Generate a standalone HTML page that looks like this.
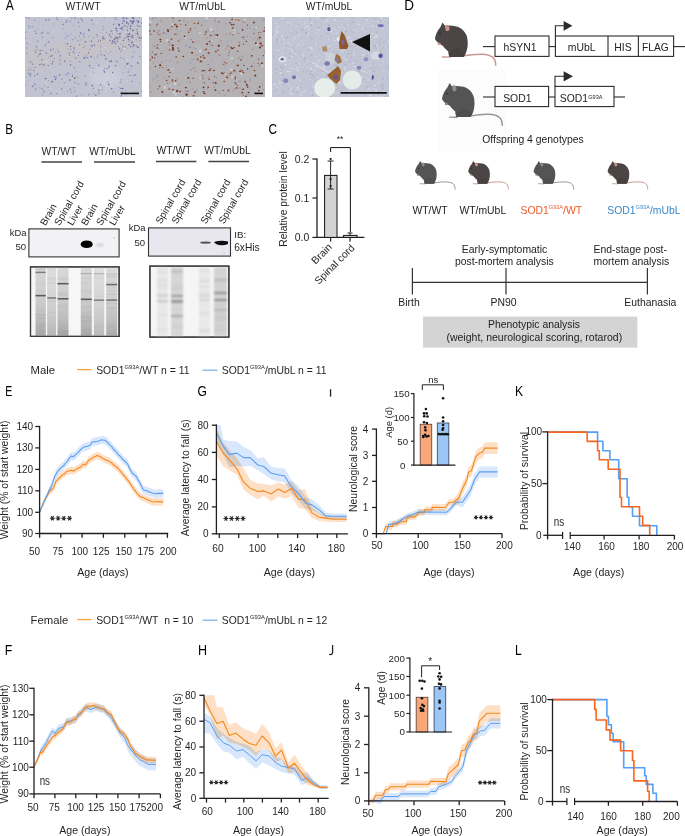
<!DOCTYPE html>
<html><head><meta charset="utf-8"><style>
html,body{margin:0;padding:0;background:#fff;}
svg{display:block;}
text{font-family:"Liberation Sans", sans-serif;}
</style></head><body>
<svg width="685" height="836" viewBox="0 0 685 836" font-family='"Liberation Sans", sans-serif'>
<rect width="685" height="836" fill="#fff"/>
<text font-size="14.3" fill="#000" transform="translate(5.68 9.80) scale(0.845 1)">A</text>
<text x="83.00" y="10.00" font-size="10.3" text-anchor="middle" fill="#231f20" >WT/WT</text>
<text x="202.50" y="10.00" font-size="10.3" text-anchor="middle" fill="#231f20" >WT/mUbL</text>
<text x="329.00" y="10.00" font-size="10.3" text-anchor="middle" fill="#231f20" >WT/mUbL</text>
<defs><filter id="fb35" filterUnits="userSpaceOnUse" x="0" y="0" width="685" height="836"><feGaussianBlur stdDeviation="0.35"/></filter><filter id="fb5" filterUnits="userSpaceOnUse" x="0" y="0" width="685" height="836"><feGaussianBlur stdDeviation="0.5"/></filter><filter id="fb7" filterUnits="userSpaceOnUse" x="0" y="0" width="685" height="836"><feGaussianBlur stdDeviation="0.7"/></filter><filter id="fb12" filterUnits="userSpaceOnUse" x="0" y="0" width="685" height="836"><feGaussianBlur stdDeviation="1.1"/></filter><filter id="fb9" filterUnits="userSpaceOnUse" x="0" y="0" width="685" height="836"><feGaussianBlur stdDeviation="0.85"/></filter><filter id="fb4" filterUnits="userSpaceOnUse" x="0" y="0" width="685" height="836"><feGaussianBlur stdDeviation="4"/></filter></defs>
<clipPath id="c1"><rect x="25" y="17" width="117" height="80"/></clipPath>
<g clip-path="url(#c1)">
<rect x="25" y="17" width="117" height="80" fill="#c1c3d0"/>
<g filter="url(#fb4)"><polygon points="20,50 60,44 100,36 145,30 145,48 100,56 60,66 20,72" fill="#c8c1c2" opacity="0.6"/><ellipse cx="105" cy="78" rx="16" ry="12" fill="#cdd0dc" opacity="0.8"/></g>
<g filter="url(#fb35)">
<circle cx="62.9" cy="29.1" r="0.48" fill="#6a6aa6"/>
<circle cx="35.1" cy="50.5" r="0.55" fill="#6a6aa6"/>
<circle cx="98.4" cy="92.8" r="0.61" fill="#8c6a5e"/>
<circle cx="93.0" cy="68.1" r="0.67" fill="#7e81ba"/>
<circle cx="97.4" cy="56.7" r="0.76" fill="#9699c6"/>
<circle cx="78.0" cy="41.0" r="0.77" fill="#8b8ec0"/>
<circle cx="60.1" cy="56.6" r="0.59" fill="#9699c6"/>
<circle cx="139.7" cy="26.4" r="0.62" fill="#7072ad"/>
<circle cx="82.2" cy="20.1" r="0.76" fill="#6a6aa6"/>
<circle cx="120.7" cy="44.2" r="0.59" fill="#9699c6"/>
<circle cx="78.4" cy="84.2" r="0.64" fill="#7e81ba"/>
<circle cx="107.1" cy="68.8" r="0.78" fill="#7072ad"/>
<circle cx="128.8" cy="44.8" r="0.83" fill="#7072ad"/>
<circle cx="38.7" cy="21.7" r="0.50" fill="#8b8ec0"/>
<circle cx="72.0" cy="39.2" r="0.50" fill="#9699c6"/>
<circle cx="57.6" cy="50.2" r="0.59" fill="#9699c6"/>
<circle cx="52.3" cy="55.8" r="0.69" fill="#7072ad"/>
<circle cx="42.0" cy="59.8" r="0.69" fill="#7072ad"/>
<circle cx="105.8" cy="58.2" r="0.72" fill="#7e81ba"/>
<circle cx="126.9" cy="93.2" r="0.67" fill="#9699c6"/>
<circle cx="42.7" cy="25.1" r="0.46" fill="#8b8ec0"/>
<circle cx="42.4" cy="37.2" r="0.60" fill="#7e81ba"/>
<circle cx="82.1" cy="95.2" r="0.57" fill="#8b8ec0"/>
<circle cx="65.1" cy="38.2" r="0.51" fill="#7e81ba"/>
<circle cx="136.4" cy="45.9" r="0.73" fill="#7e81ba"/>
<circle cx="123.9" cy="58.5" r="0.59" fill="#8b8ec0"/>
<circle cx="116.1" cy="43.4" r="0.54" fill="#8b8ec0"/>
<circle cx="85.6" cy="45.4" r="0.46" fill="#7e81ba"/>
<circle cx="80.3" cy="32.5" r="0.59" fill="#7072ad"/>
<circle cx="48.0" cy="33.3" r="0.81" fill="#7e81ba"/>
<circle cx="102.3" cy="89.8" r="0.75" fill="#9699c6"/>
<circle cx="135.7" cy="74.7" r="0.75" fill="#7e81ba"/>
<circle cx="121.7" cy="95.4" r="0.59" fill="#6a6aa6"/>
<circle cx="27.5" cy="80.9" r="0.49" fill="#8b8ec0"/>
<circle cx="93.6" cy="37.7" r="0.62" fill="#8b8ec0"/>
<circle cx="111.6" cy="88.8" r="0.78" fill="#6a6aa6"/>
<circle cx="132.4" cy="57.1" r="0.66" fill="#7e81ba"/>
<circle cx="115.9" cy="65.7" r="0.51" fill="#8b8ec0"/>
<circle cx="109.8" cy="61.5" r="0.66" fill="#6a6aa6"/>
<circle cx="77.9" cy="19.2" r="0.48" fill="#7072ad"/>
<circle cx="84.1" cy="58.0" r="0.63" fill="#6a6aa6"/>
<circle cx="84.4" cy="36.8" r="0.66" fill="#7072ad"/>
<circle cx="129.5" cy="33.2" r="0.63" fill="#9699c6"/>
<circle cx="33.6" cy="70.6" r="0.81" fill="#8b8ec0"/>
<circle cx="100.3" cy="46.3" r="0.55" fill="#8b8ec0"/>
<circle cx="50.7" cy="93.2" r="0.64" fill="#8b8ec0"/>
<circle cx="75.5" cy="58.2" r="0.59" fill="#8b8ec0"/>
<circle cx="35.8" cy="46.3" r="0.59" fill="#9699c6"/>
<circle cx="27.1" cy="43.5" r="0.65" fill="#7e81ba"/>
<circle cx="132.5" cy="35.3" r="0.80" fill="#7e81ba"/>
<circle cx="40.2" cy="50.8" r="0.81" fill="#7072ad"/>
<circle cx="87.8" cy="58.2" r="0.58" fill="#7072ad"/>
<circle cx="105.5" cy="51.0" r="0.48" fill="#7e81ba"/>
<circle cx="118.8" cy="23.7" r="0.48" fill="#7e81ba"/>
<circle cx="64.7" cy="61.2" r="0.82" fill="#7072ad"/>
<circle cx="30.1" cy="73.8" r="0.84" fill="#7072ad"/>
<circle cx="48.6" cy="42.0" r="0.75" fill="#7072ad"/>
<circle cx="103.6" cy="38.6" r="0.77" fill="#8c6a5e"/>
<circle cx="120.8" cy="51.6" r="0.78" fill="#9699c6"/>
<circle cx="48.2" cy="87.6" r="0.51" fill="#7072ad"/>
<circle cx="122.9" cy="18.1" r="0.80" fill="#9699c6"/>
<circle cx="34.9" cy="84.3" r="0.72" fill="#7072ad"/>
<circle cx="56.5" cy="17.3" r="0.58" fill="#6a6aa6"/>
<circle cx="46.4" cy="43.8" r="0.48" fill="#7072ad"/>
<circle cx="48.5" cy="57.4" r="0.45" fill="#7072ad"/>
<circle cx="41.8" cy="63.9" r="0.61" fill="#7072ad"/>
<circle cx="52.2" cy="63.8" r="0.75" fill="#6a6aa6"/>
<circle cx="122.7" cy="88.4" r="0.74" fill="#6a6aa6"/>
<circle cx="86.3" cy="57.3" r="0.78" fill="#7e81ba"/>
<circle cx="93.3" cy="88.4" r="0.73" fill="#8b8ec0"/>
<circle cx="29.9" cy="68.0" r="0.83" fill="#9699c6"/>
<circle cx="90.3" cy="67.2" r="0.72" fill="#9699c6"/>
<circle cx="78.5" cy="22.6" r="0.81" fill="#7e81ba"/>
<circle cx="33.7" cy="38.2" r="0.53" fill="#9699c6"/>
<circle cx="69.8" cy="55.3" r="0.72" fill="#7e81ba"/>
<circle cx="54.7" cy="76.5" r="0.68" fill="#7e81ba"/>
<circle cx="50.5" cy="56.2" r="0.73" fill="#7072ad"/>
<circle cx="79.6" cy="26.5" r="0.53" fill="#7e81ba"/>
<circle cx="27.0" cy="53.7" r="0.78" fill="#9699c6"/>
<circle cx="70.3" cy="90.3" r="0.48" fill="#7e81ba"/>
<circle cx="121.0" cy="57.7" r="0.73" fill="#8b8ec0"/>
<circle cx="127.5" cy="48.5" r="0.51" fill="#9699c6"/>
<circle cx="72.4" cy="75.2" r="0.60" fill="#7e81ba"/>
<circle cx="25.2" cy="77.1" r="0.50" fill="#8b8ec0"/>
<circle cx="130.5" cy="40.2" r="0.60" fill="#9699c6"/>
<circle cx="126.8" cy="23.1" r="0.75" fill="#7e81ba"/>
<circle cx="31.0" cy="70.0" r="0.51" fill="#7072ad"/>
<circle cx="61.9" cy="78.9" r="0.62" fill="#7e81ba"/>
<circle cx="98.8" cy="90.1" r="0.67" fill="#7c5a55"/>
<circle cx="77.8" cy="77.2" r="0.56" fill="#7e81ba"/>
<circle cx="89.4" cy="30.7" r="0.56" fill="#7072ad"/>
<circle cx="139.2" cy="37.8" r="0.71" fill="#7072ad"/>
<circle cx="103.3" cy="26.6" r="0.48" fill="#6a6aa6"/>
<circle cx="83.2" cy="34.6" r="0.85" fill="#9699c6"/>
<circle cx="89.1" cy="36.5" r="0.52" fill="#6a6aa6"/>
<circle cx="53.0" cy="37.7" r="0.80" fill="#9699c6"/>
<circle cx="112.3" cy="33.8" r="0.56" fill="#7e81ba"/>
<circle cx="92.2" cy="45.8" r="0.72" fill="#6a6aa6"/>
<circle cx="126.0" cy="34.3" r="0.56" fill="#8b8ec0"/>
<circle cx="100.6" cy="51.5" r="0.57" fill="#7e81ba"/>
<circle cx="74.7" cy="78.1" r="0.84" fill="#7c5a55"/>
<circle cx="133.8" cy="91.3" r="0.64" fill="#9699c6"/>
<circle cx="37.8" cy="29.4" r="0.72" fill="#9699c6"/>
<circle cx="91.6" cy="20.0" r="0.83" fill="#7072ad"/>
<circle cx="47.7" cy="87.8" r="0.48" fill="#8b8ec0"/>
<circle cx="133.2" cy="35.1" r="0.46" fill="#7072ad"/>
<circle cx="67.4" cy="48.7" r="0.45" fill="#7072ad"/>
<circle cx="84.1" cy="33.4" r="0.57" fill="#8b8ec0"/>
<circle cx="51.1" cy="50.4" r="0.72" fill="#6a6aa6"/>
<circle cx="71.0" cy="34.0" r="0.51" fill="#7e81ba"/>
<circle cx="46.5" cy="53.0" r="0.73" fill="#7072ad"/>
<circle cx="141.7" cy="91.5" r="0.52" fill="#6a6aa6"/>
<circle cx="28.7" cy="70.2" r="0.60" fill="#7072ad"/>
<circle cx="74.2" cy="87.8" r="0.75" fill="#9699c6"/>
<circle cx="121.1" cy="82.8" r="0.47" fill="#9699c6"/>
<circle cx="88.4" cy="52.7" r="0.58" fill="#7c5a55"/>
<circle cx="54.0" cy="67.0" r="0.60" fill="#9699c6"/>
<circle cx="132.6" cy="37.6" r="0.75" fill="#6a6aa6"/>
<circle cx="56.9" cy="93.6" r="0.55" fill="#7072ad"/>
<circle cx="59.8" cy="74.7" r="0.77" fill="#8c6a5e"/>
<circle cx="37.5" cy="74.2" r="0.76" fill="#7072ad"/>
<circle cx="120.3" cy="27.6" r="0.45" fill="#7072ad"/>
<circle cx="115.4" cy="65.6" r="0.58" fill="#7072ad"/>
<circle cx="94.7" cy="58.0" r="0.51" fill="#9699c6"/>
<circle cx="29.0" cy="61.2" r="0.58" fill="#9699c6"/>
<circle cx="140.6" cy="38.2" r="0.48" fill="#7e81ba"/>
<circle cx="40.6" cy="53.9" r="0.81" fill="#8b8ec0"/>
<circle cx="123.4" cy="40.5" r="0.68" fill="#7072ad"/>
<circle cx="55.5" cy="52.2" r="0.52" fill="#8b8ec0"/>
<circle cx="128.4" cy="63.3" r="0.61" fill="#8b8ec0"/>
<circle cx="52.1" cy="81.7" r="0.85" fill="#8c6a5e"/>
<circle cx="138.8" cy="63.7" r="0.60" fill="#8b8ec0"/>
<circle cx="55.4" cy="79.2" r="0.49" fill="#6a6aa6"/>
<circle cx="65.9" cy="20.0" r="0.47" fill="#8c6a5e"/>
<circle cx="120.3" cy="82.5" r="0.60" fill="#6a6aa6"/>
<circle cx="48.8" cy="80.6" r="0.48" fill="#7e81ba"/>
<circle cx="102.7" cy="29.4" r="0.71" fill="#9699c6"/>
<circle cx="72.9" cy="39.7" r="0.57" fill="#7e81ba"/>
<circle cx="91.3" cy="45.6" r="0.62" fill="#7072ad"/>
<circle cx="70.7" cy="49.4" r="0.83" fill="#9699c6"/>
<circle cx="74.6" cy="82.6" r="0.80" fill="#9699c6"/>
<circle cx="119.4" cy="48.7" r="0.68" fill="#7072ad"/>
<circle cx="45.1" cy="44.8" r="0.51" fill="#8b8ec0"/>
<circle cx="37.7" cy="56.2" r="0.77" fill="#8b8ec0"/>
<circle cx="123.0" cy="20.5" r="0.58" fill="#6a6aa6"/>
<circle cx="70.4" cy="89.3" r="0.78" fill="#8b8ec0"/>
<circle cx="125.2" cy="66.7" r="0.53" fill="#9699c6"/>
<circle cx="50.5" cy="49.0" r="0.66" fill="#9699c6"/>
<circle cx="42.5" cy="94.7" r="0.53" fill="#6a6aa6"/>
<circle cx="103.7" cy="70.4" r="0.61" fill="#9699c6"/>
<circle cx="98.4" cy="41.5" r="0.62" fill="#6a6aa6"/>
<circle cx="70.5" cy="46.4" r="0.65" fill="#7c5a55"/>
<circle cx="79.4" cy="52.7" r="0.70" fill="#9699c6"/>
<circle cx="119.8" cy="49.0" r="0.48" fill="#7072ad"/>
<circle cx="35.7" cy="52.4" r="0.65" fill="#8c6a5e"/>
<circle cx="34.6" cy="75.7" r="0.65" fill="#7e81ba"/>
<circle cx="129.7" cy="69.2" r="0.46" fill="#7e81ba"/>
<circle cx="139.9" cy="56.3" r="0.82" fill="#8b8ec0"/>
<circle cx="109.4" cy="34.7" r="0.78" fill="#6a6aa6"/>
<circle cx="120.4" cy="28.5" r="0.82" fill="#8b8ec0"/>
<circle cx="97.1" cy="36.0" r="0.60" fill="#8b8ec0"/>
<circle cx="43.9" cy="91.9" r="0.81" fill="#8b8ec0"/>
<circle cx="125.4" cy="94.3" r="0.66" fill="#7e81ba"/>
<circle cx="87.7" cy="85.5" r="0.60" fill="#9699c6"/>
<circle cx="92.6" cy="45.8" r="0.76" fill="#9699c6"/>
<circle cx="85.4" cy="41.8" r="0.84" fill="#6a6aa6"/>
<circle cx="129.8" cy="75.6" r="0.54" fill="#7072ad"/>
<circle cx="75.6" cy="58.0" r="0.81" fill="#8b8ec0"/>
<circle cx="91.4" cy="41.3" r="0.66" fill="#6a6aa6"/>
<circle cx="98.0" cy="55.0" r="0.50" fill="#8b8ec0"/>
<circle cx="102.9" cy="38.6" r="0.77" fill="#7e81ba"/>
<circle cx="121.0" cy="88.4" r="0.68" fill="#6a6aa6"/>
<circle cx="110.8" cy="36.9" r="0.81" fill="#7e81ba"/>
<circle cx="131.7" cy="25.4" r="0.71" fill="#8b8ec0"/>
<circle cx="48.3" cy="65.6" r="0.71" fill="#6a6aa6"/>
<circle cx="61.2" cy="41.0" r="0.47" fill="#9699c6"/>
<circle cx="25.7" cy="84.6" r="0.64" fill="#9699c6"/>
<circle cx="141.6" cy="37.9" r="0.71" fill="#7e81ba"/>
<circle cx="112.7" cy="72.6" r="0.73" fill="#7072ad"/>
<circle cx="104.5" cy="71.9" r="0.84" fill="#7072ad"/>
<circle cx="137.9" cy="34.4" r="0.80" fill="#7e81ba"/>
<circle cx="70.5" cy="65.1" r="0.79" fill="#6a6aa6"/>
<circle cx="123.2" cy="72.8" r="0.62" fill="#8b8ec0"/>
<circle cx="61.0" cy="34.0" r="0.48" fill="#8b8ec0"/>
<circle cx="28.1" cy="25.5" r="0.59" fill="#8b8ec0"/>
<circle cx="28.6" cy="28.1" r="0.47" fill="#7e81ba"/>
<circle cx="32.7" cy="64.2" r="0.60" fill="#6a6aa6"/>
<circle cx="32.7" cy="86.4" r="0.83" fill="#7e81ba"/>
<circle cx="48.8" cy="19.7" r="0.81" fill="#7e81ba"/>
<circle cx="98.9" cy="40.0" r="0.49" fill="#7e81ba"/>
<circle cx="100.6" cy="40.6" r="0.58" fill="#7c5a55"/>
<circle cx="133.8" cy="20.9" r="0.81" fill="#6a6aa6"/>
<circle cx="73.3" cy="51.9" r="0.76" fill="#7072ad"/>
<circle cx="30.6" cy="62.3" r="0.74" fill="#7e81ba"/>
<circle cx="58.6" cy="51.9" r="0.66" fill="#7072ad"/>
<circle cx="139.4" cy="17.3" r="0.65" fill="#8b8ec0"/>
<circle cx="94.3" cy="93.6" r="0.68" fill="#8b8ec0"/>
<circle cx="50.1" cy="73.0" r="0.49" fill="#7e81ba"/>
<circle cx="63.2" cy="24.6" r="0.81" fill="#7e81ba"/>
<circle cx="100.6" cy="46.8" r="0.57" fill="#9699c6"/>
<circle cx="83.6" cy="47.3" r="0.80" fill="#8b8ec0"/>
<circle cx="39.8" cy="64.5" r="0.73" fill="#6a6aa6"/>
<circle cx="65.8" cy="43.1" r="0.51" fill="#9699c6"/>
<circle cx="111.8" cy="30.6" r="0.63" fill="#7072ad"/>
<circle cx="39.7" cy="54.0" r="0.80" fill="#8b8ec0"/>
<circle cx="56.3" cy="77.4" r="0.70" fill="#8b8ec0"/>
<circle cx="109.6" cy="65.2" r="0.54" fill="#8b8ec0"/>
<circle cx="102.0" cy="32.6" r="0.51" fill="#8b8ec0"/>
<circle cx="110.8" cy="51.8" r="0.53" fill="#7e81ba"/>
<circle cx="139.8" cy="40.7" r="0.46" fill="#7072ad"/>
<circle cx="72.4" cy="76.3" r="0.62" fill="#6a6aa6"/>
<circle cx="100.7" cy="84.7" r="0.71" fill="#6a6aa6"/>
<circle cx="104.5" cy="68.3" r="0.58" fill="#7e81ba"/>
<circle cx="53.4" cy="49.0" r="0.74" fill="#8b8ec0"/>
<circle cx="74.6" cy="53.4" r="0.70" fill="#9699c6"/>
<circle cx="102.3" cy="86.8" r="0.58" fill="#7e81ba"/>
<circle cx="88.6" cy="29.9" r="0.83" fill="#6a6aa6"/>
<circle cx="80.7" cy="18.3" r="0.60" fill="#7072ad"/>
<circle cx="135.9" cy="33.8" r="0.72" fill="#9699c6"/>
<circle cx="134.1" cy="75.3" r="0.71" fill="#7072ad"/>
<circle cx="71.8" cy="18.1" r="0.62" fill="#7072ad"/>
<circle cx="37.8" cy="41.3" r="0.83" fill="#8b8ec0"/>
<circle cx="133.7" cy="22.5" r="0.53" fill="#6a6aa6"/>
<circle cx="120.3" cy="28.7" r="0.78" fill="#9699c6"/>
<circle cx="59.4" cy="60.9" r="0.50" fill="#9699c6"/>
<circle cx="124.5" cy="38.4" r="0.60" fill="#7072ad"/>
<circle cx="104.4" cy="55.5" r="0.77" fill="#7072ad"/>
<circle cx="60.3" cy="55.4" r="0.62" fill="#7e81ba"/>
<circle cx="67.4" cy="91.3" r="0.47" fill="#6a6aa6"/>
<circle cx="116.7" cy="28.2" r="0.70" fill="#7e81ba"/>
<circle cx="96.2" cy="63.3" r="0.52" fill="#9699c6"/>
<circle cx="42.9" cy="89.3" r="0.52" fill="#6a6aa6"/>
<circle cx="35.6" cy="89.1" r="0.70" fill="#7072ad"/>
<circle cx="106.1" cy="59.5" r="0.63" fill="#7e81ba"/>
<circle cx="82.7" cy="21.7" r="0.51" fill="#9699c6"/>
<circle cx="44.3" cy="65.0" r="0.74" fill="#8b8ec0"/>
<circle cx="79.8" cy="62.0" r="0.79" fill="#7072ad"/>
<circle cx="30.4" cy="75.9" r="0.77" fill="#7e81ba"/>
<circle cx="109.0" cy="67.0" r="0.79" fill="#7072ad"/>
<circle cx="116.1" cy="61.3" r="0.56" fill="#7072ad"/>
<circle cx="121.8" cy="49.3" r="0.65" fill="#7072ad"/>
<circle cx="65.3" cy="33.3" r="0.50" fill="#8b8ec0"/>
<circle cx="60.0" cy="63.9" r="0.76" fill="#7e81ba"/>
<circle cx="89.9" cy="49.5" r="0.68" fill="#9699c6"/>
<circle cx="25.7" cy="32.2" r="0.69" fill="#7e81ba"/>
<circle cx="131.4" cy="65.9" r="0.70" fill="#6a6aa6"/>
<circle cx="34.7" cy="20.2" r="0.70" fill="#8b8ec0"/>
<circle cx="46.2" cy="20.0" r="0.82" fill="#7e81ba"/>
<circle cx="121.2" cy="79.9" r="0.55" fill="#7072ad"/>
<circle cx="29.0" cy="18.6" r="0.68" fill="#7e81ba"/>
<circle cx="86.1" cy="83.0" r="0.62" fill="#9699c6"/>
<circle cx="26.7" cy="48.0" r="0.69" fill="#8b8ec0"/>
<circle cx="73.3" cy="25.2" r="0.53" fill="#8b8ec0"/>
<circle cx="75.0" cy="17.7" r="0.84" fill="#7e81ba"/>
<circle cx="39.2" cy="54.8" r="0.56" fill="#6a6aa6"/>
<circle cx="110.8" cy="32.0" r="0.47" fill="#8b8ec0"/>
<circle cx="34.9" cy="67.3" r="0.63" fill="#7072ad"/>
<circle cx="128.3" cy="71.9" r="0.61" fill="#7072ad"/>
<circle cx="44.4" cy="85.9" r="0.47" fill="#7072ad"/>
<circle cx="138.1" cy="26.3" r="0.83" fill="#8b8ec0"/>
<circle cx="73.9" cy="47.9" r="0.76" fill="#7072ad"/>
<circle cx="91.3" cy="40.4" r="0.47" fill="#6a6aa6"/>
<circle cx="95.9" cy="95.2" r="0.69" fill="#7072ad"/>
<circle cx="139.2" cy="36.7" r="0.60" fill="#9699c6"/>
<circle cx="25.2" cy="38.0" r="0.68" fill="#7e81ba"/>
<circle cx="41.5" cy="88.2" r="0.51" fill="#6a6aa6"/>
<circle cx="131.9" cy="44.7" r="0.48" fill="#6a6aa6"/>
<circle cx="69.7" cy="80.0" r="0.84" fill="#7072ad"/>
<circle cx="54.8" cy="77.1" r="0.63" fill="#7e81ba"/>
<circle cx="66.5" cy="22.0" r="0.66" fill="#7072ad"/>
<circle cx="86.1" cy="55.1" r="0.69" fill="#8b8ec0"/>
<circle cx="92.6" cy="45.7" r="0.76" fill="#8b8ec0"/>
<circle cx="132.9" cy="56.5" r="0.60" fill="#9699c6"/>
<circle cx="43.3" cy="64.8" r="0.59" fill="#6a6aa6"/>
<circle cx="36.0" cy="33.4" r="0.68" fill="#6a6aa6"/>
<circle cx="55.6" cy="79.3" r="0.83" fill="#6a6aa6"/>
<circle cx="137.7" cy="37.3" r="0.47" fill="#8b8ec0"/>
<circle cx="68.2" cy="73.4" r="0.79" fill="#7e81ba"/>
<circle cx="99.9" cy="90.8" r="0.49" fill="#7072ad"/>
<circle cx="100.0" cy="93.5" r="0.61" fill="#9699c6"/>
<circle cx="68.4" cy="35.8" r="0.52" fill="#7072ad"/>
<circle cx="31.9" cy="61.2" r="0.46" fill="#7e81ba"/>
<circle cx="85.1" cy="76.2" r="0.64" fill="#7e81ba"/>
<circle cx="113.3" cy="92.2" r="0.57" fill="#6a6aa6"/>
<circle cx="101.3" cy="54.7" r="0.61" fill="#7072ad"/>
<circle cx="104.3" cy="18.0" r="0.53" fill="#7e81ba"/>
<circle cx="122.4" cy="23.2" r="0.60" fill="#8b8ec0"/>
<circle cx="137.1" cy="91.1" r="0.46" fill="#7e81ba"/>
<circle cx="64.8" cy="82.8" r="0.70" fill="#8b8ec0"/>
<circle cx="111.1" cy="31.4" r="0.63" fill="#8b8ec0"/>
<circle cx="42.5" cy="50.5" r="0.55" fill="#7e81ba"/>
<circle cx="123.2" cy="43.8" r="0.52" fill="#9699c6"/>
<circle cx="78.4" cy="55.6" r="0.51" fill="#6a6aa6"/>
<circle cx="80.9" cy="39.9" r="0.55" fill="#8b8ec0"/>
<circle cx="75.6" cy="37.9" r="0.55" fill="#8b8ec0"/>
<circle cx="110.0" cy="40.5" r="0.84" fill="#7e81ba"/>
<circle cx="84.4" cy="57.9" r="0.77" fill="#6a6aa6"/>
<circle cx="67.1" cy="20.2" r="0.56" fill="#8b8ec0"/>
<circle cx="46.1" cy="78.6" r="0.53" fill="#7e81ba"/>
<circle cx="129.1" cy="75.5" r="0.52" fill="#8b8ec0"/>
<circle cx="107.8" cy="81.9" r="0.53" fill="#7e81ba"/>
<circle cx="85.8" cy="84.3" r="0.66" fill="#7072ad"/>
<circle cx="123.5" cy="86.2" r="0.46" fill="#9699c6"/>
<circle cx="102.9" cy="36.9" r="0.68" fill="#7c5a55"/>
<circle cx="92.3" cy="85.6" r="0.82" fill="#6a6aa6"/>
<circle cx="66.7" cy="36.6" r="0.82" fill="#9699c6"/>
<circle cx="130.1" cy="40.3" r="0.49" fill="#9699c6"/>
<circle cx="53.5" cy="24.1" r="0.52" fill="#7072ad"/>
<circle cx="106.8" cy="32.6" r="0.46" fill="#6a6aa6"/>
<circle cx="79.3" cy="36.1" r="0.59" fill="#7e81ba"/>
<circle cx="30.3" cy="26.8" r="0.65" fill="#7072ad"/>
<circle cx="39.2" cy="87.8" r="0.54" fill="#8b8ec0"/>
<circle cx="121.6" cy="92.0" r="0.62" fill="#6a6aa6"/>
<circle cx="71.3" cy="92.3" r="0.59" fill="#8b8ec0"/>
<circle cx="108.7" cy="84.4" r="0.84" fill="#7072ad"/>
<circle cx="124.2" cy="21.3" r="0.83" fill="#7072ad"/>
<circle cx="74.4" cy="67.6" r="0.66" fill="#7e81ba"/>
<circle cx="74.2" cy="48.8" r="0.85" fill="#9699c6"/>
<circle cx="119.7" cy="87.7" r="0.46" fill="#6a6aa6"/>
<circle cx="104.4" cy="38.9" r="0.67" fill="#7e81ba"/>
<circle cx="54.3" cy="58.6" r="0.62" fill="#7e81ba"/>
<circle cx="94.5" cy="93.5" r="0.56" fill="#9699c6"/>
<circle cx="134.0" cy="52.2" r="0.80" fill="#9699c6"/>
<circle cx="57.1" cy="75.9" r="0.56" fill="#9699c6"/>
<circle cx="108.1" cy="53.9" r="0.70" fill="#9699c6"/>
<circle cx="88.9" cy="94.6" r="0.82" fill="#8b8ec0"/>
<circle cx="52.9" cy="61.5" r="0.65" fill="#7072ad"/>
<circle cx="89.5" cy="65.5" r="0.71" fill="#6a6aa6"/>
<circle cx="51.3" cy="93.7" r="0.51" fill="#7072ad"/>
<circle cx="41.4" cy="33.2" r="0.56" fill="#6a6aa6"/>
<circle cx="125.2" cy="90.8" r="0.56" fill="#8b8ec0"/>
<circle cx="37.1" cy="49.8" r="0.67" fill="#7e81ba"/>
<circle cx="137.6" cy="62.8" r="0.76" fill="#6a6aa6"/>
<circle cx="69.4" cy="53.2" r="0.63" fill="#7072ad"/>
<circle cx="70.7" cy="61.4" r="0.58" fill="#9699c6"/>
<circle cx="60.1" cy="59.9" r="0.77" fill="#9699c6"/>
<circle cx="93.0" cy="24.0" r="0.58" fill="#6a6aa6"/>
<circle cx="137.2" cy="33.3" r="0.62" fill="#7c5a55"/>
<circle cx="91.1" cy="56.8" r="0.76" fill="#6a6aa6"/>
<circle cx="76.1" cy="83.1" r="0.62" fill="#9699c6"/>
<circle cx="94.6" cy="45.1" r="0.83" fill="#7e81ba"/>
<circle cx="36.6" cy="47.0" r="0.61" fill="#6a6aa6"/>
<circle cx="43.0" cy="32.1" r="0.61" fill="#6a6aa6"/>
<circle cx="93.7" cy="72.3" r="0.49" fill="#7072ad"/>
<circle cx="139.5" cy="83.1" r="0.49" fill="#7072ad"/>
<circle cx="121.0" cy="96.2" r="0.62" fill="#8b8ec0"/>
<circle cx="120.5" cy="33.6" r="0.81" fill="#9699c6"/>
<circle cx="98.7" cy="65.3" r="0.85" fill="#7e81ba"/>
<circle cx="26.3" cy="17.2" r="0.67" fill="#7072ad"/>
<circle cx="45.5" cy="78.5" r="0.80" fill="#6a6aa6"/>
<circle cx="41.8" cy="32.9" r="0.51" fill="#6a6aa6"/>
<circle cx="86.1" cy="82.9" r="0.77" fill="#7e81ba"/>
<circle cx="98.6" cy="85.7" r="0.48" fill="#8b8ec0"/>
<circle cx="70.1" cy="21.4" r="0.68" fill="#7e81ba"/>
<circle cx="97.6" cy="36.9" r="0.47" fill="#6a6aa6"/>
<circle cx="61.8" cy="88.9" r="0.57" fill="#6a6aa6"/>
<circle cx="104.2" cy="71.0" r="0.62" fill="#9699c6"/>
<circle cx="45.3" cy="45.7" r="0.52" fill="#7072ad"/>
<circle cx="67.5" cy="43.8" r="0.80" fill="#7072ad"/>
<circle cx="32.7" cy="26.9" r="0.59" fill="#8b8ec0"/>
<circle cx="79.6" cy="44.6" r="0.62" fill="#7072ad"/>
<circle cx="64.9" cy="29.5" r="0.49" fill="#7072ad"/>
<circle cx="117.1" cy="61.4" r="0.77" fill="#8b8ec0"/>
<circle cx="66.3" cy="74.8" r="0.83" fill="#8b8ec0"/>
<circle cx="80.7" cy="33.4" r="0.72" fill="#7072ad"/>
<circle cx="76.5" cy="96.2" r="0.61" fill="#6a6aa6"/>
<circle cx="127.1" cy="26.8" r="0.67" fill="#7072ad"/>
<circle cx="114.5" cy="19.3" r="0.51" fill="#7e81ba"/>
<circle cx="35.1" cy="31.2" r="0.58" fill="#7e81ba"/>
<circle cx="131.9" cy="81.4" r="0.53" fill="#7072ad"/>
<circle cx="58.8" cy="82.3" r="0.59" fill="#9699c6"/>
<circle cx="57.4" cy="19.4" r="0.72" fill="#7072ad"/>
<circle cx="28.0" cy="73.3" r="0.85" fill="#9699c6"/>
<circle cx="131.8" cy="75.7" r="0.47" fill="#7e81ba"/>
<circle cx="111.4" cy="61.2" r="0.83" fill="#6a6aa6"/>
<circle cx="75.9" cy="71.7" r="0.45" fill="#7072ad"/>
<circle cx="127.4" cy="63.8" r="0.84" fill="#7c5a55"/>
<circle cx="49.6" cy="90.2" r="0.48" fill="#9699c6"/>
<circle cx="97.0" cy="34.7" r="0.66" fill="#7072ad"/>
<circle cx="74.6" cy="91.4" r="0.75" fill="#9699c6"/>
<circle cx="132.3" cy="23.4" r="0.74" fill="#6a66a2"/>
<circle cx="126.7" cy="22.9" r="0.83" fill="#7a6a90"/>
<circle cx="119.8" cy="33.9" r="0.84" fill="#7a6a90"/>
<circle cx="119.1" cy="25.1" r="0.84" fill="#6a66a2"/>
<circle cx="122.7" cy="29.8" r="0.57" fill="#5e5a96"/>
<circle cx="116.1" cy="38.3" r="0.67" fill="#5e5a96"/>
<circle cx="119.1" cy="24.5" r="0.68" fill="#5e5a96"/>
<circle cx="116.0" cy="36.9" r="0.74" fill="#6a66a2"/>
<circle cx="138.5" cy="21.4" r="0.70" fill="#5e5a96"/>
<circle cx="130.9" cy="20.7" r="0.65" fill="#6a66a2"/>
<circle cx="132.3" cy="21.8" r="0.84" fill="#5e5a96"/>
<circle cx="136.9" cy="20.5" r="0.60" fill="#5e5a96"/>
<circle cx="126.6" cy="18.3" r="0.81" fill="#5e5a96"/>
<circle cx="117.9" cy="38.8" r="0.66" fill="#6a66a2"/>
<circle cx="116.8" cy="30.8" r="0.70" fill="#5e5a96"/>
<circle cx="117.0" cy="19.2" r="0.50" fill="#5e5a96"/>
<circle cx="114.5" cy="39.2" r="0.84" fill="#7a6a90"/>
<circle cx="119.9" cy="37.0" r="0.83" fill="#5e5a96"/>
<circle cx="117.7" cy="33.8" r="0.50" fill="#6a66a2"/>
<circle cx="131.3" cy="36.5" r="0.83" fill="#7a6a90"/>
<circle cx="133.0" cy="37.2" r="0.53" fill="#7a6a90"/>
<circle cx="112.8" cy="41.0" r="0.79" fill="#5e5a96"/>
<circle cx="123.0" cy="46.8" r="0.68" fill="#7a6a90"/>
<circle cx="117.1" cy="41.3" r="0.79" fill="#7a6a90"/>
<circle cx="130.5" cy="28.8" r="0.73" fill="#5e5a96"/>
<circle cx="121.6" cy="28.4" r="0.69" fill="#5e5a96"/>
<circle cx="137.1" cy="24.9" r="0.52" fill="#6a66a2"/>
<circle cx="129.0" cy="36.5" r="0.79" fill="#7a6a90"/>
<circle cx="124.1" cy="18.6" r="0.58" fill="#5e5a96"/>
<circle cx="127.0" cy="21.9" r="0.60" fill="#7a6a90"/>
<circle cx="130.8" cy="21.4" r="0.58" fill="#6a66a2"/>
<circle cx="125.3" cy="47.1" r="0.53" fill="#6a66a2"/>
<circle cx="137.5" cy="31.9" r="0.58" fill="#5e5a96"/>
<circle cx="112.1" cy="43.1" r="0.80" fill="#7a6a90"/>
<circle cx="124.8" cy="25.8" r="0.73" fill="#7a6a90"/>
<circle cx="133.3" cy="44.6" r="0.52" fill="#6a66a2"/>
<circle cx="132.0" cy="42.6" r="0.82" fill="#6a66a2"/>
<circle cx="123.4" cy="17.1" r="0.78" fill="#7a6a90"/>
<circle cx="122.4" cy="23.1" r="0.53" fill="#5e5a96"/>
<circle cx="127.5" cy="30.3" r="0.69" fill="#7a6a90"/>
<circle cx="138.0" cy="47.2" r="0.84" fill="#7a6a90"/>
<circle cx="114.4" cy="42.1" r="0.75" fill="#5e5a96"/>
<circle cx="130.3" cy="26.2" r="0.70" fill="#5e5a96"/>
<circle cx="126.4" cy="37.1" r="0.60" fill="#5e5a96"/>
<circle cx="127.9" cy="36.6" r="0.80" fill="#6a66a2"/>
<circle cx="132.4" cy="30.9" r="0.53" fill="#7a6a90"/>
<circle cx="129.4" cy="34.2" r="0.83" fill="#5e5a96"/>
<circle cx="127.9" cy="34.5" r="0.64" fill="#6a66a2"/>
<circle cx="118.8" cy="47.0" r="0.57" fill="#7a6a90"/>
<circle cx="115.4" cy="43.7" r="0.59" fill="#6a66a2"/>
<circle cx="117.6" cy="37.8" r="0.75" fill="#6a66a2"/>
<circle cx="128.6" cy="24.0" r="0.70" fill="#6a66a2"/>
<circle cx="134.1" cy="45.2" r="0.70" fill="#5e5a96"/>
<circle cx="132.4" cy="41.8" r="0.55" fill="#7a6a90"/>
<circle cx="128.5" cy="39.2" r="0.76" fill="#6a66a2"/>
<circle cx="130.8" cy="46.8" r="0.68" fill="#5e5a96"/>
<circle cx="136.9" cy="29.2" r="0.56" fill="#6a66a2"/>
<circle cx="128.9" cy="41.0" r="0.55" fill="#7a6a90"/>
<circle cx="113.7" cy="24.3" r="0.63" fill="#6a66a2"/>
<circle cx="133.1" cy="46.6" r="0.66" fill="#6a66a2"/>
<circle cx="133.2" cy="30.2" r="0.81" fill="#7a6a90"/>
<circle cx="141.7" cy="23.2" r="0.54" fill="#7a6a90"/>
<circle cx="138.1" cy="22.2" r="0.76" fill="#5e5a96"/>
<circle cx="136.1" cy="39.8" r="0.50" fill="#5e5a96"/>
<circle cx="115.7" cy="28.6" r="0.76" fill="#5e5a96"/>
<circle cx="133.7" cy="18.3" r="0.71" fill="#6a66a2"/>
<circle cx="122.7" cy="27.1" r="0.71" fill="#6a66a2"/>
<circle cx="139.8" cy="37.9" r="0.59" fill="#6a66a2"/>
<circle cx="132.8" cy="17.7" r="0.85" fill="#5e5a96"/>
<circle cx="115.4" cy="17.6" r="0.54" fill="#5e5a96"/>
<circle cx="46.7" cy="61.3" r="0.72" fill="#d8dae2"/>
<circle cx="105.4" cy="47.5" r="0.66" fill="#d8dae2"/>
<circle cx="127.4" cy="60.1" r="0.88" fill="#d8dae2"/>
<circle cx="119.6" cy="92.9" r="0.61" fill="#d8dae2"/>
<circle cx="65.1" cy="29.1" r="0.80" fill="#d8dae2"/>
<circle cx="127.1" cy="81.0" r="0.61" fill="#d8dae2"/>
<circle cx="46.3" cy="82.5" r="0.87" fill="#d8dae2"/>
<circle cx="70.9" cy="55.1" r="0.66" fill="#d8dae2"/>
<circle cx="123.9" cy="48.5" r="0.95" fill="#d8dae2"/>
<circle cx="96.5" cy="23.1" r="0.73" fill="#d8dae2"/>
<circle cx="50.3" cy="88.5" r="0.84" fill="#d8dae2"/>
<circle cx="30.1" cy="30.6" r="0.74" fill="#d8dae2"/>
<circle cx="79.7" cy="63.2" r="0.76" fill="#d8dae2"/>
<circle cx="66.4" cy="17.5" r="0.83" fill="#d8dae2"/>
<circle cx="64.1" cy="18.6" r="0.78" fill="#d8dae2"/>
</g></g>
<line x1="120.60" y1="93.40" x2="139.00" y2="93.40" stroke="#111" stroke-width="1.6" />
<clipPath id="c2"><rect x="149" y="17" width="116" height="80"/></clipPath>
<g clip-path="url(#c2)">
<rect x="149" y="17" width="116" height="80" fill="#b4b2b5"/>
<g filter="url(#fb35)">
<circle cx="263.4" cy="20.6" r="0.44" fill="#7f7db0"/>
<circle cx="180.6" cy="38.9" r="0.55" fill="#8c8ab8"/>
<circle cx="190.4" cy="62.9" r="0.58" fill="#7f7db0"/>
<circle cx="264.1" cy="19.7" r="0.57" fill="#7f7db0"/>
<circle cx="250.2" cy="78.9" r="0.59" fill="#7f7db0"/>
<circle cx="191.1" cy="39.5" r="0.64" fill="#7f7db0"/>
<circle cx="228.0" cy="41.3" r="0.63" fill="#8c8ab8"/>
<circle cx="208.0" cy="67.8" r="0.51" fill="#8c8ab8"/>
<circle cx="187.8" cy="73.3" r="0.60" fill="#8c8ab8"/>
<circle cx="207.4" cy="88.5" r="0.64" fill="#8c8ab8"/>
<circle cx="166.5" cy="33.4" r="0.67" fill="#8c8ab8"/>
<circle cx="196.0" cy="48.7" r="0.63" fill="#7f7db0"/>
<circle cx="217.1" cy="28.5" r="0.62" fill="#8c8ab8"/>
<circle cx="233.3" cy="61.1" r="0.68" fill="#8c8ab8"/>
<circle cx="157.5" cy="32.2" r="0.68" fill="#7f7db0"/>
<circle cx="184.3" cy="45.3" r="0.54" fill="#8c8ab8"/>
<circle cx="232.7" cy="90.8" r="0.65" fill="#8c8ab8"/>
<circle cx="253.3" cy="39.1" r="0.48" fill="#7f7db0"/>
<circle cx="237.0" cy="67.1" r="0.47" fill="#7f7db0"/>
<circle cx="174.3" cy="49.0" r="0.46" fill="#8c8ab8"/>
<circle cx="249.2" cy="68.8" r="0.46" fill="#7f7db0"/>
<circle cx="260.7" cy="65.1" r="0.42" fill="#8c8ab8"/>
<circle cx="232.4" cy="17.4" r="0.48" fill="#7f7db0"/>
<circle cx="223.2" cy="90.8" r="0.46" fill="#8c8ab8"/>
<circle cx="249.7" cy="19.2" r="0.55" fill="#8c8ab8"/>
<circle cx="169.2" cy="86.1" r="0.64" fill="#7f7db0"/>
<circle cx="221.7" cy="43.8" r="0.55" fill="#8c8ab8"/>
<circle cx="178.8" cy="54.1" r="0.40" fill="#8c8ab8"/>
<circle cx="214.4" cy="96.0" r="0.42" fill="#8c8ab8"/>
<circle cx="167.2" cy="18.5" r="0.46" fill="#7f7db0"/>
<circle cx="190.5" cy="45.9" r="0.50" fill="#7f7db0"/>
<circle cx="225.3" cy="65.1" r="0.50" fill="#8c8ab8"/>
<circle cx="243.4" cy="55.2" r="0.41" fill="#8c8ab8"/>
<circle cx="224.6" cy="61.0" r="0.61" fill="#8c8ab8"/>
<circle cx="190.9" cy="59.4" r="0.48" fill="#8c8ab8"/>
<circle cx="150.0" cy="55.1" r="0.60" fill="#8c8ab8"/>
<circle cx="166.5" cy="67.3" r="0.52" fill="#7f7db0"/>
<circle cx="257.7" cy="67.0" r="0.44" fill="#7f7db0"/>
<circle cx="213.4" cy="31.5" r="0.68" fill="#8c8ab8"/>
<circle cx="234.6" cy="89.2" r="0.66" fill="#7f7db0"/>
<circle cx="210.3" cy="45.1" r="0.61" fill="#8c8ab8"/>
<circle cx="263.0" cy="56.9" r="0.59" fill="#8c8ab8"/>
<circle cx="253.5" cy="48.1" r="0.46" fill="#7f7db0"/>
<circle cx="161.5" cy="75.7" r="0.42" fill="#8c8ab8"/>
<circle cx="227.2" cy="45.1" r="0.47" fill="#8c8ab8"/>
<circle cx="196.6" cy="90.5" r="0.68" fill="#7f7db0"/>
<circle cx="152.6" cy="18.7" r="0.61" fill="#7f7db0"/>
<circle cx="175.8" cy="33.3" r="0.63" fill="#8c8ab8"/>
<circle cx="183.6" cy="96.5" r="0.46" fill="#7f7db0"/>
<circle cx="204.4" cy="91.7" r="0.63" fill="#7f7db0"/>
<circle cx="244.4" cy="39.6" r="0.50" fill="#8c8ab8"/>
<circle cx="250.2" cy="37.0" r="0.50" fill="#8c8ab8"/>
<circle cx="173.6" cy="21.2" r="0.63" fill="#8c8ab8"/>
<circle cx="154.4" cy="78.9" r="0.53" fill="#8c8ab8"/>
<circle cx="249.2" cy="96.6" r="0.49" fill="#7f7db0"/>
<circle cx="242.4" cy="29.2" r="0.67" fill="#7f7db0"/>
<circle cx="254.7" cy="29.1" r="0.62" fill="#7f7db0"/>
<circle cx="236.2" cy="54.2" r="0.52" fill="#8c8ab8"/>
<circle cx="188.4" cy="90.5" r="0.61" fill="#8c8ab8"/>
<circle cx="262.6" cy="19.6" r="0.47" fill="#7f7db0"/>
<circle cx="153.4" cy="57.4" r="0.47" fill="#8c8ab8"/>
<circle cx="230.0" cy="75.3" r="0.41" fill="#8c8ab8"/>
<circle cx="156.5" cy="25.8" r="0.69" fill="#7f7db0"/>
<circle cx="209.9" cy="17.2" r="0.47" fill="#7f7db0"/>
<circle cx="222.5" cy="60.6" r="0.70" fill="#8c8ab8"/>
<circle cx="246.4" cy="93.6" r="0.42" fill="#7f7db0"/>
<circle cx="248.0" cy="94.8" r="0.47" fill="#7f7db0"/>
<circle cx="180.7" cy="31.2" r="0.48" fill="#7f7db0"/>
<circle cx="261.1" cy="32.7" r="0.41" fill="#8c8ab8"/>
<circle cx="180.0" cy="43.1" r="0.41" fill="#8c8ab8"/>
<circle cx="212.1" cy="60.9" r="0.61" fill="#8c8ab8"/>
<circle cx="195.3" cy="42.5" r="0.53" fill="#7f7db0"/>
<circle cx="193.9" cy="47.8" r="0.52" fill="#7f7db0"/>
<circle cx="253.2" cy="67.8" r="0.47" fill="#8c8ab8"/>
<circle cx="229.5" cy="75.4" r="0.70" fill="#7f7db0"/>
<circle cx="226.0" cy="23.9" r="0.59" fill="#7f7db0"/>
<circle cx="254.4" cy="21.0" r="0.61" fill="#8c8ab8"/>
<circle cx="228.4" cy="52.4" r="0.60" fill="#8c8ab8"/>
<circle cx="261.7" cy="17.1" r="0.62" fill="#8c8ab8"/>
<circle cx="208.2" cy="64.4" r="0.70" fill="#7f7db0"/>
<circle cx="244.7" cy="80.3" r="0.66" fill="#8c8ab8"/>
<circle cx="231.6" cy="48.5" r="0.56" fill="#8c8ab8"/>
<circle cx="157.4" cy="80.8" r="0.60" fill="#8c8ab8"/>
<circle cx="179.4" cy="84.3" r="0.66" fill="#8c8ab8"/>
<circle cx="209.6" cy="55.1" r="0.47" fill="#7f7db0"/>
<circle cx="156.6" cy="77.6" r="0.51" fill="#7f7db0"/>
<circle cx="210.2" cy="82.1" r="0.47" fill="#7f7db0"/>
<circle cx="166.7" cy="69.9" r="0.45" fill="#7f7db0"/>
<circle cx="186.3" cy="45.9" r="0.66" fill="#8c8ab8"/>
<circle cx="163.3" cy="29.3" r="0.48" fill="#7f7db0"/>
<circle cx="191.3" cy="70.0" r="0.56" fill="#8c8ab8"/>
<circle cx="201.5" cy="24.0" r="0.52" fill="#8c8ab8"/>
<circle cx="229.6" cy="52.9" r="0.54" fill="#7f7db0"/>
<circle cx="237.0" cy="29.0" r="0.60" fill="#8c8ab8"/>
<circle cx="205.7" cy="69.8" r="0.59" fill="#8c8ab8"/>
<circle cx="242.0" cy="37.2" r="0.57" fill="#7f7db0"/>
<circle cx="215.2" cy="21.6" r="0.45" fill="#8c8ab8"/>
<circle cx="255.4" cy="37.4" r="0.48" fill="#8c8ab8"/>
<circle cx="159.6" cy="67.9" r="0.66" fill="#7f7db0"/>
<circle cx="163.9" cy="93.7" r="0.49" fill="#8c8ab8"/>
<circle cx="255.8" cy="74.4" r="0.51" fill="#7f7db0"/>
<circle cx="231.7" cy="40.6" r="0.52" fill="#8c8ab8"/>
<circle cx="189.9" cy="47.8" r="0.57" fill="#7f7db0"/>
<circle cx="262.4" cy="85.1" r="0.57" fill="#7f7db0"/>
<circle cx="226.2" cy="43.4" r="0.42" fill="#8c8ab8"/>
<circle cx="193.0" cy="59.1" r="0.55" fill="#7f7db0"/>
<circle cx="161.5" cy="62.1" r="0.68" fill="#8c8ab8"/>
<circle cx="197.1" cy="54.9" r="0.67" fill="#8c8ab8"/>
<circle cx="195.1" cy="27.8" r="0.63" fill="#7f7db0"/>
<circle cx="226.8" cy="76.2" r="0.52" fill="#7f7db0"/>
<circle cx="256.4" cy="40.5" r="0.50" fill="#8c8ab8"/>
<circle cx="238.3" cy="26.4" r="0.47" fill="#7f7db0"/>
<circle cx="215.2" cy="18.2" r="0.55" fill="#7f7db0"/>
<circle cx="214.5" cy="21.4" r="0.60" fill="#8c8ab8"/>
<circle cx="205.0" cy="21.4" r="0.61" fill="#8c8ab8"/>
<circle cx="246.9" cy="28.2" r="0.52" fill="#7f7db0"/>
<circle cx="250.1" cy="28.6" r="0.50" fill="#7f7db0"/>
<circle cx="170.6" cy="60.1" r="0.56" fill="#7f7db0"/>
<circle cx="185.3" cy="37.4" r="0.66" fill="#8c8ab8"/>
<circle cx="208.3" cy="50.6" r="0.42" fill="#8c8ab8"/>
<circle cx="177.8" cy="47.4" r="1.16" fill="#cfcfd2"/>
<circle cx="211.6" cy="41.4" r="0.98" fill="#cfcfd2"/>
<circle cx="173.1" cy="69.2" r="1.46" fill="#cfcfd2"/>
<circle cx="225.1" cy="73.8" r="0.98" fill="#cfcfd2"/>
<circle cx="256.9" cy="44.3" r="1.17" fill="#cfcfd2"/>
<circle cx="231.0" cy="70.1" r="1.34" fill="#cfcfd2"/>
<circle cx="150.0" cy="22.4" r="1.47" fill="#cfcfd2"/>
<circle cx="244.5" cy="19.8" r="1.03" fill="#cfcfd2"/>
<circle cx="199.9" cy="33.0" r="1.03" fill="#cfcfd2"/>
<circle cx="261.9" cy="65.9" r="1.14" fill="#cfcfd2"/>
<circle cx="233.4" cy="33.3" r="1.02" fill="#cfcfd2"/>
<circle cx="169.9" cy="85.6" r="0.97" fill="#cfcfd2"/>
<circle cx="164.9" cy="87.4" r="1.39" fill="#cfcfd2"/>
<circle cx="206.7" cy="18.1" r="1.33" fill="#cfcfd2"/>
<circle cx="234.5" cy="30.1" r="1.03" fill="#cfcfd2"/>
<circle cx="232.6" cy="76.9" r="1.38" fill="#cfcfd2"/>
<circle cx="211.0" cy="29.7" r="1.37" fill="#cfcfd2"/>
<circle cx="232.0" cy="58.3" r="1.18" fill="#cfcfd2"/>
<circle cx="172.4" cy="24.3" r="0.93" fill="#cfcfd2"/>
<circle cx="175.0" cy="83.7" r="1.32" fill="#cfcfd2"/>
<circle cx="200.3" cy="51.0" r="1.42" fill="#cfcfd2"/>
<circle cx="256.2" cy="27.7" r="1.00" fill="#cfcfd2"/>
<circle cx="200.8" cy="77.7" r="1.42" fill="#cfcfd2"/>
<circle cx="241.5" cy="73.6" r="1.33" fill="#cfcfd2"/>
<circle cx="184.9" cy="37.6" r="1.23" fill="#cfcfd2"/>
<circle cx="173.9" cy="92.6" r="1.30" fill="#cfcfd2"/>
<circle cx="175.8" cy="94.9" r="1.10" fill="#cfcfd2"/>
<circle cx="167.1" cy="40.3" r="1.29" fill="#cfcfd2"/>
<circle cx="229.5" cy="32.9" r="0.89" fill="#a89088" opacity="0.55"/>
<circle cx="170.3" cy="43.7" r="1.04" fill="#a89088" opacity="0.55"/>
<circle cx="153.5" cy="45.1" r="1.19" fill="#a89088" opacity="0.55"/>
<circle cx="173.4" cy="69.5" r="1.11" fill="#a89088" opacity="0.55"/>
<circle cx="157.5" cy="56.2" r="0.81" fill="#a89088" opacity="0.55"/>
<circle cx="239.6" cy="88.2" r="1.35" fill="#a89088" opacity="0.55"/>
<circle cx="172.3" cy="39.4" r="0.98" fill="#a89088" opacity="0.55"/>
<circle cx="216.7" cy="77.5" r="0.92" fill="#a89088" opacity="0.55"/>
<circle cx="203.6" cy="78.4" r="1.26" fill="#a89088" opacity="0.55"/>
<circle cx="253.9" cy="63.3" r="0.98" fill="#a89088" opacity="0.55"/>
<circle cx="216.3" cy="25.1" r="0.80" fill="#a89088" opacity="0.55"/>
<circle cx="171.5" cy="29.2" r="0.98" fill="#a89088" opacity="0.55"/>
<circle cx="168.9" cy="45.0" r="1.09" fill="#a89088" opacity="0.55"/>
<circle cx="187.2" cy="46.1" r="0.87" fill="#a89088" opacity="0.55"/>
<circle cx="245.5" cy="81.7" r="1.23" fill="#a89088" opacity="0.55"/>
<circle cx="201.8" cy="76.8" r="0.87" fill="#a89088" opacity="0.55"/>
<circle cx="167.7" cy="48.5" r="0.82" fill="#a89088" opacity="0.55"/>
<circle cx="153.6" cy="63.3" r="1.05" fill="#a89088" opacity="0.55"/>
<circle cx="229.8" cy="50.2" r="1.30" fill="#a89088" opacity="0.55"/>
<circle cx="157.8" cy="75.2" r="1.24" fill="#a89088" opacity="0.55"/>
<circle cx="190.7" cy="70.0" r="0.85" fill="#a89088" opacity="0.55"/>
<circle cx="149.6" cy="68.6" r="1.30" fill="#a89088" opacity="0.55"/>
<circle cx="184.2" cy="37.9" r="0.86" fill="#a89088" opacity="0.55"/>
<circle cx="176.7" cy="29.2" r="0.96" fill="#a89088" opacity="0.55"/>
<circle cx="211.8" cy="42.9" r="0.95" fill="#a89088" opacity="0.55"/>
<circle cx="214.9" cy="20.4" r="0.95" fill="#a89088" opacity="0.55"/>
<circle cx="259.1" cy="39.7" r="1.13" fill="#a89088" opacity="0.55"/>
<circle cx="263.6" cy="89.7" r="1.24" fill="#a89088" opacity="0.55"/>
<circle cx="211.0" cy="36.2" r="0.86" fill="#a89088" opacity="0.55"/>
<circle cx="161.3" cy="21.3" r="1.28" fill="#a89088" opacity="0.55"/>
<circle cx="230.4" cy="33.9" r="1.25" fill="#a89088" opacity="0.55"/>
<circle cx="159.1" cy="30.7" r="1.30" fill="#a89088" opacity="0.55"/>
<circle cx="264.8" cy="50.9" r="1.17" fill="#a89088" opacity="0.55"/>
<circle cx="161.7" cy="62.6" r="0.87" fill="#a89088" opacity="0.55"/>
<circle cx="226.0" cy="34.4" r="0.95" fill="#a89088" opacity="0.55"/>
<circle cx="238.9" cy="58.0" r="1.29" fill="#a89088" opacity="0.55"/>
<circle cx="244.3" cy="22.8" r="1.00" fill="#a89088" opacity="0.55"/>
<circle cx="160.4" cy="34.2" r="1.26" fill="#a89088" opacity="0.55"/>
<circle cx="169.3" cy="41.3" r="0.85" fill="#a89088" opacity="0.55"/>
<circle cx="237.1" cy="64.3" r="0.91" fill="#a89088" opacity="0.55"/>
<circle cx="185.8" cy="91.5" r="1.27" fill="#a89088" opacity="0.55"/>
<circle cx="152.7" cy="80.1" r="0.89" fill="#a89088" opacity="0.55"/>
<circle cx="208.3" cy="30.4" r="1.28" fill="#a89088" opacity="0.55"/>
<circle cx="238.3" cy="33.3" r="1.35" fill="#a89088" opacity="0.55"/>
<circle cx="228.6" cy="73.7" r="0.84" fill="#a89088" opacity="0.55"/>
<circle cx="149.3" cy="87.5" r="0.82" fill="#a89088" opacity="0.55"/>
<circle cx="210.0" cy="43.4" r="0.84" fill="#a89088" opacity="0.55"/>
<circle cx="219.0" cy="22.0" r="1.32" fill="#a89088" opacity="0.55"/>
<circle cx="154.8" cy="46.2" r="1.05" fill="#a89088" opacity="0.55"/>
<circle cx="224.5" cy="94.7" r="1.15" fill="#a89088" opacity="0.55"/>
<circle cx="242.2" cy="56.4" r="1.26" fill="#a89088" opacity="0.55"/>
<circle cx="206.6" cy="37.7" r="1.22" fill="#a89088" opacity="0.55"/>
<circle cx="184.1" cy="21.2" r="1.08" fill="#a89088" opacity="0.55"/>
<circle cx="240.5" cy="71.4" r="0.90" fill="#a89088" opacity="0.55"/>
<circle cx="193.8" cy="68.2" r="1.36" fill="#a89088" opacity="0.55"/>
<circle cx="208.5" cy="76.8" r="1.16" fill="#a89088" opacity="0.55"/>
<circle cx="225.0" cy="67.6" r="0.84" fill="#a89088" opacity="0.55"/>
<circle cx="239.8" cy="81.2" r="1.25" fill="#a89088" opacity="0.55"/>
<circle cx="247.3" cy="36.2" r="1.15" fill="#a89088" opacity="0.55"/>
<circle cx="214.1" cy="87.2" r="1.15" fill="#a89088" opacity="0.55"/>
<circle cx="257.3" cy="88.2" r="0.83" fill="#a89088" opacity="0.55"/>
<circle cx="226.0" cy="48.6" r="1.18" fill="#a89088" opacity="0.55"/>
<circle cx="238.8" cy="44.4" r="1.03" fill="#a89088" opacity="0.55"/>
<circle cx="259.0" cy="35.3" r="1.20" fill="#a89088" opacity="0.55"/>
<circle cx="240.8" cy="70.1" r="1.34" fill="#a89088" opacity="0.55"/>
<circle cx="198.5" cy="41.4" r="0.98" fill="#a89088" opacity="0.55"/>
<circle cx="219.0" cy="93.1" r="1.33" fill="#a89088" opacity="0.55"/>
<circle cx="204.1" cy="49.9" r="0.98" fill="#a89088" opacity="0.55"/>
<circle cx="165.9" cy="60.6" r="0.85" fill="#a89088" opacity="0.55"/>
<circle cx="194.7" cy="54.3" r="0.82" fill="#a89088" opacity="0.55"/>
<circle cx="188.0" cy="96.4" r="0.91" fill="#a89088" opacity="0.55"/>
<circle cx="252.2" cy="49.6" r="1.12" fill="#a89088" opacity="0.55"/>
<circle cx="177.0" cy="34.3" r="1.18" fill="#a89088" opacity="0.55"/>
<circle cx="192.6" cy="88.7" r="1.03" fill="#a89088" opacity="0.55"/>
<circle cx="187.6" cy="29.1" r="0.90" fill="#a89088" opacity="0.55"/>
<circle cx="189.8" cy="82.3" r="1.33" fill="#a89088" opacity="0.55"/>
<circle cx="260.4" cy="41.7" r="0.99" fill="#a89088" opacity="0.55"/>
<circle cx="250.6" cy="80.3" r="1.16" fill="#a89088" opacity="0.55"/>
<circle cx="248.4" cy="94.5" r="1.03" fill="#a89088" opacity="0.55"/>
<circle cx="150.1" cy="85.3" r="0.86" fill="#a89088" opacity="0.55"/>
<circle cx="177.5" cy="62.2" r="1.19" fill="#a89088" opacity="0.55"/>
<circle cx="234.4" cy="71.1" r="1.39" fill="#a89088" opacity="0.55"/>
<circle cx="234.2" cy="77.3" r="1.20" fill="#a89088" opacity="0.55"/>
<circle cx="164.7" cy="77.3" r="0.95" fill="#a89088" opacity="0.55"/>
<circle cx="197.3" cy="58.1" r="1.00" fill="#a89088" opacity="0.55"/>
<circle cx="179.9" cy="40.7" r="0.98" fill="#a89088" opacity="0.55"/>
<circle cx="231.3" cy="71.9" r="1.36" fill="#a89088" opacity="0.55"/>
<circle cx="242.8" cy="21.8" r="1.19" fill="#a89088" opacity="0.55"/>
<circle cx="206.2" cy="72.3" r="0.81" fill="#a89088" opacity="0.55"/>
<circle cx="250.5" cy="88.0" r="0.87" fill="#a89088" opacity="0.55"/>
<ellipse cx="192.8" cy="41.9" rx="0.86" ry="0.76" fill="#7a3020"/>
<ellipse cx="236.0" cy="19.8" rx="0.75" ry="0.45" fill="#7a3020"/>
<ellipse cx="257.6" cy="38.7" rx="0.66" ry="0.53" fill="#9a5a3e"/>
<ellipse cx="264.7" cy="30.9" rx="0.90" ry="0.77" fill="#843822"/>
<ellipse cx="177.0" cy="78.8" rx="0.57" ry="0.56" fill="#9a5a3e"/>
<ellipse cx="224.3" cy="81.4" rx="0.96" ry="0.76" fill="#8f4428"/>
<ellipse cx="262.1" cy="45.8" rx="1.09" ry="0.73" fill="#843822"/>
<ellipse cx="215.7" cy="83.1" rx="1.03" ry="0.98" fill="#843822"/>
<ellipse cx="172.3" cy="81.6" rx="0.59" ry="0.53" fill="#843822"/>
<ellipse cx="168.8" cy="42.0" rx="0.58" ry="0.58" fill="#843822"/>
<ellipse cx="239.1" cy="45.8" rx="0.97" ry="0.70" fill="#843822"/>
<ellipse cx="258.5" cy="32.8" rx="0.74" ry="0.57" fill="#8f4428"/>
<ellipse cx="228.1" cy="45.9" rx="0.74" ry="0.52" fill="#8f4428"/>
<ellipse cx="172.7" cy="89.7" rx="0.82" ry="0.70" fill="#8f4428"/>
<ellipse cx="239.3" cy="42.2" rx="0.64" ry="0.51" fill="#9a5a3e"/>
<ellipse cx="213.8" cy="70.6" rx="1.00" ry="0.76" fill="#843822"/>
<ellipse cx="232.2" cy="48.6" rx="1.04" ry="0.73" fill="#6e2818"/>
<ellipse cx="238.5" cy="20.3" rx="1.05" ry="0.76" fill="#9a5a3e"/>
<ellipse cx="218.8" cy="45.8" rx="1.14" ry="1.08" fill="#6e2818"/>
<ellipse cx="160.2" cy="65.2" rx="1.05" ry="1.02" fill="#6e2818"/>
<ellipse cx="168.2" cy="31.1" rx="0.98" ry="0.90" fill="#6e2818"/>
<ellipse cx="194.8" cy="92.2" rx="1.00" ry="0.76" fill="#843822"/>
<ellipse cx="207.0" cy="43.9" rx="1.07" ry="0.87" fill="#7a3020"/>
<ellipse cx="209.5" cy="70.6" rx="1.09" ry="0.75" fill="#7a3020"/>
<ellipse cx="228.1" cy="91.0" rx="0.59" ry="0.56" fill="#6e2818"/>
<ellipse cx="226.5" cy="63.2" rx="0.79" ry="0.71" fill="#9a5a3e"/>
<ellipse cx="240.1" cy="71.4" rx="1.06" ry="0.70" fill="#7a3020"/>
<ellipse cx="226.9" cy="77.3" rx="0.85" ry="0.82" fill="#843822"/>
<ellipse cx="235.2" cy="82.7" rx="0.94" ry="0.61" fill="#843822"/>
<ellipse cx="230.7" cy="73.3" rx="0.92" ry="0.81" fill="#843822"/>
<ellipse cx="238.5" cy="65.4" rx="0.86" ry="0.59" fill="#9a5a3e"/>
<ellipse cx="175.0" cy="24.5" rx="0.96" ry="0.71" fill="#6e2818"/>
<ellipse cx="230.1" cy="22.8" rx="1.05" ry="0.72" fill="#843822"/>
<ellipse cx="202.1" cy="78.1" rx="0.82" ry="0.51" fill="#9a5a3e"/>
<ellipse cx="200.7" cy="61.4" rx="1.03" ry="0.84" fill="#6e2818"/>
<ellipse cx="203.2" cy="55.7" rx="0.73" ry="0.72" fill="#843822"/>
<ellipse cx="210.6" cy="35.4" rx="0.88" ry="0.63" fill="#7a3020"/>
<ellipse cx="262.0" cy="63.2" rx="0.98" ry="0.89" fill="#7a3020"/>
<ellipse cx="152.3" cy="57.4" rx="0.80" ry="0.79" fill="#6e2818"/>
<ellipse cx="180.8" cy="24.2" rx="0.62" ry="0.50" fill="#8f4428"/>
<ellipse cx="217.3" cy="35.1" rx="1.07" ry="0.99" fill="#6e2818"/>
<ellipse cx="260.5" cy="43.4" rx="1.14" ry="0.98" fill="#6e2818"/>
<ellipse cx="215.8" cy="51.5" rx="1.13" ry="0.88" fill="#9a5a3e"/>
<ellipse cx="188.6" cy="32.2" rx="0.79" ry="0.72" fill="#843822"/>
<ellipse cx="157.9" cy="88.8" rx="0.56" ry="0.51" fill="#7a3020"/>
<ellipse cx="235.2" cy="78.9" rx="0.67" ry="0.60" fill="#843822"/>
<ellipse cx="259.0" cy="90.6" rx="0.98" ry="0.61" fill="#6e2818"/>
<ellipse cx="172.9" cy="18.0" rx="1.07" ry="0.75" fill="#9a5a3e"/>
<ellipse cx="190.2" cy="30.1" rx="0.93" ry="0.67" fill="#843822"/>
<ellipse cx="154.1" cy="31.0" rx="0.76" ry="0.70" fill="#6e2818"/>
<ellipse cx="201.8" cy="25.2" rx="0.61" ry="0.46" fill="#7a3020"/>
<ellipse cx="251.6" cy="55.9" rx="0.60" ry="0.55" fill="#843822"/>
<ellipse cx="204.2" cy="82.8" rx="0.63" ry="0.51" fill="#6e2818"/>
<ellipse cx="178.1" cy="48.1" rx="0.76" ry="0.74" fill="#6e2818"/>
<ellipse cx="171.4" cy="39.3" rx="1.04" ry="0.80" fill="#9a5a3e"/>
<ellipse cx="234.0" cy="47.7" rx="1.04" ry="0.68" fill="#8f4428"/>
<ellipse cx="150.5" cy="34.1" rx="0.90" ry="0.55" fill="#8f4428"/>
<ellipse cx="243.3" cy="94.9" rx="0.60" ry="0.41" fill="#6e2818"/>
<ellipse cx="215.4" cy="90.1" rx="1.07" ry="0.91" fill="#843822"/>
<ellipse cx="251.7" cy="55.8" rx="0.93" ry="0.56" fill="#7a3020"/>
<ellipse cx="172.7" cy="45.4" rx="1.08" ry="0.90" fill="#6e2818"/>
<ellipse cx="163.6" cy="33.0" rx="0.82" ry="0.80" fill="#9a5a3e"/>
<ellipse cx="228.5" cy="90.1" rx="1.01" ry="0.90" fill="#9a5a3e"/>
<ellipse cx="155.2" cy="54.7" rx="0.79" ry="0.70" fill="#7a3020"/>
<ellipse cx="203.5" cy="87.4" rx="0.91" ry="0.88" fill="#6e2818"/>
<ellipse cx="218.5" cy="22.0" rx="0.69" ry="0.42" fill="#7a3020"/>
<ellipse cx="214.7" cy="76.6" rx="0.68" ry="0.48" fill="#6e2818"/>
<ellipse cx="254.3" cy="33.0" rx="0.55" ry="0.34" fill="#8f4428"/>
<ellipse cx="176.9" cy="91.5" rx="0.68" ry="0.66" fill="#6e2818"/>
<ellipse cx="223.1" cy="90.5" rx="0.71" ry="0.56" fill="#7a3020"/>
<ellipse cx="204.5" cy="93.5" rx="1.01" ry="0.68" fill="#6e2818"/>
<ellipse cx="242.6" cy="30.0" rx="0.86" ry="0.69" fill="#6e2818"/>
<ellipse cx="260.0" cy="47.5" rx="1.08" ry="1.01" fill="#6e2818"/>
<ellipse cx="213.5" cy="82.7" rx="0.85" ry="0.72" fill="#9a5a3e"/>
<ellipse cx="240.9" cy="60.0" rx="0.97" ry="0.82" fill="#9a5a3e"/>
<ellipse cx="202.0" cy="70.7" rx="0.89" ry="0.54" fill="#7a3020"/>
<ellipse cx="245.2" cy="81.9" rx="0.82" ry="0.73" fill="#6e2818"/>
<ellipse cx="234.3" cy="70.7" rx="1.14" ry="1.13" fill="#9a5a3e"/>
<ellipse cx="212.3" cy="45.2" rx="0.61" ry="0.57" fill="#7a3020"/>
<ellipse cx="247.4" cy="25.1" rx="0.77" ry="0.56" fill="#843822"/>
<ellipse cx="183.3" cy="56.5" rx="0.90" ry="0.81" fill="#843822"/>
<ellipse cx="149.8" cy="23.0" rx="0.62" ry="0.42" fill="#9a5a3e"/>
<ellipse cx="193.7" cy="95.7" rx="1.10" ry="0.95" fill="#9a5a3e"/>
<ellipse cx="255.3" cy="75.6" rx="1.03" ry="0.96" fill="#6e2818"/>
<ellipse cx="232.1" cy="19.4" rx="0.96" ry="0.88" fill="#8f4428"/>
<ellipse cx="155.4" cy="66.5" rx="0.73" ry="0.64" fill="#843822"/>
<ellipse cx="178.3" cy="41.0" rx="0.76" ry="0.57" fill="#843822"/>
<ellipse cx="167.8" cy="30.0" rx="1.12" ry="1.01" fill="#8f4428"/>
<ellipse cx="246.1" cy="96.5" rx="1.00" ry="0.92" fill="#843822"/>
<ellipse cx="150.5" cy="60.0" rx="0.75" ry="0.72" fill="#9a5a3e"/>
<ellipse cx="255.8" cy="43.3" rx="1.01" ry="0.97" fill="#7a3020"/>
<ellipse cx="241.2" cy="59.6" rx="0.61" ry="0.47" fill="#843822"/>
<ellipse cx="188.1" cy="22.1" rx="0.62" ry="0.41" fill="#8f4428"/>
<ellipse cx="210.6" cy="69.0" rx="0.87" ry="0.85" fill="#8f4428"/>
<ellipse cx="209.2" cy="79.1" rx="0.93" ry="0.64" fill="#7a3020"/>
<ellipse cx="236.6" cy="87.9" rx="0.98" ry="0.87" fill="#8f4428"/>
<ellipse cx="263.8" cy="31.1" rx="0.81" ry="0.71" fill="#7a3020"/>
<ellipse cx="235.5" cy="77.3" rx="0.70" ry="0.69" fill="#843822"/>
<ellipse cx="159.6" cy="86.3" rx="0.93" ry="0.92" fill="#9a5a3e"/>
<ellipse cx="223.6" cy="64.3" rx="0.94" ry="0.59" fill="#9a5a3e"/>
<ellipse cx="194.4" cy="23.2" rx="0.99" ry="0.60" fill="#9a5a3e"/>
<ellipse cx="190.9" cy="28.4" rx="0.62" ry="0.53" fill="#8f4428"/>
<ellipse cx="208.2" cy="87.2" rx="1.10" ry="0.74" fill="#8f4428"/>
<ellipse cx="160.6" cy="41.3" rx="0.80" ry="0.62" fill="#7a3020"/>
<ellipse cx="233.5" cy="24.6" rx="1.11" ry="0.81" fill="#843822"/>
<ellipse cx="172.9" cy="48.0" rx="1.02" ry="0.96" fill="#6e2818"/>
<ellipse cx="242.1" cy="70.7" rx="0.72" ry="0.67" fill="#6e2818"/>
<ellipse cx="157.4" cy="24.2" rx="1.02" ry="0.74" fill="#9a5a3e"/>
<ellipse cx="179.5" cy="20.7" rx="0.84" ry="0.63" fill="#6e2818"/>
<ellipse cx="224.7" cy="62.6" rx="0.68" ry="0.49" fill="#6e2818"/>
<ellipse cx="180.1" cy="91.5" rx="1.11" ry="0.83" fill="#843822"/>
<ellipse cx="232.8" cy="28.1" rx="1.02" ry="0.77" fill="#843822"/>
<ellipse cx="168.3" cy="70.1" rx="1.07" ry="0.77" fill="#7a3020"/>
<ellipse cx="193.2" cy="78.2" rx="0.68" ry="0.65" fill="#7a3020"/>
<ellipse cx="237.5" cy="85.3" rx="0.69" ry="0.49" fill="#8f4428"/>
<ellipse cx="149.9" cy="25.0" rx="0.78" ry="0.54" fill="#843822"/>
<ellipse cx="152.4" cy="52.1" rx="0.62" ry="0.51" fill="#8f4428"/>
<ellipse cx="206.1" cy="49.4" rx="0.84" ry="0.81" fill="#7a3020"/>
<ellipse cx="198.4" cy="21.9" rx="0.66" ry="0.49" fill="#843822"/>
<ellipse cx="203.4" cy="91.9" rx="0.88" ry="0.71" fill="#6e2818"/>
<ellipse cx="205.1" cy="34.3" rx="0.92" ry="0.59" fill="#8f4428"/>
<ellipse cx="258.5" cy="59.0" rx="0.69" ry="0.56" fill="#7a3020"/>
<ellipse cx="185.7" cy="25.1" rx="0.84" ry="0.81" fill="#8f4428"/>
<ellipse cx="202.5" cy="75.5" rx="0.59" ry="0.51" fill="#8f4428"/>
<ellipse cx="160.4" cy="39.5" rx="1.02" ry="0.66" fill="#6e2818"/>
<ellipse cx="263.2" cy="55.5" rx="0.66" ry="0.56" fill="#6e2818"/>
<ellipse cx="243.1" cy="89.2" rx="0.94" ry="0.76" fill="#6e2818"/>
<ellipse cx="176.2" cy="56.9" rx="0.91" ry="0.60" fill="#843822"/>
<ellipse cx="242.2" cy="92.6" rx="0.99" ry="0.86" fill="#843822"/>
<ellipse cx="224.5" cy="73.0" rx="0.56" ry="0.54" fill="#8f4428"/>
<ellipse cx="158.5" cy="34.4" rx="0.57" ry="0.57" fill="#8f4428"/>
<ellipse cx="246.4" cy="41.4" rx="0.74" ry="0.72" fill="#7a3020"/>
<ellipse cx="195.6" cy="71.3" rx="0.56" ry="0.39" fill="#8f4428"/>
<ellipse cx="204.3" cy="57.9" rx="1.12" ry="0.97" fill="#8f4428"/>
<ellipse cx="173.6" cy="89.5" rx="0.67" ry="0.45" fill="#8f4428"/>
<ellipse cx="265.0" cy="53.5" rx="0.69" ry="0.42" fill="#843822"/>
<ellipse cx="169.6" cy="50.0" rx="0.98" ry="0.73" fill="#9a5a3e"/>
<ellipse cx="167.8" cy="83.2" rx="0.55" ry="0.51" fill="#9a5a3e"/>
<ellipse cx="219.4" cy="55.0" rx="0.88" ry="0.58" fill="#8f4428"/>
<ellipse cx="176.9" cy="26.6" rx="1.13" ry="1.09" fill="#7a3020"/>
<ellipse cx="264.8" cy="27.8" rx="0.74" ry="0.50" fill="#6e2818"/>
<ellipse cx="198.0" cy="23.4" rx="1.04" ry="0.73" fill="#8f4428"/>
<ellipse cx="215.1" cy="34.8" rx="0.64" ry="0.63" fill="#843822"/>
<ellipse cx="231.6" cy="24.6" rx="0.81" ry="0.80" fill="#6e2818"/>
<ellipse cx="253.9" cy="22.6" rx="1.00" ry="0.95" fill="#7a3020"/>
<ellipse cx="197.7" cy="59.4" rx="1.06" ry="0.88" fill="#9a5a3e"/>
<ellipse cx="200.8" cy="57.0" rx="0.87" ry="0.83" fill="#843822"/>
<ellipse cx="260.6" cy="32.4" rx="0.60" ry="0.49" fill="#843822"/>
<ellipse cx="170.1" cy="72.4" rx="0.70" ry="0.54" fill="#7a3020"/>
<ellipse cx="259.9" cy="37.6" rx="1.04" ry="0.89" fill="#6e2818"/>
<ellipse cx="203.7" cy="70.8" rx="1.03" ry="0.80" fill="#6e2818"/>
<ellipse cx="188.4" cy="77.9" rx="1.12" ry="0.88" fill="#7a3020"/>
<ellipse cx="186.6" cy="94.7" rx="1.14" ry="1.12" fill="#6e2818"/>
<ellipse cx="173.0" cy="49.7" rx="1.13" ry="0.84" fill="#7a3020"/>
<ellipse cx="231.2" cy="47.4" rx="0.85" ry="0.55" fill="#843822"/>
<ellipse cx="174.8" cy="34.2" rx="0.71" ry="0.57" fill="#6e2818"/>
<ellipse cx="251.6" cy="66.3" rx="0.94" ry="0.78" fill="#8f4428"/>
<ellipse cx="258.3" cy="63.2" rx="0.76" ry="0.55" fill="#8f4428"/>
<ellipse cx="243.1" cy="72.4" rx="0.96" ry="0.72" fill="#7a3020"/>
<ellipse cx="162.6" cy="67.3" rx="0.73" ry="0.62" fill="#9a5a3e"/>
<ellipse cx="222.6" cy="73.4" rx="1.13" ry="0.84" fill="#7a3020"/>
<ellipse cx="247.6" cy="68.9" rx="0.65" ry="0.54" fill="#6e2818"/>
<ellipse cx="247.6" cy="87.0" rx="0.90" ry="0.87" fill="#7a3020"/>
<ellipse cx="218.1" cy="50.0" rx="0.89" ry="0.56" fill="#6e2818"/>
<ellipse cx="149.6" cy="30.9" rx="0.97" ry="0.65" fill="#6e2818"/>
<ellipse cx="169.2" cy="89.0" rx="1.02" ry="0.62" fill="#7a3020"/>
<ellipse cx="162.3" cy="91.8" rx="1.13" ry="0.89" fill="#7a3020"/>
<ellipse cx="157.5" cy="44.9" rx="0.73" ry="0.69" fill="#8f4428"/>
<ellipse cx="187.6" cy="91.2" rx="0.71" ry="0.45" fill="#843822"/>
<ellipse cx="221.4" cy="72.7" rx="0.71" ry="0.52" fill="#843822"/>
<ellipse cx="206.0" cy="32.1" rx="1.11" ry="1.02" fill="#9a5a3e"/>
<ellipse cx="236.1" cy="84.1" rx="0.80" ry="0.71" fill="#843822"/>
<ellipse cx="175.6" cy="80.8" rx="1.03" ry="0.65" fill="#6e2818"/>
<ellipse cx="166.7" cy="80.5" rx="0.82" ry="0.75" fill="#8f4428"/>
<ellipse cx="175.8" cy="24.5" rx="0.95" ry="0.73" fill="#9a5a3e"/>
<ellipse cx="150.5" cy="91.7" rx="0.68" ry="0.47" fill="#8f4428"/>
<ellipse cx="179.0" cy="50.9" rx="0.87" ry="0.53" fill="#6e2818"/>
<ellipse cx="233.0" cy="34.7" rx="0.72" ry="0.61" fill="#8f4428"/>
<ellipse cx="253.6" cy="33.4" rx="0.74" ry="0.48" fill="#843822"/>
<ellipse cx="156.2" cy="54.0" rx="0.75" ry="0.57" fill="#843822"/>
<ellipse cx="209.7" cy="41.5" rx="1.01" ry="0.65" fill="#843822"/>
<ellipse cx="154.7" cy="58.1" rx="0.64" ry="0.50" fill="#7a3020"/>
<ellipse cx="171.9" cy="26.6" rx="0.85" ry="0.81" fill="#9a5a3e"/>
<ellipse cx="228.5" cy="55.1" rx="0.74" ry="0.47" fill="#6e2818"/>
<ellipse cx="157.1" cy="48.0" rx="0.84" ry="0.77" fill="#843822"/>
<ellipse cx="208.6" cy="53.0" rx="1.06" ry="0.96" fill="#8f4428"/>
<ellipse cx="192.1" cy="52.7" rx="1.11" ry="0.94" fill="#843822"/>
<ellipse cx="161.2" cy="53.5" rx="0.93" ry="0.61" fill="#843822"/>
<ellipse cx="248.6" cy="92.5" rx="0.88" ry="0.70" fill="#6e2818"/>
<ellipse cx="220.8" cy="41.0" rx="0.59" ry="0.46" fill="#843822"/>
<ellipse cx="158.9" cy="48.5" rx="0.61" ry="0.37" fill="#6e2818"/>
<ellipse cx="254.5" cy="70.6" rx="0.87" ry="0.63" fill="#6e2818"/>
<ellipse cx="244.0" cy="65.3" rx="0.79" ry="0.53" fill="#7a3020"/>
<ellipse cx="237.7" cy="51.1" rx="0.75" ry="0.72" fill="#6e2818"/>
<ellipse cx="202.1" cy="61.2" rx="0.61" ry="0.48" fill="#8f4428"/>
<ellipse cx="259.9" cy="65.3" rx="0.72" ry="0.55" fill="#8f4428"/>
<ellipse cx="172.4" cy="80.0" rx="1.00" ry="0.64" fill="#8f4428"/>
<ellipse cx="243.4" cy="44.1" rx="0.70" ry="0.56" fill="#843822"/>
<ellipse cx="243.4" cy="72.6" rx="1.14" ry="0.83" fill="#9a5a3e"/>
<ellipse cx="169.0" cy="76.6" rx="0.75" ry="0.65" fill="#7a3020"/>
<ellipse cx="155.5" cy="17.0" rx="0.69" ry="0.42" fill="#843822"/>
<ellipse cx="237.6" cy="65.5" rx="1.09" ry="0.75" fill="#843822"/>
<ellipse cx="185.9" cy="87.5" rx="1.12" ry="0.84" fill="#843822"/>
<ellipse cx="189.9" cy="47.3" rx="0.62" ry="0.37" fill="#7a3020"/>
<ellipse cx="227.4" cy="77.5" rx="1.01" ry="0.91" fill="#9a5a3e"/>
<ellipse cx="177.3" cy="90.6" rx="1.03" ry="0.93" fill="#7a3020"/>
<ellipse cx="243.3" cy="37.3" rx="0.94" ry="0.73" fill="#8f4428"/>
<ellipse cx="184.6" cy="36.2" rx="0.98" ry="0.72" fill="#6e2818"/>
<ellipse cx="246.9" cy="84.8" rx="1.08" ry="1.02" fill="#7a3020"/>
<ellipse cx="259.7" cy="86.9" rx="0.88" ry="0.80" fill="#6e2818"/>
</g></g>
<line x1="254.40" y1="93.40" x2="263.00" y2="93.40" stroke="#111" stroke-width="1.6" />
<clipPath id="c3"><rect x="272" y="17" width="117" height="80"/></clipPath>
<g clip-path="url(#c3)">
<rect x="272" y="17" width="117" height="80" fill="#c2c5d4"/>
<g filter="url(#fb5)">
<circle cx="370.6" cy="95.3" r="0.97" fill="#e0e2ea" opacity="0.9"/>
<circle cx="363.6" cy="79.6" r="0.93" fill="#adb0c4" opacity="0.9"/>
<circle cx="357.3" cy="45.9" r="0.53" fill="#d8dbe6" opacity="0.9"/>
<circle cx="310.3" cy="19.1" r="0.90" fill="#adb0c4" opacity="0.9"/>
<circle cx="315.3" cy="66.2" r="0.75" fill="#d8dbe6" opacity="0.9"/>
<circle cx="295.2" cy="54.0" r="0.70" fill="#e0e2ea" opacity="0.9"/>
<circle cx="383.6" cy="41.8" r="0.82" fill="#b5b8cb" opacity="0.9"/>
<circle cx="327.0" cy="89.0" r="0.87" fill="#d2d5e0" opacity="0.9"/>
<circle cx="358.5" cy="45.2" r="0.96" fill="#b5b8cb" opacity="0.9"/>
<circle cx="340.7" cy="83.3" r="0.76" fill="#e0e2ea" opacity="0.9"/>
<circle cx="324.2" cy="17.9" r="0.98" fill="#adb0c4" opacity="0.9"/>
<circle cx="296.3" cy="46.0" r="0.68" fill="#d8dbe6" opacity="0.9"/>
<circle cx="348.6" cy="62.5" r="0.73" fill="#b5b8cb" opacity="0.9"/>
<circle cx="322.6" cy="74.4" r="0.71" fill="#d8dbe6" opacity="0.9"/>
<circle cx="293.5" cy="40.3" r="0.76" fill="#d2d5e0" opacity="0.9"/>
<circle cx="283.9" cy="80.5" r="0.80" fill="#d8dbe6" opacity="0.9"/>
<circle cx="297.6" cy="87.6" r="1.00" fill="#e0e2ea" opacity="0.9"/>
<circle cx="290.5" cy="68.0" r="0.54" fill="#e0e2ea" opacity="0.9"/>
<circle cx="295.6" cy="41.1" r="0.66" fill="#adb0c4" opacity="0.9"/>
<circle cx="329.5" cy="77.2" r="0.51" fill="#adb0c4" opacity="0.9"/>
<circle cx="342.8" cy="47.2" r="0.92" fill="#adb0c4" opacity="0.9"/>
<circle cx="293.5" cy="89.8" r="0.78" fill="#d8dbe6" opacity="0.9"/>
<circle cx="373.6" cy="45.9" r="0.96" fill="#adb0c4" opacity="0.9"/>
<circle cx="331.1" cy="89.1" r="0.93" fill="#adb0c4" opacity="0.9"/>
<circle cx="331.8" cy="91.6" r="0.78" fill="#adb0c4" opacity="0.9"/>
<circle cx="289.9" cy="52.1" r="0.52" fill="#adb0c4" opacity="0.9"/>
<circle cx="342.4" cy="37.7" r="0.64" fill="#e0e2ea" opacity="0.9"/>
<circle cx="297.3" cy="67.3" r="0.53" fill="#d8dbe6" opacity="0.9"/>
<circle cx="365.9" cy="89.3" r="0.58" fill="#adb0c4" opacity="0.9"/>
<circle cx="335.0" cy="35.6" r="0.91" fill="#adb0c4" opacity="0.9"/>
<circle cx="342.5" cy="89.3" r="0.60" fill="#b5b8cb" opacity="0.9"/>
<circle cx="356.4" cy="25.8" r="0.73" fill="#b5b8cb" opacity="0.9"/>
<circle cx="355.1" cy="38.8" r="0.92" fill="#b5b8cb" opacity="0.9"/>
<circle cx="278.1" cy="92.5" r="0.72" fill="#d8dbe6" opacity="0.9"/>
<circle cx="373.6" cy="88.8" r="0.78" fill="#e0e2ea" opacity="0.9"/>
<circle cx="288.6" cy="53.8" r="0.82" fill="#b5b8cb" opacity="0.9"/>
<circle cx="311.3" cy="78.3" r="0.62" fill="#adb0c4" opacity="0.9"/>
<circle cx="298.6" cy="86.5" r="0.68" fill="#e0e2ea" opacity="0.9"/>
<circle cx="307.5" cy="30.0" r="0.61" fill="#d8dbe6" opacity="0.9"/>
<circle cx="288.7" cy="64.2" r="0.56" fill="#d2d5e0" opacity="0.9"/>
<circle cx="293.5" cy="55.4" r="0.72" fill="#b5b8cb" opacity="0.9"/>
<circle cx="328.9" cy="92.6" r="0.74" fill="#adb0c4" opacity="0.9"/>
<circle cx="327.2" cy="57.7" r="0.75" fill="#adb0c4" opacity="0.9"/>
<circle cx="280.6" cy="73.1" r="0.98" fill="#e0e2ea" opacity="0.9"/>
<circle cx="283.8" cy="75.7" r="0.67" fill="#e0e2ea" opacity="0.9"/>
<circle cx="347.5" cy="54.2" r="0.92" fill="#b5b8cb" opacity="0.9"/>
<circle cx="272.8" cy="85.0" r="0.86" fill="#d2d5e0" opacity="0.9"/>
<circle cx="331.5" cy="74.0" r="0.84" fill="#e0e2ea" opacity="0.9"/>
<circle cx="344.5" cy="29.5" r="0.83" fill="#d8dbe6" opacity="0.9"/>
<circle cx="383.1" cy="28.6" r="0.68" fill="#e0e2ea" opacity="0.9"/>
<circle cx="364.5" cy="64.2" r="0.84" fill="#d2d5e0" opacity="0.9"/>
<circle cx="365.7" cy="29.5" r="0.78" fill="#adb0c4" opacity="0.9"/>
<circle cx="305.4" cy="27.9" r="0.95" fill="#d8dbe6" opacity="0.9"/>
<circle cx="344.1" cy="81.5" r="0.72" fill="#d2d5e0" opacity="0.9"/>
<circle cx="314.5" cy="88.6" r="0.67" fill="#b5b8cb" opacity="0.9"/>
<circle cx="364.6" cy="43.0" r="0.97" fill="#d8dbe6" opacity="0.9"/>
<circle cx="310.9" cy="48.0" r="0.80" fill="#d2d5e0" opacity="0.9"/>
<circle cx="274.0" cy="81.0" r="0.53" fill="#b5b8cb" opacity="0.9"/>
<circle cx="273.4" cy="88.3" r="0.64" fill="#e0e2ea" opacity="0.9"/>
<circle cx="290.7" cy="72.2" r="0.51" fill="#adb0c4" opacity="0.9"/>
<circle cx="296.5" cy="75.9" r="0.57" fill="#d2d5e0" opacity="0.9"/>
<circle cx="298.7" cy="21.6" r="0.63" fill="#d8dbe6" opacity="0.9"/>
<circle cx="382.8" cy="61.1" r="0.96" fill="#d8dbe6" opacity="0.9"/>
<circle cx="362.4" cy="28.9" r="0.92" fill="#d8dbe6" opacity="0.9"/>
<circle cx="359.5" cy="85.7" r="0.69" fill="#d8dbe6" opacity="0.9"/>
<circle cx="345.7" cy="73.7" r="0.59" fill="#adb0c4" opacity="0.9"/>
<circle cx="386.3" cy="20.0" r="0.53" fill="#d8dbe6" opacity="0.9"/>
<circle cx="276.6" cy="43.2" r="0.85" fill="#adb0c4" opacity="0.9"/>
<circle cx="285.1" cy="30.0" r="0.59" fill="#b5b8cb" opacity="0.9"/>
<circle cx="313.9" cy="92.3" r="0.60" fill="#d8dbe6" opacity="0.9"/>
<circle cx="386.5" cy="51.8" r="0.70" fill="#d2d5e0" opacity="0.9"/>
<circle cx="324.2" cy="55.6" r="0.51" fill="#adb0c4" opacity="0.9"/>
<circle cx="291.4" cy="88.4" r="0.90" fill="#d8dbe6" opacity="0.9"/>
<circle cx="324.1" cy="66.8" r="0.95" fill="#e0e2ea" opacity="0.9"/>
<circle cx="336.0" cy="87.8" r="0.51" fill="#e0e2ea" opacity="0.9"/>
<circle cx="375.1" cy="65.1" r="0.67" fill="#e0e2ea" opacity="0.9"/>
<circle cx="331.8" cy="28.8" r="0.52" fill="#b5b8cb" opacity="0.9"/>
<circle cx="332.4" cy="56.7" r="0.84" fill="#adb0c4" opacity="0.9"/>
<circle cx="352.8" cy="17.4" r="0.90" fill="#b5b8cb" opacity="0.9"/>
<circle cx="381.8" cy="84.6" r="0.68" fill="#adb0c4" opacity="0.9"/>
<circle cx="338.7" cy="75.3" r="0.70" fill="#e0e2ea" opacity="0.9"/>
<circle cx="383.8" cy="91.3" r="0.81" fill="#d2d5e0" opacity="0.9"/>
<circle cx="376.7" cy="32.3" r="1.00" fill="#adb0c4" opacity="0.9"/>
<circle cx="364.7" cy="80.1" r="0.91" fill="#b5b8cb" opacity="0.9"/>
<circle cx="352.5" cy="42.5" r="0.88" fill="#d2d5e0" opacity="0.9"/>
<circle cx="365.7" cy="43.9" r="0.79" fill="#b5b8cb" opacity="0.9"/>
<circle cx="329.2" cy="39.0" r="0.96" fill="#d8dbe6" opacity="0.9"/>
<circle cx="329.6" cy="83.3" r="0.52" fill="#e0e2ea" opacity="0.9"/>
<circle cx="361.0" cy="62.9" r="0.95" fill="#b5b8cb" opacity="0.9"/>
<circle cx="331.4" cy="73.4" r="0.50" fill="#b5b8cb" opacity="0.9"/>
<circle cx="362.9" cy="25.2" r="0.64" fill="#d8dbe6" opacity="0.9"/>
<circle cx="342.9" cy="51.8" r="0.94" fill="#d2d5e0" opacity="0.9"/>
<circle cx="281.5" cy="52.9" r="0.68" fill="#d8dbe6" opacity="0.9"/>
<circle cx="329.8" cy="74.7" r="0.61" fill="#d2d5e0" opacity="0.9"/>
<circle cx="304.5" cy="46.6" r="0.96" fill="#b5b8cb" opacity="0.9"/>
<circle cx="388.8" cy="51.1" r="0.79" fill="#d2d5e0" opacity="0.9"/>
<circle cx="325.4" cy="86.1" r="0.70" fill="#e0e2ea" opacity="0.9"/>
<circle cx="384.1" cy="20.7" r="0.92" fill="#d2d5e0" opacity="0.9"/>
<circle cx="278.3" cy="96.1" r="0.77" fill="#adb0c4" opacity="0.9"/>
<circle cx="313.1" cy="85.1" r="0.93" fill="#d2d5e0" opacity="0.9"/>
<circle cx="367.3" cy="19.7" r="0.74" fill="#d8dbe6" opacity="0.9"/>
<circle cx="281.6" cy="80.3" r="0.94" fill="#adb0c4" opacity="0.9"/>
<circle cx="326.4" cy="54.5" r="0.86" fill="#d2d5e0" opacity="0.9"/>
<circle cx="312.2" cy="91.6" r="0.59" fill="#adb0c4" opacity="0.9"/>
<circle cx="347.5" cy="77.6" r="0.82" fill="#b5b8cb" opacity="0.9"/>
<circle cx="302.5" cy="30.1" r="0.95" fill="#adb0c4" opacity="0.9"/>
<circle cx="327.4" cy="79.9" r="0.63" fill="#d8dbe6" opacity="0.9"/>
<circle cx="297.9" cy="89.5" r="0.81" fill="#d8dbe6" opacity="0.9"/>
<circle cx="345.8" cy="59.6" r="0.93" fill="#e0e2ea" opacity="0.9"/>
<circle cx="296.8" cy="50.3" r="0.73" fill="#d2d5e0" opacity="0.9"/>
<circle cx="351.8" cy="76.6" r="0.62" fill="#e0e2ea" opacity="0.9"/>
<circle cx="328.3" cy="59.4" r="0.60" fill="#d2d5e0" opacity="0.9"/>
<circle cx="290.8" cy="71.7" r="0.78" fill="#e0e2ea" opacity="0.9"/>
<circle cx="376.1" cy="90.2" r="0.95" fill="#e0e2ea" opacity="0.9"/>
<circle cx="329.7" cy="38.4" r="0.68" fill="#b5b8cb" opacity="0.9"/>
<circle cx="330.2" cy="94.9" r="0.66" fill="#d2d5e0" opacity="0.9"/>
<circle cx="375.7" cy="46.4" r="0.98" fill="#adb0c4" opacity="0.9"/>
<circle cx="330.3" cy="39.6" r="0.67" fill="#b5b8cb" opacity="0.9"/>
<circle cx="336.1" cy="42.1" r="0.51" fill="#adb0c4" opacity="0.9"/>
<circle cx="325.6" cy="93.5" r="0.73" fill="#d2d5e0" opacity="0.9"/>
<circle cx="337.9" cy="92.9" r="0.84" fill="#d2d5e0" opacity="0.9"/>
<circle cx="328.2" cy="91.4" r="0.60" fill="#adb0c4" opacity="0.9"/>
<circle cx="314.2" cy="65.4" r="0.65" fill="#adb0c4" opacity="0.9"/>
<circle cx="355.0" cy="63.9" r="0.71" fill="#adb0c4" opacity="0.9"/>
<circle cx="336.7" cy="33.5" r="0.75" fill="#d8dbe6" opacity="0.9"/>
<circle cx="360.1" cy="36.0" r="0.56" fill="#d2d5e0" opacity="0.9"/>
<circle cx="380.4" cy="96.4" r="0.84" fill="#d8dbe6" opacity="0.9"/>
<circle cx="303.2" cy="95.0" r="0.54" fill="#d2d5e0" opacity="0.9"/>
<circle cx="308.6" cy="62.5" r="0.50" fill="#e0e2ea" opacity="0.9"/>
<circle cx="313.0" cy="73.8" r="0.77" fill="#adb0c4" opacity="0.9"/>
<circle cx="273.5" cy="33.2" r="0.59" fill="#adb0c4" opacity="0.9"/>
<circle cx="283.9" cy="91.6" r="0.63" fill="#b5b8cb" opacity="0.9"/>
<circle cx="383.9" cy="71.0" r="0.69" fill="#d8dbe6" opacity="0.9"/>
<circle cx="279.9" cy="83.4" r="0.99" fill="#d8dbe6" opacity="0.9"/>
<circle cx="369.1" cy="88.4" r="0.76" fill="#e0e2ea" opacity="0.9"/>
<circle cx="314.6" cy="69.9" r="0.98" fill="#d8dbe6" opacity="0.9"/>
<circle cx="388.2" cy="66.9" r="0.83" fill="#adb0c4" opacity="0.9"/>
<circle cx="315.5" cy="46.2" r="0.57" fill="#d2d5e0" opacity="0.9"/>
<circle cx="301.8" cy="28.3" r="0.58" fill="#adb0c4" opacity="0.9"/>
<circle cx="284.9" cy="80.7" r="0.56" fill="#d2d5e0" opacity="0.9"/>
<circle cx="330.8" cy="63.0" r="0.78" fill="#e0e2ea" opacity="0.9"/>
<circle cx="326.2" cy="77.0" r="0.86" fill="#adb0c4" opacity="0.9"/>
<circle cx="321.5" cy="35.9" r="0.88" fill="#adb0c4" opacity="0.9"/>
<circle cx="376.8" cy="45.6" r="0.89" fill="#e0e2ea" opacity="0.9"/>
<circle cx="340.9" cy="51.3" r="0.74" fill="#d8dbe6" opacity="0.9"/>
<circle cx="298.0" cy="70.6" r="0.92" fill="#e0e2ea" opacity="0.9"/>
<circle cx="387.6" cy="36.1" r="0.52" fill="#adb0c4" opacity="0.9"/>
<circle cx="295.2" cy="37.8" r="0.89" fill="#d8dbe6" opacity="0.9"/>
<circle cx="311.6" cy="23.3" r="0.88" fill="#d8dbe6" opacity="0.9"/>
<circle cx="331.9" cy="91.9" r="0.62" fill="#adb0c4" opacity="0.9"/>
<circle cx="292.1" cy="51.6" r="0.97" fill="#d8dbe6" opacity="0.9"/>
<circle cx="354.6" cy="51.3" r="0.58" fill="#d8dbe6" opacity="0.9"/>
<circle cx="330.2" cy="96.2" r="0.87" fill="#adb0c4" opacity="0.9"/>
<circle cx="367.8" cy="80.2" r="0.64" fill="#d8dbe6" opacity="0.9"/>
<circle cx="311.2" cy="25.2" r="0.87" fill="#adb0c4" opacity="0.9"/>
<circle cx="331.7" cy="30.4" r="0.83" fill="#e0e2ea" opacity="0.9"/>
<circle cx="302.3" cy="53.3" r="0.62" fill="#e0e2ea" opacity="0.9"/>
<circle cx="272.4" cy="34.8" r="0.70" fill="#adb0c4" opacity="0.9"/>
<circle cx="319.7" cy="59.9" r="0.64" fill="#d2d5e0" opacity="0.9"/>
<circle cx="311.2" cy="38.3" r="0.84" fill="#adb0c4" opacity="0.9"/>
<circle cx="276.4" cy="50.3" r="0.92" fill="#d8dbe6" opacity="0.9"/>
<circle cx="290.2" cy="22.6" r="0.77" fill="#d2d5e0" opacity="0.9"/>
<circle cx="379.6" cy="25.0" r="0.75" fill="#e0e2ea" opacity="0.9"/>
<circle cx="301.6" cy="24.9" r="0.96" fill="#b5b8cb" opacity="0.9"/>
<circle cx="366.6" cy="40.4" r="0.97" fill="#e0e2ea" opacity="0.9"/>
<circle cx="286.8" cy="22.4" r="0.72" fill="#d8dbe6" opacity="0.9"/>
<circle cx="353.6" cy="63.3" r="0.99" fill="#d8dbe6" opacity="0.9"/>
<circle cx="364.4" cy="80.2" r="0.54" fill="#d2d5e0" opacity="0.9"/>
<circle cx="300.1" cy="34.7" r="0.97" fill="#d2d5e0" opacity="0.9"/>
<circle cx="312.7" cy="72.6" r="0.68" fill="#d2d5e0" opacity="0.9"/>
<circle cx="290.9" cy="52.0" r="0.59" fill="#adb0c4" opacity="0.9"/>
<circle cx="282.7" cy="75.1" r="0.93" fill="#adb0c4" opacity="0.9"/>
<circle cx="349.1" cy="37.9" r="0.56" fill="#e0e2ea" opacity="0.9"/>
<circle cx="282.8" cy="34.7" r="0.58" fill="#d2d5e0" opacity="0.9"/>
<circle cx="281.9" cy="41.5" r="0.80" fill="#b5b8cb" opacity="0.9"/>
<circle cx="373.2" cy="64.1" r="0.98" fill="#b5b8cb" opacity="0.9"/>
<circle cx="334.4" cy="41.9" r="0.60" fill="#d2d5e0" opacity="0.9"/>
<circle cx="286.8" cy="45.4" r="0.78" fill="#adb0c4" opacity="0.9"/>
<circle cx="344.5" cy="69.8" r="0.56" fill="#d8dbe6" opacity="0.9"/>
<circle cx="321.0" cy="70.1" r="0.59" fill="#b5b8cb" opacity="0.9"/>
<circle cx="306.3" cy="26.5" r="0.81" fill="#e0e2ea" opacity="0.9"/>
<circle cx="363.4" cy="58.4" r="0.62" fill="#b5b8cb" opacity="0.9"/>
<circle cx="335.5" cy="60.5" r="0.65" fill="#d8dbe6" opacity="0.9"/>
<circle cx="367.8" cy="55.6" r="0.87" fill="#adb0c4" opacity="0.9"/>
<circle cx="357.3" cy="86.0" r="0.85" fill="#e0e2ea" opacity="0.9"/>
<circle cx="314.1" cy="77.4" r="0.87" fill="#adb0c4" opacity="0.9"/>
<circle cx="368.6" cy="95.7" r="0.72" fill="#d2d5e0" opacity="0.9"/>
<circle cx="346.3" cy="72.5" r="0.64" fill="#d8dbe6" opacity="0.9"/>
<circle cx="312.0" cy="49.8" r="0.72" fill="#b5b8cb" opacity="0.9"/>
<circle cx="333.4" cy="70.6" r="0.98" fill="#adb0c4" opacity="0.9"/>
<circle cx="311.8" cy="54.8" r="0.86" fill="#adb0c4" opacity="0.9"/>
<circle cx="329.1" cy="46.5" r="0.63" fill="#e0e2ea" opacity="0.9"/>
<circle cx="277.1" cy="27.5" r="0.67" fill="#e0e2ea" opacity="0.9"/>
<circle cx="373.5" cy="52.1" r="0.71" fill="#d2d5e0" opacity="0.9"/>
<circle cx="290.0" cy="68.3" r="0.86" fill="#d2d5e0" opacity="0.9"/>
<circle cx="304.9" cy="90.8" r="0.93" fill="#d2d5e0" opacity="0.9"/>
<circle cx="276.3" cy="30.8" r="0.53" fill="#e0e2ea" opacity="0.9"/>
<circle cx="294.5" cy="78.8" r="0.69" fill="#d8dbe6" opacity="0.9"/>
<circle cx="285.0" cy="38.7" r="0.76" fill="#b5b8cb" opacity="0.9"/>
<circle cx="387.6" cy="95.9" r="0.70" fill="#adb0c4" opacity="0.9"/>
<circle cx="316.4" cy="17.9" r="0.69" fill="#d2d5e0" opacity="0.9"/>
<circle cx="311.0" cy="71.4" r="0.81" fill="#adb0c4" opacity="0.9"/>
<circle cx="296.2" cy="63.4" r="0.79" fill="#adb0c4" opacity="0.9"/>
<circle cx="306.4" cy="33.0" r="0.93" fill="#adb0c4" opacity="0.9"/>
<circle cx="299.3" cy="63.9" r="0.79" fill="#d2d5e0" opacity="0.9"/>
<circle cx="286.2" cy="62.7" r="0.76" fill="#b5b8cb" opacity="0.9"/>
<circle cx="282.5" cy="53.8" r="0.62" fill="#e0e2ea" opacity="0.9"/>
<circle cx="308.4" cy="50.3" r="0.68" fill="#adb0c4" opacity="0.9"/>
<circle cx="285.6" cy="95.9" r="0.62" fill="#e0e2ea" opacity="0.9"/>
<circle cx="300.5" cy="64.0" r="0.69" fill="#d8dbe6" opacity="0.9"/>
<circle cx="332.8" cy="61.0" r="0.65" fill="#e0e2ea" opacity="0.9"/>
<circle cx="362.8" cy="55.3" r="0.99" fill="#d8dbe6" opacity="0.9"/>
<circle cx="349.6" cy="54.0" r="0.80" fill="#adb0c4" opacity="0.9"/>
<circle cx="363.0" cy="84.4" r="0.77" fill="#e0e2ea" opacity="0.9"/>
<circle cx="290.7" cy="93.5" r="0.99" fill="#e0e2ea" opacity="0.9"/>
<circle cx="381.8" cy="87.2" r="0.66" fill="#adb0c4" opacity="0.9"/>
<circle cx="353.1" cy="22.4" r="0.95" fill="#adb0c4" opacity="0.9"/>
<circle cx="315.2" cy="51.6" r="0.75" fill="#d2d5e0" opacity="0.9"/>
<circle cx="379.5" cy="44.8" r="0.68" fill="#adb0c4" opacity="0.9"/>
<circle cx="283.7" cy="59.2" r="0.56" fill="#d2d5e0" opacity="0.9"/>
<circle cx="372.8" cy="33.8" r="0.94" fill="#d2d5e0" opacity="0.9"/>
<circle cx="371.2" cy="65.2" r="0.78" fill="#d2d5e0" opacity="0.9"/>
<circle cx="305.2" cy="23.8" r="0.98" fill="#d2d5e0" opacity="0.9"/>
<circle cx="370.7" cy="46.3" r="0.99" fill="#d2d5e0" opacity="0.9"/>
<circle cx="288.1" cy="70.9" r="0.56" fill="#adb0c4" opacity="0.9"/>
<circle cx="320.8" cy="93.6" r="0.68" fill="#e0e2ea" opacity="0.9"/>
<circle cx="272.4" cy="96.9" r="0.60" fill="#b5b8cb" opacity="0.9"/>
<circle cx="324.2" cy="49.5" r="0.62" fill="#e0e2ea" opacity="0.9"/>
<circle cx="291.3" cy="90.3" r="0.91" fill="#d8dbe6" opacity="0.9"/>
<circle cx="275.4" cy="34.6" r="0.98" fill="#e0e2ea" opacity="0.9"/>
<circle cx="351.1" cy="56.8" r="0.74" fill="#adb0c4" opacity="0.9"/>
<circle cx="335.4" cy="22.4" r="0.59" fill="#adb0c4" opacity="0.9"/>
<circle cx="302.3" cy="68.6" r="0.57" fill="#b5b8cb" opacity="0.9"/>
<circle cx="362.1" cy="69.7" r="0.93" fill="#d2d5e0" opacity="0.9"/>
<circle cx="336.4" cy="27.7" r="0.74" fill="#b5b8cb" opacity="0.9"/>
<circle cx="285.0" cy="38.9" r="0.65" fill="#adb0c4" opacity="0.9"/>
<circle cx="335.9" cy="66.3" r="0.89" fill="#b5b8cb" opacity="0.9"/>
<circle cx="369.5" cy="70.7" r="0.87" fill="#d2d5e0" opacity="0.9"/>
<circle cx="338.3" cy="77.2" r="0.68" fill="#e0e2ea" opacity="0.9"/>
<circle cx="336.3" cy="30.1" r="0.53" fill="#d8dbe6" opacity="0.9"/>
<circle cx="281.5" cy="67.0" r="0.80" fill="#b5b8cb" opacity="0.9"/>
<circle cx="357.2" cy="38.4" r="0.92" fill="#adb0c4" opacity="0.9"/>
<circle cx="378.0" cy="93.0" r="0.51" fill="#b5b8cb" opacity="0.9"/>
<circle cx="376.2" cy="52.2" r="0.92" fill="#e0e2ea" opacity="0.9"/>
<circle cx="334.3" cy="86.0" r="0.60" fill="#d2d5e0" opacity="0.9"/>
<circle cx="342.6" cy="27.5" r="0.69" fill="#d8dbe6" opacity="0.9"/>
<circle cx="274.6" cy="74.6" r="0.53" fill="#d2d5e0" opacity="0.9"/>
<circle cx="350.6" cy="41.1" r="0.87" fill="#d8dbe6" opacity="0.9"/>
<circle cx="373.8" cy="96.2" r="0.72" fill="#d2d5e0" opacity="0.9"/>
<circle cx="336.7" cy="17.4" r="0.53" fill="#d2d5e0" opacity="0.9"/>
<circle cx="298.6" cy="24.3" r="0.96" fill="#b5b8cb" opacity="0.9"/>
<circle cx="328.6" cy="65.1" r="0.94" fill="#e0e2ea" opacity="0.9"/>
<circle cx="353.8" cy="54.1" r="0.89" fill="#e0e2ea" opacity="0.9"/>
<circle cx="369.1" cy="92.2" r="0.61" fill="#d2d5e0" opacity="0.9"/>
<circle cx="359.1" cy="83.5" r="0.62" fill="#d2d5e0" opacity="0.9"/>
<circle cx="318.3" cy="34.9" r="0.61" fill="#d2d5e0" opacity="0.9"/>
<circle cx="326.0" cy="44.8" r="0.74" fill="#b5b8cb" opacity="0.9"/>
<circle cx="360.2" cy="76.6" r="0.94" fill="#d2d5e0" opacity="0.9"/>
<circle cx="318.9" cy="29.8" r="0.75" fill="#e0e2ea" opacity="0.9"/>
<circle cx="290.3" cy="78.1" r="0.71" fill="#adb0c4" opacity="0.9"/>
<circle cx="327.2" cy="57.5" r="0.89" fill="#adb0c4" opacity="0.9"/>
<circle cx="348.5" cy="36.9" r="0.79" fill="#d8dbe6" opacity="0.9"/>
<circle cx="302.9" cy="44.9" r="0.56" fill="#d2d5e0" opacity="0.9"/>
<circle cx="316.1" cy="63.3" r="0.61" fill="#e0e2ea" opacity="0.9"/>
<circle cx="366.5" cy="86.8" r="0.65" fill="#adb0c4" opacity="0.9"/>
<circle cx="336.6" cy="65.1" r="0.81" fill="#adb0c4" opacity="0.9"/>
<circle cx="354.0" cy="30.6" r="0.84" fill="#d8dbe6" opacity="0.9"/>
<circle cx="364.0" cy="71.3" r="0.91" fill="#e0e2ea" opacity="0.9"/>
<circle cx="369.6" cy="74.1" r="0.72" fill="#d8dbe6" opacity="0.9"/>
<circle cx="290.3" cy="30.8" r="0.95" fill="#d2d5e0" opacity="0.9"/>
<circle cx="297.9" cy="86.3" r="0.69" fill="#adb0c4" opacity="0.9"/>
<circle cx="283.7" cy="74.8" r="0.92" fill="#adb0c4" opacity="0.9"/>
<circle cx="327.6" cy="60.0" r="0.72" fill="#b5b8cb" opacity="0.9"/>
<circle cx="328.9" cy="24.9" r="0.99" fill="#adb0c4" opacity="0.9"/>
<circle cx="324.0" cy="88.2" r="0.82" fill="#d8dbe6" opacity="0.9"/>
<circle cx="334.9" cy="34.4" r="0.89" fill="#d2d5e0" opacity="0.9"/>
<circle cx="345.8" cy="64.6" r="0.97" fill="#adb0c4" opacity="0.9"/>
<circle cx="347.8" cy="46.7" r="0.74" fill="#d8dbe6" opacity="0.9"/>
<circle cx="386.8" cy="29.6" r="0.65" fill="#d2d5e0" opacity="0.9"/>
<circle cx="336.4" cy="75.6" r="0.55" fill="#b5b8cb" opacity="0.9"/>
<circle cx="373.8" cy="21.0" r="0.62" fill="#d8dbe6" opacity="0.9"/>
<circle cx="301.9" cy="83.7" r="0.63" fill="#adb0c4" opacity="0.9"/>
<circle cx="301.3" cy="41.0" r="0.73" fill="#d2d5e0" opacity="0.9"/>
<circle cx="300.4" cy="87.3" r="0.71" fill="#adb0c4" opacity="0.9"/>
<circle cx="373.0" cy="26.2" r="0.87" fill="#e0e2ea" opacity="0.9"/>
<circle cx="353.6" cy="79.4" r="1.00" fill="#adb0c4" opacity="0.9"/>
<circle cx="313.0" cy="42.1" r="0.69" fill="#b5b8cb" opacity="0.9"/>
<circle cx="317.9" cy="42.0" r="0.54" fill="#b5b8cb" opacity="0.9"/>
<circle cx="359.5" cy="71.1" r="0.79" fill="#b5b8cb" opacity="0.9"/>
<circle cx="369.2" cy="55.1" r="0.59" fill="#e0e2ea" opacity="0.9"/>
<circle cx="378.0" cy="82.7" r="0.61" fill="#d8dbe6" opacity="0.9"/>
<circle cx="337.5" cy="53.9" r="0.79" fill="#adb0c4" opacity="0.9"/>
<circle cx="388.4" cy="57.7" r="0.56" fill="#d2d5e0" opacity="0.9"/>
<circle cx="377.2" cy="51.5" r="0.50" fill="#d2d5e0" opacity="0.9"/>
<circle cx="345.4" cy="67.6" r="0.92" fill="#e0e2ea" opacity="0.9"/>
<circle cx="367.7" cy="87.0" r="0.72" fill="#adb0c4" opacity="0.9"/>
<circle cx="288.7" cy="48.4" r="0.50" fill="#d2d5e0" opacity="0.9"/>
<circle cx="274.6" cy="52.3" r="0.66" fill="#b5b8cb" opacity="0.9"/>
<circle cx="299.1" cy="22.4" r="0.52" fill="#d8dbe6" opacity="0.9"/>
<circle cx="305.6" cy="80.3" r="0.65" fill="#b5b8cb" opacity="0.9"/>
<circle cx="352.5" cy="30.0" r="0.55" fill="#d8dbe6" opacity="0.9"/>
<circle cx="388.5" cy="40.9" r="0.89" fill="#d2d5e0" opacity="0.9"/>
<circle cx="354.5" cy="66.3" r="0.82" fill="#e0e2ea" opacity="0.9"/>
<circle cx="376.7" cy="26.4" r="0.73" fill="#e0e2ea" opacity="0.9"/>
<circle cx="385.2" cy="47.6" r="0.72" fill="#adb0c4" opacity="0.9"/>
<circle cx="316.5" cy="33.0" r="0.74" fill="#e0e2ea" opacity="0.9"/>
<circle cx="318.0" cy="77.4" r="0.64" fill="#d8dbe6" opacity="0.9"/>
<circle cx="340.6" cy="69.1" r="0.63" fill="#adb0c4" opacity="0.9"/>
<circle cx="290.0" cy="48.2" r="0.80" fill="#d2d5e0" opacity="0.9"/>
<circle cx="289.9" cy="58.5" r="0.71" fill="#d2d5e0" opacity="0.9"/>
<circle cx="377.0" cy="36.0" r="0.78" fill="#e0e2ea" opacity="0.9"/>
<circle cx="281.6" cy="66.1" r="0.83" fill="#d2d5e0" opacity="0.9"/>
<circle cx="378.6" cy="52.2" r="0.88" fill="#d8dbe6" opacity="0.9"/>
<circle cx="380.1" cy="25.7" r="0.65" fill="#d8dbe6" opacity="0.9"/>
<circle cx="366.8" cy="46.1" r="0.90" fill="#d8dbe6" opacity="0.9"/>
<circle cx="273.8" cy="29.1" r="0.61" fill="#d8dbe6" opacity="0.9"/>
<circle cx="367.4" cy="61.2" r="0.80" fill="#d8dbe6" opacity="0.9"/>
<circle cx="288.0" cy="82.7" r="0.71" fill="#d2d5e0" opacity="0.9"/>
<circle cx="340.6" cy="42.0" r="0.98" fill="#b5b8cb" opacity="0.9"/>
<circle cx="358.8" cy="24.8" r="0.97" fill="#e0e2ea" opacity="0.9"/>
<circle cx="307.7" cy="21.7" r="0.56" fill="#e0e2ea" opacity="0.9"/>
<circle cx="279.5" cy="72.5" r="0.79" fill="#d2d5e0" opacity="0.9"/>
<circle cx="351.3" cy="40.2" r="0.79" fill="#d8dbe6" opacity="0.9"/>
<circle cx="305.0" cy="63.9" r="0.65" fill="#d2d5e0" opacity="0.9"/>
<circle cx="346.7" cy="57.7" r="0.55" fill="#b5b8cb" opacity="0.9"/>
<circle cx="330.0" cy="35.3" r="0.56" fill="#b5b8cb" opacity="0.9"/>
<circle cx="369.4" cy="40.3" r="0.65" fill="#adb0c4" opacity="0.9"/>
<circle cx="320.2" cy="88.4" r="0.64" fill="#b5b8cb" opacity="0.9"/>
<circle cx="376.4" cy="96.2" r="0.97" fill="#d2d5e0" opacity="0.9"/>
<circle cx="382.7" cy="85.5" r="0.90" fill="#adb0c4" opacity="0.9"/>
<circle cx="388.7" cy="68.8" r="0.90" fill="#b5b8cb" opacity="0.9"/>
<circle cx="273.8" cy="37.6" r="0.85" fill="#d2d5e0" opacity="0.9"/>
<circle cx="302.3" cy="66.3" r="0.60" fill="#e0e2ea" opacity="0.9"/>
<circle cx="292.4" cy="69.1" r="0.65" fill="#d8dbe6" opacity="0.9"/>
<circle cx="293.6" cy="68.4" r="0.76" fill="#e0e2ea" opacity="0.9"/>
<circle cx="277.0" cy="32.3" r="0.98" fill="#e0e2ea" opacity="0.9"/>
<circle cx="352.2" cy="32.7" r="0.83" fill="#b5b8cb" opacity="0.9"/>
<circle cx="358.6" cy="69.0" r="0.70" fill="#b5b8cb" opacity="0.9"/>
<circle cx="318.8" cy="48.7" r="0.70" fill="#adb0c4" opacity="0.9"/>
<circle cx="384.9" cy="79.2" r="1.00" fill="#e0e2ea" opacity="0.9"/>
<circle cx="276.3" cy="23.5" r="0.84" fill="#d8dbe6" opacity="0.9"/>
<circle cx="355.7" cy="92.1" r="0.92" fill="#d2d5e0" opacity="0.9"/>
<circle cx="376.4" cy="53.7" r="0.67" fill="#b5b8cb" opacity="0.9"/>
<circle cx="315.1" cy="80.9" r="0.92" fill="#b5b8cb" opacity="0.9"/>
<circle cx="350.3" cy="30.6" r="0.58" fill="#b5b8cb" opacity="0.9"/>
<circle cx="334.0" cy="55.3" r="0.93" fill="#b5b8cb" opacity="0.9"/>
<circle cx="290.1" cy="74.4" r="0.61" fill="#d2d5e0" opacity="0.9"/>
<circle cx="385.5" cy="40.1" r="0.54" fill="#adb0c4" opacity="0.9"/>
<circle cx="318.2" cy="18.0" r="0.72" fill="#e0e2ea" opacity="0.9"/>
<circle cx="326.6" cy="52.2" r="0.82" fill="#d8dbe6" opacity="0.9"/>
<circle cx="283.0" cy="92.6" r="0.70" fill="#adb0c4" opacity="0.9"/>
<circle cx="274.8" cy="25.0" r="0.85" fill="#b5b8cb" opacity="0.9"/>
<circle cx="350.0" cy="24.2" r="0.72" fill="#adb0c4" opacity="0.9"/>
<circle cx="385.5" cy="46.8" r="0.99" fill="#d8dbe6" opacity="0.9"/>
<circle cx="361.5" cy="64.3" r="0.81" fill="#b5b8cb" opacity="0.9"/>
<circle cx="366.7" cy="72.6" r="0.77" fill="#e0e2ea" opacity="0.9"/>
<circle cx="290.1" cy="60.2" r="0.63" fill="#e0e2ea" opacity="0.9"/>
<circle cx="290.8" cy="24.2" r="0.99" fill="#d2d5e0" opacity="0.9"/>
<circle cx="342.1" cy="90.8" r="0.91" fill="#b5b8cb" opacity="0.9"/>
<circle cx="351.9" cy="20.8" r="0.75" fill="#b5b8cb" opacity="0.9"/>
<circle cx="283.9" cy="43.7" r="0.85" fill="#d2d5e0" opacity="0.9"/>
<circle cx="349.5" cy="92.0" r="0.89" fill="#e0e2ea" opacity="0.9"/>
<circle cx="324.6" cy="54.4" r="0.78" fill="#d8dbe6" opacity="0.9"/>
<circle cx="352.6" cy="31.0" r="0.56" fill="#adb0c4" opacity="0.9"/>
<circle cx="296.5" cy="33.7" r="0.83" fill="#adb0c4" opacity="0.9"/>
<circle cx="383.1" cy="96.7" r="0.72" fill="#d8dbe6" opacity="0.9"/>
<circle cx="345.9" cy="30.9" r="0.99" fill="#adb0c4" opacity="0.9"/>
<circle cx="324.2" cy="22.4" r="0.52" fill="#e0e2ea" opacity="0.9"/>
<circle cx="359.0" cy="57.3" r="0.54" fill="#adb0c4" opacity="0.9"/>
<circle cx="371.4" cy="79.4" r="0.79" fill="#adb0c4" opacity="0.9"/>
<circle cx="311.7" cy="67.4" r="0.71" fill="#d8dbe6" opacity="0.9"/>
<circle cx="347.5" cy="57.4" r="0.66" fill="#b5b8cb" opacity="0.9"/>
<circle cx="364.2" cy="51.5" r="0.61" fill="#d8dbe6" opacity="0.9"/>
<circle cx="275.1" cy="84.4" r="0.93" fill="#e0e2ea" opacity="0.9"/>
<circle cx="353.6" cy="94.3" r="0.92" fill="#b5b8cb" opacity="0.9"/>
<circle cx="316.3" cy="42.2" r="0.98" fill="#d2d5e0" opacity="0.9"/>
<circle cx="319.9" cy="93.7" r="0.75" fill="#b5b8cb" opacity="0.9"/>
<circle cx="315.9" cy="56.4" r="0.70" fill="#d8dbe6" opacity="0.9"/>
<circle cx="330.3" cy="51.6" r="0.75" fill="#d8dbe6" opacity="0.9"/>
<circle cx="285.5" cy="64.9" r="0.94" fill="#d2d5e0" opacity="0.9"/>
<circle cx="277.4" cy="87.3" r="0.83" fill="#d2d5e0" opacity="0.9"/>
<circle cx="350.2" cy="17.2" r="0.74" fill="#adb0c4" opacity="0.9"/>
<circle cx="313.1" cy="54.5" r="0.55" fill="#b5b8cb" opacity="0.9"/>
<circle cx="344.1" cy="43.5" r="0.77" fill="#b5b8cb" opacity="0.9"/>
<circle cx="318.7" cy="88.0" r="0.90" fill="#d8dbe6" opacity="0.9"/>
<circle cx="322.4" cy="87.6" r="0.82" fill="#b5b8cb" opacity="0.9"/>
<circle cx="385.3" cy="66.9" r="0.74" fill="#b5b8cb" opacity="0.9"/>
<circle cx="277.3" cy="40.2" r="0.83" fill="#adb0c4" opacity="0.9"/>
<circle cx="309.5" cy="87.1" r="0.53" fill="#adb0c4" opacity="0.9"/>
<circle cx="275.6" cy="68.9" r="0.90" fill="#adb0c4" opacity="0.9"/>
<circle cx="357.7" cy="84.0" r="0.87" fill="#b5b8cb" opacity="0.9"/>
<circle cx="386.6" cy="78.6" r="0.81" fill="#adb0c4" opacity="0.9"/>
<circle cx="383.7" cy="79.3" r="0.98" fill="#adb0c4" opacity="0.9"/>
<circle cx="323.4" cy="87.9" r="0.98" fill="#adb0c4" opacity="0.9"/>
<circle cx="366.0" cy="31.0" r="0.78" fill="#d2d5e0" opacity="0.9"/>
<circle cx="381.5" cy="18.5" r="0.64" fill="#e0e2ea" opacity="0.9"/>
<circle cx="278.1" cy="26.8" r="0.92" fill="#d8dbe6" opacity="0.9"/>
<circle cx="318.5" cy="60.8" r="0.96" fill="#d8dbe6" opacity="0.9"/>
<circle cx="310.2" cy="22.7" r="0.69" fill="#d2d5e0" opacity="0.9"/>
<circle cx="335.4" cy="20.2" r="0.94" fill="#e0e2ea" opacity="0.9"/>
<circle cx="331.4" cy="28.5" r="0.91" fill="#d8dbe6" opacity="0.9"/>
<circle cx="297.4" cy="92.2" r="0.91" fill="#adb0c4" opacity="0.9"/>
<circle cx="377.6" cy="21.3" r="0.96" fill="#d2d5e0" opacity="0.9"/>
<circle cx="283.4" cy="78.3" r="0.89" fill="#b5b8cb" opacity="0.9"/>
<circle cx="369.4" cy="95.8" r="0.66" fill="#adb0c4" opacity="0.9"/>
<circle cx="379.8" cy="42.1" r="0.84" fill="#adb0c4" opacity="0.9"/>
<circle cx="371.3" cy="62.3" r="0.64" fill="#d2d5e0" opacity="0.9"/>
<circle cx="342.8" cy="31.7" r="0.81" fill="#d2d5e0" opacity="0.9"/>
<circle cx="376.0" cy="36.4" r="0.85" fill="#d8dbe6" opacity="0.9"/>
<circle cx="295.6" cy="41.5" r="0.50" fill="#d2d5e0" opacity="0.9"/>
<circle cx="283.5" cy="39.5" r="0.89" fill="#e0e2ea" opacity="0.9"/>
<circle cx="366.3" cy="60.2" r="0.72" fill="#d8dbe6" opacity="0.9"/>
<circle cx="312.8" cy="87.4" r="0.58" fill="#d8dbe6" opacity="0.9"/>
<circle cx="381.1" cy="17.5" r="0.95" fill="#e0e2ea" opacity="0.9"/>
<circle cx="281.8" cy="36.7" r="0.83" fill="#e0e2ea" opacity="0.9"/>
<circle cx="345.2" cy="26.3" r="0.70" fill="#adb0c4" opacity="0.9"/>
<circle cx="300.3" cy="80.1" r="0.86" fill="#e0e2ea" opacity="0.9"/>
<circle cx="334.2" cy="73.0" r="0.56" fill="#e0e2ea" opacity="0.9"/>
<circle cx="279.8" cy="50.5" r="0.65" fill="#d8dbe6" opacity="0.9"/>
<circle cx="297.1" cy="43.0" r="0.64" fill="#e0e2ea" opacity="0.9"/>
<circle cx="307.5" cy="66.8" r="0.54" fill="#d8dbe6" opacity="0.9"/>
<circle cx="324.6" cy="62.3" r="0.93" fill="#d2d5e0" opacity="0.9"/>
<circle cx="329.9" cy="48.6" r="0.62" fill="#adb0c4" opacity="0.9"/>
<circle cx="331.8" cy="32.3" r="0.50" fill="#e0e2ea" opacity="0.9"/>
<circle cx="369.8" cy="94.1" r="0.67" fill="#d8dbe6" opacity="0.9"/>
<circle cx="337.2" cy="74.9" r="0.54" fill="#e0e2ea" opacity="0.9"/>
<circle cx="349.2" cy="41.6" r="0.76" fill="#d2d5e0" opacity="0.9"/>
<circle cx="310.0" cy="83.4" r="0.64" fill="#b5b8cb" opacity="0.9"/>
<circle cx="327.9" cy="94.2" r="0.57" fill="#d2d5e0" opacity="0.9"/>
<circle cx="346.9" cy="86.8" r="0.71" fill="#d8dbe6" opacity="0.9"/>
<circle cx="304.1" cy="59.9" r="0.75" fill="#adb0c4" opacity="0.9"/>
<circle cx="322.0" cy="18.6" r="1.00" fill="#adb0c4" opacity="0.9"/>
<circle cx="353.7" cy="71.6" r="0.55" fill="#adb0c4" opacity="0.9"/>
<circle cx="308.3" cy="33.2" r="0.69" fill="#e0e2ea" opacity="0.9"/>
<circle cx="346.1" cy="46.2" r="0.55" fill="#d8dbe6" opacity="0.9"/>
<circle cx="308.1" cy="26.2" r="0.87" fill="#e0e2ea" opacity="0.9"/>
<circle cx="349.4" cy="62.6" r="0.82" fill="#adb0c4" opacity="0.9"/>
<circle cx="381.9" cy="64.3" r="0.77" fill="#e0e2ea" opacity="0.9"/>
<circle cx="310.6" cy="47.8" r="1.00" fill="#e0e2ea" opacity="0.9"/>
<circle cx="276.3" cy="57.0" r="0.76" fill="#d8dbe6" opacity="0.9"/>
<circle cx="367.1" cy="21.5" r="0.65" fill="#d8dbe6" opacity="0.9"/>
<circle cx="376.0" cy="35.9" r="0.89" fill="#e0e2ea" opacity="0.9"/>
<circle cx="377.3" cy="49.7" r="0.54" fill="#d8dbe6" opacity="0.9"/>
<circle cx="292.2" cy="33.6" r="0.55" fill="#adb0c4" opacity="0.9"/>
<circle cx="379.5" cy="82.6" r="0.65" fill="#d8dbe6" opacity="0.9"/>
<circle cx="288.6" cy="43.0" r="0.71" fill="#d8dbe6" opacity="0.9"/>
<circle cx="277.1" cy="56.0" r="0.52" fill="#e0e2ea" opacity="0.9"/>
<circle cx="345.2" cy="39.3" r="0.72" fill="#adb0c4" opacity="0.9"/>
<circle cx="303.2" cy="54.4" r="0.58" fill="#e0e2ea" opacity="0.9"/>
<circle cx="382.7" cy="89.1" r="0.88" fill="#adb0c4" opacity="0.9"/>
<circle cx="341.7" cy="69.3" r="0.70" fill="#b5b8cb" opacity="0.9"/>
<circle cx="279.6" cy="41.3" r="0.68" fill="#d2d5e0" opacity="0.9"/>
<circle cx="334.3" cy="68.1" r="0.55" fill="#d2d5e0" opacity="0.9"/>
<circle cx="316.9" cy="66.6" r="0.66" fill="#d8dbe6" opacity="0.9"/>
<circle cx="324.0" cy="86.5" r="0.89" fill="#d2d5e0" opacity="0.9"/>
<circle cx="307.3" cy="35.6" r="0.85" fill="#d2d5e0" opacity="0.9"/>
<circle cx="296.4" cy="67.7" r="0.78" fill="#e0e2ea" opacity="0.9"/>
<circle cx="339.0" cy="82.2" r="0.99" fill="#e0e2ea" opacity="0.9"/>
<circle cx="281.7" cy="86.2" r="0.79" fill="#d8dbe6" opacity="0.9"/>
<circle cx="340.9" cy="72.4" r="0.82" fill="#d2d5e0" opacity="0.9"/>
<circle cx="330.3" cy="51.8" r="0.82" fill="#b5b8cb" opacity="0.9"/>
<circle cx="360.4" cy="56.1" r="0.52" fill="#adb0c4" opacity="0.9"/>
<circle cx="310.2" cy="79.2" r="0.85" fill="#d2d5e0" opacity="0.9"/>
<circle cx="349.9" cy="78.1" r="0.82" fill="#e0e2ea" opacity="0.9"/>
<circle cx="365.8" cy="66.9" r="0.92" fill="#d2d5e0" opacity="0.9"/>
<circle cx="334.6" cy="64.8" r="0.86" fill="#adb0c4" opacity="0.9"/>
<circle cx="387.6" cy="48.9" r="0.51" fill="#d2d5e0" opacity="0.9"/>
<circle cx="312.8" cy="75.4" r="0.79" fill="#adb0c4" opacity="0.9"/>
<circle cx="320.4" cy="39.8" r="0.69" fill="#b5b8cb" opacity="0.9"/>
<circle cx="289.3" cy="24.7" r="0.63" fill="#b5b8cb" opacity="0.9"/>
<circle cx="320.4" cy="68.4" r="0.73" fill="#d2d5e0" opacity="0.9"/>
<circle cx="361.5" cy="71.3" r="0.96" fill="#d2d5e0" opacity="0.9"/>
<circle cx="301.8" cy="93.0" r="0.98" fill="#d8dbe6" opacity="0.9"/>
<circle cx="298.0" cy="35.4" r="0.89" fill="#e0e2ea" opacity="0.9"/>
<circle cx="302.8" cy="44.4" r="0.86" fill="#d2d5e0" opacity="0.9"/>
<circle cx="305.0" cy="58.0" r="0.98" fill="#adb0c4" opacity="0.9"/>
<circle cx="296.8" cy="26.3" r="0.68" fill="#d8dbe6" opacity="0.9"/>
<circle cx="331.5" cy="51.2" r="0.54" fill="#e0e2ea" opacity="0.9"/>
<circle cx="330.4" cy="46.3" r="0.76" fill="#d8dbe6" opacity="0.9"/>
<circle cx="312.2" cy="90.4" r="0.90" fill="#b5b8cb" opacity="0.9"/>
<circle cx="293.2" cy="56.9" r="0.96" fill="#adb0c4" opacity="0.9"/>
<circle cx="375.6" cy="65.7" r="0.55" fill="#adb0c4" opacity="0.9"/>
<circle cx="375.8" cy="19.7" r="0.85" fill="#adb0c4" opacity="0.9"/>
<circle cx="287.3" cy="71.5" r="0.75" fill="#e0e2ea" opacity="0.9"/>
<circle cx="315.7" cy="21.6" r="0.83" fill="#adb0c4" opacity="0.9"/>
<circle cx="321.8" cy="95.6" r="0.59" fill="#d2d5e0" opacity="0.9"/>
<circle cx="276.8" cy="38.9" r="0.56" fill="#adb0c4" opacity="0.9"/>
<circle cx="332.0" cy="88.0" r="0.98" fill="#d8dbe6" opacity="0.9"/>
<circle cx="332.5" cy="28.9" r="0.69" fill="#d2d5e0" opacity="0.9"/>
<circle cx="297.4" cy="78.2" r="0.74" fill="#e0e2ea" opacity="0.9"/>
<circle cx="311.5" cy="48.8" r="0.98" fill="#d2d5e0" opacity="0.9"/>
<circle cx="274.3" cy="56.3" r="0.74" fill="#adb0c4" opacity="0.9"/>
<circle cx="335.9" cy="92.3" r="0.56" fill="#e0e2ea" opacity="0.9"/>
<circle cx="362.6" cy="76.9" r="0.80" fill="#d8dbe6" opacity="0.9"/>
<circle cx="311.4" cy="29.0" r="0.60" fill="#b5b8cb" opacity="0.9"/>
<circle cx="356.6" cy="42.4" r="0.84" fill="#e0e2ea" opacity="0.9"/>
<circle cx="284.2" cy="60.3" r="0.65" fill="#e0e2ea" opacity="0.9"/>
<circle cx="366.3" cy="54.0" r="0.64" fill="#d2d5e0" opacity="0.9"/>
<circle cx="307.2" cy="60.6" r="0.51" fill="#e0e2ea" opacity="0.9"/>
<circle cx="292.8" cy="33.3" r="0.67" fill="#b5b8cb" opacity="0.9"/>
<circle cx="321.7" cy="94.9" r="0.97" fill="#d8dbe6" opacity="0.9"/>
<circle cx="333.8" cy="84.7" r="0.52" fill="#adb0c4" opacity="0.9"/>
<circle cx="273.8" cy="90.9" r="0.72" fill="#b5b8cb" opacity="0.9"/>
<circle cx="349.3" cy="37.3" r="0.96" fill="#e0e2ea" opacity="0.9"/>
<circle cx="380.0" cy="38.6" r="0.52" fill="#adb0c4" opacity="0.9"/>
<circle cx="326.0" cy="33.6" r="0.93" fill="#adb0c4" opacity="0.9"/>
<circle cx="289.1" cy="88.8" r="0.83" fill="#b5b8cb" opacity="0.9"/>
<circle cx="303.5" cy="55.9" r="0.68" fill="#d8dbe6" opacity="0.9"/>
<circle cx="322.9" cy="72.8" r="0.75" fill="#d8dbe6" opacity="0.9"/>
<circle cx="330.3" cy="63.8" r="0.92" fill="#d8dbe6" opacity="0.9"/>
<circle cx="319.4" cy="27.9" r="0.89" fill="#adb0c4" opacity="0.9"/>
<circle cx="289.0" cy="58.0" r="0.90" fill="#adb0c4" opacity="0.9"/>
<circle cx="330.9" cy="91.5" r="0.64" fill="#d8dbe6" opacity="0.9"/>
<circle cx="300.0" cy="53.8" r="0.82" fill="#b5b8cb" opacity="0.9"/>
<circle cx="283.5" cy="85.1" r="0.77" fill="#adb0c4" opacity="0.9"/>
<circle cx="387.7" cy="34.2" r="0.51" fill="#d2d5e0" opacity="0.9"/>
<circle cx="299.1" cy="35.3" r="0.52" fill="#adb0c4" opacity="0.9"/>
<circle cx="276.1" cy="90.7" r="0.74" fill="#adb0c4" opacity="0.9"/>
<circle cx="360.8" cy="41.1" r="0.86" fill="#adb0c4" opacity="0.9"/>
<circle cx="288.8" cy="71.5" r="0.73" fill="#e0e2ea" opacity="0.9"/>
<circle cx="291.6" cy="44.5" r="0.91" fill="#d2d5e0" opacity="0.9"/>
<circle cx="386.4" cy="26.5" r="0.61" fill="#d8dbe6" opacity="0.9"/>
<circle cx="285.7" cy="76.8" r="0.67" fill="#b5b8cb" opacity="0.9"/>
<circle cx="363.2" cy="58.3" r="0.78" fill="#d8dbe6" opacity="0.9"/>
<circle cx="348.8" cy="64.1" r="0.75" fill="#e0e2ea" opacity="0.9"/>
<circle cx="339.0" cy="27.3" r="0.71" fill="#e0e2ea" opacity="0.9"/>
<circle cx="279.8" cy="36.2" r="0.76" fill="#b5b8cb" opacity="0.9"/>
<circle cx="317.8" cy="51.1" r="0.69" fill="#b5b8cb" opacity="0.9"/>
<circle cx="282.6" cy="18.4" r="0.86" fill="#e0e2ea" opacity="0.9"/>
<circle cx="330.0" cy="31.0" r="0.56" fill="#d8dbe6" opacity="0.9"/>
<circle cx="300.0" cy="18.2" r="0.94" fill="#d2d5e0" opacity="0.9"/>
<circle cx="373.8" cy="70.9" r="0.95" fill="#adb0c4" opacity="0.9"/>
<circle cx="369.9" cy="36.3" r="0.63" fill="#e0e2ea" opacity="0.9"/>
<circle cx="324.0" cy="26.3" r="0.59" fill="#d2d5e0" opacity="0.9"/>
<circle cx="285.4" cy="64.5" r="0.99" fill="#e0e2ea" opacity="0.9"/>
<circle cx="379.0" cy="94.4" r="0.71" fill="#adb0c4" opacity="0.9"/>
<circle cx="280.0" cy="81.7" r="0.83" fill="#e0e2ea" opacity="0.9"/>
<circle cx="364.2" cy="91.9" r="0.88" fill="#adb0c4" opacity="0.9"/>
<circle cx="283.7" cy="64.1" r="0.71" fill="#adb0c4" opacity="0.9"/>
<circle cx="330.9" cy="74.4" r="1.00" fill="#b5b8cb" opacity="0.9"/>
<circle cx="298.8" cy="44.4" r="0.79" fill="#d2d5e0" opacity="0.9"/>
<circle cx="282.6" cy="66.0" r="0.92" fill="#b5b8cb" opacity="0.9"/>
<circle cx="310.7" cy="92.6" r="0.98" fill="#d2d5e0" opacity="0.9"/>
<circle cx="374.0" cy="18.5" r="0.63" fill="#b5b8cb" opacity="0.9"/>
<circle cx="292.5" cy="57.0" r="0.92" fill="#e0e2ea" opacity="0.9"/>
<circle cx="286.5" cy="61.8" r="0.59" fill="#d2d5e0" opacity="0.9"/>
<circle cx="334.7" cy="28.9" r="0.99" fill="#d2d5e0" opacity="0.9"/>
<circle cx="301.8" cy="63.9" r="0.64" fill="#adb0c4" opacity="0.9"/>
<circle cx="306.3" cy="73.1" r="0.61" fill="#b5b8cb" opacity="0.9"/>
<circle cx="291.4" cy="32.4" r="0.57" fill="#adb0c4" opacity="0.9"/>
<circle cx="356.8" cy="30.9" r="0.91" fill="#d2d5e0" opacity="0.9"/>
<circle cx="319.2" cy="55.0" r="0.70" fill="#d2d5e0" opacity="0.9"/>
<circle cx="377.7" cy="51.0" r="0.96" fill="#d2d5e0" opacity="0.9"/>
<circle cx="292.6" cy="90.3" r="0.67" fill="#adb0c4" opacity="0.9"/>
<circle cx="316.6" cy="38.7" r="0.57" fill="#d2d5e0" opacity="0.9"/>
<circle cx="388.8" cy="82.5" r="0.76" fill="#b5b8cb" opacity="0.9"/>
<circle cx="296.2" cy="31.2" r="0.67" fill="#b5b8cb" opacity="0.9"/>
<circle cx="303.0" cy="70.9" r="0.87" fill="#adb0c4" opacity="0.9"/>
<circle cx="280.1" cy="37.8" r="0.61" fill="#d2d5e0" opacity="0.9"/>
<circle cx="336.4" cy="43.1" r="0.62" fill="#d2d5e0" opacity="0.9"/>
<circle cx="368.5" cy="80.0" r="0.84" fill="#d8dbe6" opacity="0.9"/>
<circle cx="353.7" cy="87.8" r="0.83" fill="#d8dbe6" opacity="0.9"/>
<circle cx="339.0" cy="18.8" r="0.78" fill="#b5b8cb" opacity="0.9"/>
<circle cx="281.1" cy="67.3" r="0.93" fill="#adb0c4" opacity="0.9"/>
<circle cx="300.3" cy="95.5" r="0.88" fill="#d2d5e0" opacity="0.9"/>
<circle cx="325.2" cy="84.9" r="0.65" fill="#d8dbe6" opacity="0.9"/>
<circle cx="318.5" cy="79.4" r="0.89" fill="#b5b8cb" opacity="0.9"/>
<circle cx="306.8" cy="25.1" r="0.60" fill="#b5b8cb" opacity="0.9"/>
<circle cx="347.2" cy="71.5" r="0.64" fill="#d2d5e0" opacity="0.9"/>
<circle cx="343.4" cy="35.7" r="0.89" fill="#d8dbe6" opacity="0.9"/>
<circle cx="343.6" cy="45.0" r="0.59" fill="#e0e2ea" opacity="0.9"/>
<circle cx="311.7" cy="38.5" r="0.81" fill="#b5b8cb" opacity="0.9"/>
<circle cx="331.7" cy="31.4" r="0.94" fill="#d8dbe6" opacity="0.9"/>
<circle cx="336.7" cy="19.5" r="0.68" fill="#b5b8cb" opacity="0.9"/>
<circle cx="327.7" cy="61.3" r="0.86" fill="#b5b8cb" opacity="0.9"/>
<circle cx="326.8" cy="20.4" r="0.92" fill="#d8dbe6" opacity="0.9"/>
<circle cx="348.1" cy="83.9" r="0.51" fill="#d8dbe6" opacity="0.9"/>
<circle cx="363.5" cy="27.3" r="0.65" fill="#d8dbe6" opacity="0.9"/>
<circle cx="331.3" cy="29.6" r="0.95" fill="#adb0c4" opacity="0.9"/>
<circle cx="335.5" cy="40.6" r="0.59" fill="#e0e2ea" opacity="0.9"/>
<circle cx="291.3" cy="49.2" r="0.56" fill="#e0e2ea" opacity="0.9"/>
<circle cx="287.9" cy="42.9" r="0.62" fill="#d2d5e0" opacity="0.9"/>
<circle cx="365.6" cy="24.0" r="0.66" fill="#e0e2ea" opacity="0.9"/>
<circle cx="373.1" cy="90.7" r="0.88" fill="#b5b8cb" opacity="0.9"/>
<circle cx="336.8" cy="67.2" r="0.93" fill="#b5b8cb" opacity="0.9"/>
<circle cx="301.9" cy="24.8" r="0.94" fill="#d2d5e0" opacity="0.9"/>
<circle cx="373.1" cy="18.5" r="0.55" fill="#adb0c4" opacity="0.9"/>
<circle cx="354.6" cy="80.6" r="0.90" fill="#d2d5e0" opacity="0.9"/>
<circle cx="309.1" cy="28.6" r="0.88" fill="#d8dbe6" opacity="0.9"/>
<circle cx="315.5" cy="44.5" r="0.58" fill="#e0e2ea" opacity="0.9"/>
<circle cx="325.9" cy="82.0" r="0.67" fill="#d2d5e0" opacity="0.9"/>
<circle cx="355.0" cy="25.1" r="0.66" fill="#d8dbe6" opacity="0.9"/>
<circle cx="313.3" cy="72.5" r="0.70" fill="#d2d5e0" opacity="0.9"/>
<circle cx="360.9" cy="61.4" r="0.68" fill="#d2d5e0" opacity="0.9"/>
<circle cx="288.1" cy="22.6" r="0.93" fill="#d8dbe6" opacity="0.9"/>
<circle cx="353.2" cy="69.6" r="0.72" fill="#d8dbe6" opacity="0.9"/>
<circle cx="366.8" cy="59.3" r="0.78" fill="#b5b8cb" opacity="0.9"/>
<circle cx="293.1" cy="90.1" r="0.77" fill="#adb0c4" opacity="0.9"/>
<circle cx="379.6" cy="25.2" r="0.57" fill="#e0e2ea" opacity="0.9"/>
<circle cx="347.0" cy="81.5" r="0.85" fill="#adb0c4" opacity="0.9"/>
<circle cx="278.0" cy="17.9" r="0.62" fill="#adb0c4" opacity="0.9"/>
<circle cx="316.2" cy="87.4" r="0.57" fill="#b5b8cb" opacity="0.9"/>
<circle cx="372.4" cy="77.7" r="0.79" fill="#e0e2ea" opacity="0.9"/>
<circle cx="366.6" cy="17.4" r="0.92" fill="#adb0c4" opacity="0.9"/>
<circle cx="351.6" cy="41.3" r="0.87" fill="#e0e2ea" opacity="0.9"/>
<circle cx="380.1" cy="19.8" r="0.72" fill="#adb0c4" opacity="0.9"/>
<circle cx="352.1" cy="53.1" r="0.78" fill="#b5b8cb" opacity="0.9"/>
<circle cx="310.8" cy="69.1" r="0.86" fill="#e0e2ea" opacity="0.9"/>
<circle cx="336.6" cy="61.0" r="0.50" fill="#e0e2ea" opacity="0.9"/>
<circle cx="355.5" cy="82.9" r="0.69" fill="#d8dbe6" opacity="0.9"/>
<circle cx="347.9" cy="20.6" r="0.56" fill="#d8dbe6" opacity="0.9"/>
<circle cx="282.3" cy="49.0" r="0.62" fill="#e0e2ea" opacity="0.9"/>
<circle cx="347.8" cy="52.6" r="0.77" fill="#b5b8cb" opacity="0.9"/>
<circle cx="381.0" cy="63.4" r="0.77" fill="#b5b8cb" opacity="0.9"/>
<circle cx="312.6" cy="95.0" r="0.98" fill="#adb0c4" opacity="0.9"/>
<circle cx="368.6" cy="23.0" r="0.56" fill="#d2d5e0" opacity="0.9"/>
<circle cx="355.3" cy="60.4" r="0.96" fill="#adb0c4" opacity="0.9"/>
<circle cx="384.2" cy="34.7" r="0.61" fill="#d8dbe6" opacity="0.9"/>
<circle cx="319.0" cy="39.9" r="0.51" fill="#e0e2ea" opacity="0.9"/>
<circle cx="307.2" cy="70.9" r="0.78" fill="#b5b8cb" opacity="0.9"/>
<circle cx="357.1" cy="77.8" r="0.79" fill="#adb0c4" opacity="0.9"/>
<circle cx="327.1" cy="54.1" r="0.64" fill="#d8dbe6" opacity="0.9"/>
<circle cx="283.4" cy="92.8" r="0.66" fill="#b5b8cb" opacity="0.9"/>
<circle cx="374.8" cy="85.3" r="0.91" fill="#e0e2ea" opacity="0.9"/>
<circle cx="373.5" cy="35.5" r="0.68" fill="#b5b8cb" opacity="0.9"/>
<circle cx="387.2" cy="25.9" r="0.50" fill="#d2d5e0" opacity="0.9"/>
<circle cx="379.1" cy="48.0" r="0.88" fill="#d2d5e0" opacity="0.9"/>
<circle cx="310.6" cy="74.4" r="0.91" fill="#adb0c4" opacity="0.9"/>
<circle cx="292.6" cy="94.3" r="0.79" fill="#d8dbe6" opacity="0.9"/>
<circle cx="326.0" cy="95.6" r="0.66" fill="#adb0c4" opacity="0.9"/>
<circle cx="381.6" cy="25.3" r="0.69" fill="#e0e2ea" opacity="0.9"/>
<circle cx="334.6" cy="93.6" r="0.63" fill="#d8dbe6" opacity="0.9"/>
<circle cx="280.8" cy="59.7" r="0.85" fill="#d2d5e0" opacity="0.9"/>
<circle cx="280.5" cy="61.5" r="0.85" fill="#e0e2ea" opacity="0.9"/>
<circle cx="374.6" cy="37.5" r="0.91" fill="#d8dbe6" opacity="0.9"/>
<circle cx="312.5" cy="19.0" r="0.65" fill="#d8dbe6" opacity="0.9"/>
<circle cx="315.0" cy="63.5" r="0.62" fill="#b5b8cb" opacity="0.9"/>
<circle cx="348.3" cy="24.6" r="0.96" fill="#d8dbe6" opacity="0.9"/>
<circle cx="334.3" cy="37.4" r="0.55" fill="#d8dbe6" opacity="0.9"/>
<circle cx="358.8" cy="79.7" r="0.92" fill="#e0e2ea" opacity="0.9"/>
<circle cx="365.0" cy="94.6" r="0.96" fill="#b5b8cb" opacity="0.9"/>
<circle cx="366.7" cy="91.8" r="0.67" fill="#e0e2ea" opacity="0.9"/>
<circle cx="350.4" cy="84.4" r="0.70" fill="#b5b8cb" opacity="0.9"/>
<circle cx="339.2" cy="82.5" r="0.54" fill="#d8dbe6" opacity="0.9"/>
<circle cx="335.5" cy="85.6" r="0.53" fill="#e0e2ea" opacity="0.9"/>
<circle cx="312.2" cy="49.7" r="0.92" fill="#d2d5e0" opacity="0.9"/>
<circle cx="322.2" cy="17.2" r="0.55" fill="#b5b8cb" opacity="0.9"/>
<circle cx="287.4" cy="37.4" r="0.90" fill="#adb0c4" opacity="0.9"/>
<circle cx="355.6" cy="95.8" r="0.51" fill="#d2d5e0" opacity="0.9"/>
<circle cx="309.4" cy="21.8" r="0.63" fill="#adb0c4" opacity="0.9"/>
<path d="M340.8,95.5 q-3.5,-5.1 4.7,-9.4" stroke="#b98a5a" stroke-width="0.35" fill="none" opacity="0.45"/>
<path d="M298.1,52.1 q5.8,-2.1 -4.4,-0.6" stroke="#b98a5a" stroke-width="0.35" fill="none" opacity="0.45"/>
<path d="M291.0,49.2 q2.4,-2.1 7.1,-7.6" stroke="#b98a5a" stroke-width="0.35" fill="none" opacity="0.45"/>
<path d="M283.9,67.2 q-0.6,5.0 -9.5,5.9" stroke="#b98a5a" stroke-width="0.35" fill="none" opacity="0.45"/>
<path d="M350.4,46.6 q-4.5,1.3 6.2,-0.7" stroke="#b98a5a" stroke-width="0.35" fill="none" opacity="0.45"/>
<path d="M327.3,71.9 q1.3,-0.9 -7.5,-0.9" stroke="#b98a5a" stroke-width="0.35" fill="none" opacity="0.45"/>
<path d="M336.3,88.7 q5.9,0.7 -4.1,-6.7" stroke="#b98a5a" stroke-width="0.35" fill="none" opacity="0.45"/>
<path d="M345.8,76.1 q-3.0,2.3 12.0,-2.6" stroke="#b98a5a" stroke-width="0.35" fill="none" opacity="0.45"/>
<path d="M381.8,51.9 q1.8,4.4 -7.1,-3.7" stroke="#b98a5a" stroke-width="0.35" fill="none" opacity="0.45"/>
<path d="M387.1,22.2 q-2.3,-0.3 5.9,3.1" stroke="#b98a5a" stroke-width="0.35" fill="none" opacity="0.45"/>
<path d="M380.8,70.6 q-6.0,-5.1 -11.1,-1.6" stroke="#b98a5a" stroke-width="0.35" fill="none" opacity="0.45"/>
<path d="M275.2,59.1 q1.6,-3.6 8.5,-2.1" stroke="#b98a5a" stroke-width="0.35" fill="none" opacity="0.45"/>
<path d="M384.3,45.6 q1.4,0.5 -5.7,6.7" stroke="#b98a5a" stroke-width="0.35" fill="none" opacity="0.45"/>
<path d="M272.5,37.0 q-2.2,4.6 0.0,-11.1" stroke="#b98a5a" stroke-width="0.35" fill="none" opacity="0.45"/>
<path d="M307.0,65.8 q3.7,-4.7 6.7,-2.6" stroke="#b98a5a" stroke-width="0.35" fill="none" opacity="0.45"/>
<path d="M333.3,50.7 q-0.7,5.9 10.1,10.0" stroke="#b98a5a" stroke-width="0.35" fill="none" opacity="0.45"/>
<path d="M358.1,73.0 q-4.3,-5.6 7.9,4.2" stroke="#b98a5a" stroke-width="0.35" fill="none" opacity="0.45"/>
<path d="M345.8,42.0 q-2.8,5.1 0.8,-11.5" stroke="#b98a5a" stroke-width="0.35" fill="none" opacity="0.45"/>
<ellipse cx="324.6" cy="88" rx="10.5" ry="10" fill="#e6eee9"/>
<ellipse cx="352.2" cy="80" rx="9.5" ry="9.5" fill="#e4ece8"/>
<ellipse cx="282.3" cy="59.2" rx="3.8" ry="3" fill="#e2e6ec"/>
<ellipse cx="376" cy="56" rx="5" ry="4" fill="#d8dce6" opacity="0.8"/>
<ellipse cx="338.4" cy="39.4" rx="1.5" ry="2.2" fill="#eef0f2"/>
<ellipse cx="331" cy="58" rx="6" ry="5" fill="#d3d6e0" opacity="0.7"/>
<path d="M330,73 Q320,68 312,62" stroke="#d8dbe4" stroke-width="2" fill="none" opacity="0.7"/>
<path d="M341.5,31 L344.5,35 L348.5,46 L347,49 L339.5,49 L339,42 Z" fill="#93572c"/>
<path d="M336,54 L340,56 L342,62 L338,64 L334.5,60 Z" fill="#a2703f"/>
<path d="M327,75 L333,70.5 L338,66 L341,71 L340,80 L336.5,84 L331,79.5 Z" fill="#98602f"/>
<path d="M322,47 L326.5,46 L327.5,51.5 L323,51.5 Z" fill="#ad7d4c" opacity="0.8"/>
<ellipse cx="328.9" cy="29.1" rx="1.6" ry="2.2" fill="#5a5a9c"/>
<ellipse cx="380.6" cy="25.6" rx="3.2" ry="1.6" fill="#7476b0"/>
<ellipse cx="282.3" cy="59.2" rx="1.7" ry="1.2" fill="#5c5e9e"/>
<ellipse cx="327.2" cy="63.5" rx="2.8" ry="2.2" fill="#7b7cb4"/>
<ellipse cx="366" cy="59.2" rx="2.4" ry="2.2" fill="#9095c4"/>
<ellipse cx="380.6" cy="55.8" rx="2.2" ry="2.2" fill="#5456a0"/>
<ellipse cx="359" cy="67.8" rx="2.3" ry="2" fill="#8086bd"/>
<ellipse cx="285.8" cy="80.8" rx="2.6" ry="2.3" fill="#8489bd"/>
<ellipse cx="294" cy="77.3" rx="2" ry="2" fill="#7075b0"/>
<ellipse cx="372.8" cy="77.3" rx="1" ry="2.4" fill="#4a4c96"/>
<ellipse cx="335.8" cy="77.3" rx="2.2" ry="2.4" fill="#5b5896"/>
<ellipse cx="342.7" cy="42" rx="1.8" ry="2.6" fill="#6a6aa8"/>
<ellipse cx="337" cy="60" rx="1.6" ry="2" fill="#7b7cb4"/>
</g></g>
<polygon points="352,42 370,34 370,51.6" fill="#111"/>
<line x1="340.60" y1="92.90" x2="386.80" y2="92.90" stroke="#111" stroke-width="1.6" />
<text font-size="14.1" fill="#000" transform="translate(5.14 133.60) scale(0.828 1)">B</text>
<text x="58.90" y="155.00" font-size="10.3" text-anchor="middle" fill="#231f20" >WT/WT</text>
<text x="112.50" y="155.00" font-size="10.3" text-anchor="middle" fill="#231f20" >WT/mUbL</text>
<line x1="41.40" y1="162.00" x2="82.00" y2="162.00" stroke="#444" stroke-width="1.5" />
<line x1="94.00" y1="162.00" x2="135.00" y2="162.00" stroke="#444" stroke-width="1.5" />
<text x="45.60" y="226.30" font-size="9.9" fill="#231f20" transform="rotate(-60 45.60 226.30)">Brain</text>
<text x="59.60" y="226.30" font-size="9.9" fill="#231f20" transform="rotate(-60 59.60 226.30)">Spinal cord</text>
<text x="72.60" y="226.30" font-size="9.9" fill="#231f20" transform="rotate(-60 72.60 226.30)">Liver</text>
<text x="86.60" y="226.30" font-size="9.9" fill="#231f20" transform="rotate(-60 86.60 226.30)">Brain</text>
<text x="101.60" y="226.30" font-size="9.9" fill="#231f20" transform="rotate(-60 101.60 226.30)">Spinal cord</text>
<text x="114.60" y="226.30" font-size="9.9" fill="#231f20" transform="rotate(-60 114.60 226.30)">Liver</text>
<text x="174.00" y="154.40" font-size="10.3" text-anchor="middle" fill="#231f20" >WT/WT</text>
<text x="227.50" y="154.40" font-size="10.3" text-anchor="middle" fill="#231f20" >WT/mUbL</text>
<line x1="156.00" y1="161.40" x2="196.40" y2="161.40" stroke="#444" stroke-width="1.5" />
<line x1="208.40" y1="161.40" x2="249.00" y2="161.40" stroke="#444" stroke-width="1.5" />
<text x="161.00" y="224.60" font-size="9.9" fill="#231f20" transform="rotate(-60 161.00 224.60)">Spinal cord</text>
<text x="177.00" y="224.60" font-size="9.9" fill="#231f20" transform="rotate(-60 177.00 224.60)">Spinal cord</text>
<text x="206.00" y="224.60" font-size="9.9" fill="#231f20" transform="rotate(-60 206.00 224.60)">Spinal cord</text>
<text x="224.00" y="224.60" font-size="9.9" fill="#231f20" transform="rotate(-60 224.00 224.60)">Spinal cord</text>
<rect x="28.9" y="228.9" width="90.2" height="28" fill="#f2f2f5" stroke="#333" stroke-width="1.1"/>
<defs><filter id="bl1" x="-50%" y="-50%" width="200%" height="200%"><feGaussianBlur stdDeviation="0.8"/></filter><filter id="bl2" x="-50%" y="-50%" width="200%" height="200%"><feGaussianBlur stdDeviation="0.5"/></filter></defs>
<ellipse cx="86.7" cy="244.3" rx="6" ry="3.8" fill="#050505" filter="url(#bl2)"/>
<rect x="82" y="241.5" width="10" height="5.5" rx="2" fill="#000"/>
<ellipse cx="100" cy="245" rx="4" ry="1.6" fill="#cfcfd6" filter="url(#bl1)"/>
<circle cx="114" cy="238" r="0.6" fill="#999"/>
<text x="26.40" y="236.00" font-size="9.4" text-anchor="end" fill="#231f20" >kDa</text>
<text x="26.20" y="250.00" font-size="9.6" text-anchor="end" fill="#231f20" >50</text>
<defs><linearGradient id="lane" x1="0" y1="0" x2="0" y2="1"><stop offset="0" stop-color="#d8d8d8"/><stop offset="0.45" stop-color="#cdcdcd"/><stop offset="0.75" stop-color="#bdbdbd"/><stop offset="1" stop-color="#a6a6a6"/></linearGradient></defs>
<rect x="30.5" y="266.9" width="88.6" height="69.5" fill="#f6f6f6" stroke="#3a3a3a" stroke-width="1.2"/>
<g filter="url(#fb7)">
<rect x="35.5" y="267.6" width="10.299999999999997" height="68.2" fill="url(#lane)"/>
<rect x="35.5" y="290.8" width="10.299999999999997" height="0.5" fill="#b0b0b0" opacity="0.30"/>
<rect x="35.5" y="272.9" width="10.299999999999997" height="0.9" fill="#8f8f8f" opacity="0.12"/>
<rect x="35.5" y="296.0" width="10.299999999999997" height="0.9" fill="#9a9a9a" opacity="0.23"/>
<rect x="35.5" y="324.1" width="10.299999999999997" height="0.9" fill="#9a9a9a" opacity="0.15"/>
<rect x="35.5" y="268.9" width="10.299999999999997" height="0.9" fill="#9a9a9a" opacity="0.24"/>
<rect x="35.5" y="310.1" width="10.299999999999997" height="0.7" fill="#a5a5a5" opacity="0.17"/>
<rect x="35.5" y="314.0" width="10.299999999999997" height="0.8" fill="#9a9a9a" opacity="0.24"/>
<rect x="35.5" y="314.5" width="10.299999999999997" height="1.0" fill="#a5a5a5" opacity="0.30"/>
<rect x="35.5" y="330.1" width="10.299999999999997" height="0.5" fill="#9a9a9a" opacity="0.29"/>
<rect x="35.5" y="283.2" width="10.299999999999997" height="1.0" fill="#b0b0b0" opacity="0.21"/>
<rect x="35.5" y="325.6" width="10.299999999999997" height="0.7" fill="#b0b0b0" opacity="0.15"/>
<rect x="35.5" y="334.8" width="10.299999999999997" height="0.6" fill="#8f8f8f" opacity="0.19"/>
<rect x="35.5" y="268.5" width="10.299999999999997" height="0.7" fill="#a5a5a5" opacity="0.22"/>
<rect x="35.5" y="317.9" width="10.299999999999997" height="0.7" fill="#a5a5a5" opacity="0.32"/>
<rect x="35.5" y="317.4" width="10.299999999999997" height="0.7" fill="#a5a5a5" opacity="0.25"/>
<rect x="35.5" y="273.1" width="10.299999999999997" height="0.6" fill="#9a9a9a" opacity="0.24"/>
<rect x="35.5" y="271.65" width="10.299999999999997" height="1.3" fill="#7a7a7a"/>
<rect x="35.5" y="294.85" width="10.299999999999997" height="1.5" fill="#5a5a5a"/>
<rect x="47.2" y="267.6" width="8.899999999999999" height="68.2" fill="url(#lane)"/>
<rect x="47.2" y="300.6" width="8.899999999999999" height="0.9" fill="#9a9a9a" opacity="0.26"/>
<rect x="47.2" y="281.8" width="8.899999999999999" height="0.9" fill="#a5a5a5" opacity="0.26"/>
<rect x="47.2" y="283.2" width="8.899999999999999" height="0.7" fill="#8f8f8f" opacity="0.18"/>
<rect x="47.2" y="278.0" width="8.899999999999999" height="0.8" fill="#b0b0b0" opacity="0.33"/>
<rect x="47.2" y="279.5" width="8.899999999999999" height="1.0" fill="#b0b0b0" opacity="0.23"/>
<rect x="47.2" y="325.4" width="8.899999999999999" height="0.8" fill="#a5a5a5" opacity="0.23"/>
<rect x="47.2" y="328.9" width="8.899999999999999" height="0.8" fill="#b0b0b0" opacity="0.29"/>
<rect x="47.2" y="304.3" width="8.899999999999999" height="0.5" fill="#a5a5a5" opacity="0.35"/>
<rect x="47.2" y="317.2" width="8.899999999999999" height="0.9" fill="#a5a5a5" opacity="0.16"/>
<rect x="47.2" y="278.7" width="8.899999999999999" height="0.7" fill="#b0b0b0" opacity="0.31"/>
<rect x="47.2" y="300.4" width="8.899999999999999" height="0.8" fill="#b0b0b0" opacity="0.32"/>
<rect x="47.2" y="277.0" width="8.899999999999999" height="0.7" fill="#b0b0b0" opacity="0.19"/>
<rect x="47.2" y="269.3" width="8.899999999999999" height="0.9" fill="#b0b0b0" opacity="0.23"/>
<rect x="47.2" y="268.2" width="8.899999999999999" height="0.5" fill="#a5a5a5" opacity="0.23"/>
<rect x="47.2" y="312.0" width="8.899999999999999" height="0.9" fill="#8f8f8f" opacity="0.15"/>
<rect x="47.2" y="301.6" width="8.899999999999999" height="0.5" fill="#9a9a9a" opacity="0.16"/>
<rect x="47.2" y="267.6" width="8.899999999999999" height="68.2" fill="#f4f4f4" opacity="0.2"/>
<rect x="47.2" y="297.35" width="8.899999999999999" height="1.3" fill="#6a6a6a"/>
<rect x="57.5" y="267.6" width="11.0" height="68.2" fill="url(#lane)"/>
<rect x="57.5" y="304.3" width="11.0" height="0.8" fill="#a5a5a5" opacity="0.26"/>
<rect x="57.5" y="293.3" width="11.0" height="0.8" fill="#9a9a9a" opacity="0.17"/>
<rect x="57.5" y="306.5" width="11.0" height="0.5" fill="#b0b0b0" opacity="0.30"/>
<rect x="57.5" y="279.5" width="11.0" height="0.6" fill="#b0b0b0" opacity="0.25"/>
<rect x="57.5" y="333.0" width="11.0" height="0.6" fill="#8f8f8f" opacity="0.17"/>
<rect x="57.5" y="295.1" width="11.0" height="0.8" fill="#9a9a9a" opacity="0.17"/>
<rect x="57.5" y="293.6" width="11.0" height="0.7" fill="#9a9a9a" opacity="0.24"/>
<rect x="57.5" y="278.9" width="11.0" height="0.6" fill="#b0b0b0" opacity="0.27"/>
<rect x="57.5" y="277.5" width="11.0" height="0.7" fill="#a5a5a5" opacity="0.34"/>
<rect x="57.5" y="281.9" width="11.0" height="0.6" fill="#a5a5a5" opacity="0.14"/>
<rect x="57.5" y="291.5" width="11.0" height="0.8" fill="#b0b0b0" opacity="0.14"/>
<rect x="57.5" y="282.7" width="11.0" height="0.5" fill="#9a9a9a" opacity="0.14"/>
<rect x="57.5" y="305.9" width="11.0" height="0.6" fill="#9a9a9a" opacity="0.21"/>
<rect x="57.5" y="330.7" width="11.0" height="0.8" fill="#8f8f8f" opacity="0.20"/>
<rect x="57.5" y="331.4" width="11.0" height="0.8" fill="#8f8f8f" opacity="0.25"/>
<rect x="57.5" y="334.8" width="11.0" height="0.9" fill="#a5a5a5" opacity="0.24"/>
<rect x="57.5" y="282.95" width="11.0" height="1.5" fill="#5a5a5a"/>
<rect x="57.5" y="298.05" width="11.0" height="1.5" fill="#5a5a5a"/>
<rect x="80.8" y="267.6" width="11.0" height="68.2" fill="url(#lane)"/>
<rect x="80.8" y="316.0" width="11.0" height="1.0" fill="#9a9a9a" opacity="0.29"/>
<rect x="80.8" y="282.5" width="11.0" height="0.7" fill="#8f8f8f" opacity="0.17"/>
<rect x="80.8" y="320.4" width="11.0" height="0.9" fill="#a5a5a5" opacity="0.14"/>
<rect x="80.8" y="320.7" width="11.0" height="0.9" fill="#8f8f8f" opacity="0.29"/>
<rect x="80.8" y="334.3" width="11.0" height="0.9" fill="#8f8f8f" opacity="0.18"/>
<rect x="80.8" y="312.8" width="11.0" height="0.8" fill="#8f8f8f" opacity="0.13"/>
<rect x="80.8" y="301.3" width="11.0" height="0.8" fill="#9a9a9a" opacity="0.16"/>
<rect x="80.8" y="323.9" width="11.0" height="0.6" fill="#b0b0b0" opacity="0.23"/>
<rect x="80.8" y="272.7" width="11.0" height="0.7" fill="#a5a5a5" opacity="0.34"/>
<rect x="80.8" y="300.0" width="11.0" height="0.8" fill="#b0b0b0" opacity="0.21"/>
<rect x="80.8" y="276.9" width="11.0" height="0.8" fill="#9a9a9a" opacity="0.14"/>
<rect x="80.8" y="292.6" width="11.0" height="0.7" fill="#a5a5a5" opacity="0.19"/>
<rect x="80.8" y="317.7" width="11.0" height="0.8" fill="#8f8f8f" opacity="0.31"/>
<rect x="80.8" y="278.0" width="11.0" height="1.0" fill="#a5a5a5" opacity="0.17"/>
<rect x="80.8" y="290.2" width="11.0" height="1.0" fill="#a5a5a5" opacity="0.22"/>
<rect x="80.8" y="306.6" width="11.0" height="0.8" fill="#9a9a9a" opacity="0.26"/>
<rect x="80.8" y="298.55" width="11.0" height="1.5" fill="#5a5a5a"/>
<rect x="80.8" y="273.20" width="11.0" height="1.0" fill="#a8a8a8"/>
<rect x="93.9" y="267.6" width="10.299999999999997" height="68.2" fill="url(#lane)"/>
<rect x="93.9" y="323.5" width="10.299999999999997" height="0.8" fill="#b0b0b0" opacity="0.29"/>
<rect x="93.9" y="277.6" width="10.299999999999997" height="1.0" fill="#9a9a9a" opacity="0.19"/>
<rect x="93.9" y="295.9" width="10.299999999999997" height="0.6" fill="#8f8f8f" opacity="0.33"/>
<rect x="93.9" y="292.7" width="10.299999999999997" height="0.8" fill="#b0b0b0" opacity="0.17"/>
<rect x="93.9" y="300.5" width="10.299999999999997" height="0.7" fill="#a5a5a5" opacity="0.35"/>
<rect x="93.9" y="275.7" width="10.299999999999997" height="0.7" fill="#a5a5a5" opacity="0.32"/>
<rect x="93.9" y="334.4" width="10.299999999999997" height="0.9" fill="#b0b0b0" opacity="0.15"/>
<rect x="93.9" y="327.6" width="10.299999999999997" height="0.7" fill="#b0b0b0" opacity="0.17"/>
<rect x="93.9" y="273.3" width="10.299999999999997" height="0.7" fill="#8f8f8f" opacity="0.32"/>
<rect x="93.9" y="329.1" width="10.299999999999997" height="0.5" fill="#a5a5a5" opacity="0.16"/>
<rect x="93.9" y="326.6" width="10.299999999999997" height="0.9" fill="#8f8f8f" opacity="0.15"/>
<rect x="93.9" y="300.2" width="10.299999999999997" height="0.5" fill="#8f8f8f" opacity="0.21"/>
<rect x="93.9" y="316.4" width="10.299999999999997" height="0.8" fill="#a5a5a5" opacity="0.26"/>
<rect x="93.9" y="325.7" width="10.299999999999997" height="0.8" fill="#b0b0b0" opacity="0.13"/>
<rect x="93.9" y="326.4" width="10.299999999999997" height="1.0" fill="#a5a5a5" opacity="0.27"/>
<rect x="93.9" y="309.3" width="10.299999999999997" height="0.6" fill="#8f8f8f" opacity="0.12"/>
<rect x="93.9" y="267.6" width="10.299999999999997" height="68.2" fill="#f4f4f4" opacity="0.25"/>
<rect x="93.9" y="299.50" width="10.299999999999997" height="1.2" fill="#6a6a6a"/>
<rect x="93.9" y="273.20" width="10.299999999999997" height="1.0" fill="#b0b0b0"/>
<rect x="106.2" y="267.6" width="11.0" height="68.2" fill="url(#lane)"/>
<rect x="106.2" y="282.0" width="11.0" height="0.7" fill="#b0b0b0" opacity="0.31"/>
<rect x="106.2" y="330.9" width="11.0" height="1.0" fill="#b0b0b0" opacity="0.14"/>
<rect x="106.2" y="294.0" width="11.0" height="0.6" fill="#8f8f8f" opacity="0.30"/>
<rect x="106.2" y="326.5" width="11.0" height="0.6" fill="#9a9a9a" opacity="0.24"/>
<rect x="106.2" y="332.8" width="11.0" height="0.6" fill="#8f8f8f" opacity="0.19"/>
<rect x="106.2" y="289.7" width="11.0" height="0.9" fill="#8f8f8f" opacity="0.16"/>
<rect x="106.2" y="286.7" width="11.0" height="0.5" fill="#8f8f8f" opacity="0.26"/>
<rect x="106.2" y="274.4" width="11.0" height="0.7" fill="#9a9a9a" opacity="0.33"/>
<rect x="106.2" y="283.0" width="11.0" height="0.6" fill="#9a9a9a" opacity="0.13"/>
<rect x="106.2" y="273.8" width="11.0" height="0.9" fill="#9a9a9a" opacity="0.34"/>
<rect x="106.2" y="302.9" width="11.0" height="0.9" fill="#9a9a9a" opacity="0.13"/>
<rect x="106.2" y="302.6" width="11.0" height="0.7" fill="#9a9a9a" opacity="0.29"/>
<rect x="106.2" y="324.0" width="11.0" height="0.9" fill="#9a9a9a" opacity="0.28"/>
<rect x="106.2" y="276.1" width="11.0" height="0.7" fill="#9a9a9a" opacity="0.17"/>
<rect x="106.2" y="307.9" width="11.0" height="1.0" fill="#9a9a9a" opacity="0.32"/>
<rect x="106.2" y="276.3" width="11.0" height="1.0" fill="#8f8f8f" opacity="0.18"/>
<rect x="106.2" y="267.6" width="11.0" height="68.2" fill="#f4f4f4" opacity="0.08"/>
<rect x="106.2" y="283.90" width="11.0" height="1.4" fill="#666"/>
<rect x="106.2" y="299.45" width="11.0" height="1.3" fill="#666"/>
</g>
<rect x="30.5" y="266.9" width="88.6" height="69.5" fill="none" stroke="#3a3a3a" stroke-width="1.2"/>
<rect x="148.5" y="227.9" width="82" height="28.2" fill="#e8e7f0" stroke="#333" stroke-width="1.1"/>
<ellipse cx="205.5" cy="242.6" rx="5.5" ry="1.2" fill="#555" filter="url(#bl2)"/>
<path d="M214,242 Q221,240 228,241.5 L228,244 Q222,246.5 216,244 Z" fill="#0a0a0a" filter="url(#bl2)"/>
<circle cx="224" cy="253" r="0.5" fill="#999"/>
<text x="145.40" y="231.00" font-size="9.4" text-anchor="end" fill="#231f20" >kDa</text>
<text x="145.20" y="246.00" font-size="9.6" text-anchor="end" fill="#231f20" >50</text>
<text x="234.20" y="238.00" font-size="9.8" text-anchor="start" fill="#231f20" >IB:</text>
<text x="234.20" y="251.00" font-size="10.2" text-anchor="start" fill="#231f20" >6xHis</text>
<rect x="149.9" y="266.1" width="79" height="71" fill="#f5f5f5" stroke="#3a3a3a" stroke-width="1.2"/>
<g filter="url(#fb12)">
<rect x="157" y="267" width="11" height="69.5" fill="#e8e8e8"/>
<rect x="157" y="300.8" width="11" height="0.7" fill="#a8a8a8" opacity="0.32"/>
<rect x="157" y="268.3" width="11" height="0.6" fill="#a8a8a8" opacity="0.34"/>
<rect x="157" y="314.2" width="11" height="1.2" fill="#a8a8a8" opacity="0.17"/>
<rect x="157" y="279.8" width="11" height="0.9" fill="#a8a8a8" opacity="0.20"/>
<rect x="157" y="329.4" width="11" height="0.6" fill="#a8a8a8" opacity="0.23"/>
<rect x="157" y="284.0" width="11" height="1.2" fill="#a8a8a8" opacity="0.36"/>
<rect x="157" y="280.2" width="11" height="0.6" fill="#a8a8a8" opacity="0.26"/>
<rect x="157" y="302.0" width="11" height="0.5" fill="#a8a8a8" opacity="0.18"/>
<rect x="157" y="280.0" width="11" height="0.5" fill="#a8a8a8" opacity="0.34"/>
<rect x="157" y="287.3" width="11" height="1.0" fill="#a8a8a8" opacity="0.24"/>
<rect x="157" y="294.7" width="11" height="0.8" fill="#a8a8a8" opacity="0.16"/>
<rect x="157" y="329.0" width="11" height="0.5" fill="#a8a8a8" opacity="0.26"/>
<rect x="157" y="271.9" width="11" height="1.0" fill="#a8a8a8" opacity="0.27"/>
<rect x="157" y="293.5" width="11" height="0.9" fill="#a8a8a8" opacity="0.26"/>
<rect x="157" y="295.30" width="11" height="1.4" fill="#c4c4c4"/>
<rect x="157" y="300.30" width="11" height="1.4" fill="#b8b8b8"/>
<rect x="171" y="267" width="12" height="69.5" fill="#d6d6d6"/>
<rect x="171" y="271.5" width="12" height="1.1" fill="#a8a8a8" opacity="0.30"/>
<rect x="171" y="268.8" width="12" height="0.6" fill="#a8a8a8" opacity="0.37"/>
<rect x="171" y="285.5" width="12" height="0.9" fill="#a8a8a8" opacity="0.27"/>
<rect x="171" y="326.0" width="12" height="1.1" fill="#a8a8a8" opacity="0.17"/>
<rect x="171" y="275.7" width="12" height="0.6" fill="#a8a8a8" opacity="0.16"/>
<rect x="171" y="326.1" width="12" height="0.8" fill="#a8a8a8" opacity="0.35"/>
<rect x="171" y="284.1" width="12" height="0.7" fill="#a8a8a8" opacity="0.18"/>
<rect x="171" y="288.2" width="12" height="1.0" fill="#a8a8a8" opacity="0.24"/>
<rect x="171" y="288.7" width="12" height="0.9" fill="#a8a8a8" opacity="0.31"/>
<rect x="171" y="269.7" width="12" height="1.1" fill="#a8a8a8" opacity="0.22"/>
<rect x="171" y="309.3" width="12" height="0.7" fill="#a8a8a8" opacity="0.22"/>
<rect x="171" y="293.3" width="12" height="0.7" fill="#a8a8a8" opacity="0.17"/>
<rect x="171" y="298.8" width="12" height="1.1" fill="#a8a8a8" opacity="0.18"/>
<rect x="171" y="302.6" width="12" height="1.1" fill="#a8a8a8" opacity="0.23"/>
<rect x="171" y="295.10" width="12" height="1.8" fill="#8c8c8c"/>
<rect x="171" y="300.50" width="12" height="2.0" fill="#7a7a7a"/>
<rect x="171" y="315.20" width="12" height="1.6" fill="#9a9a9a"/>
<rect x="171" y="271.40" width="12" height="1.2" fill="#b0b0b0"/>
<rect x="199" y="267" width="11" height="69.5" fill="#e9e9e9"/>
<rect x="199" y="311.3" width="11" height="0.8" fill="#a8a8a8" opacity="0.27"/>
<rect x="199" y="315.0" width="11" height="0.8" fill="#a8a8a8" opacity="0.15"/>
<rect x="199" y="291.6" width="11" height="0.5" fill="#a8a8a8" opacity="0.16"/>
<rect x="199" y="331.4" width="11" height="0.8" fill="#a8a8a8" opacity="0.23"/>
<rect x="199" y="332.3" width="11" height="0.6" fill="#a8a8a8" opacity="0.15"/>
<rect x="199" y="304.7" width="11" height="0.8" fill="#a8a8a8" opacity="0.21"/>
<rect x="199" y="278.7" width="11" height="0.8" fill="#a8a8a8" opacity="0.24"/>
<rect x="199" y="293.5" width="11" height="0.6" fill="#a8a8a8" opacity="0.31"/>
<rect x="199" y="270.9" width="11" height="0.8" fill="#a8a8a8" opacity="0.28"/>
<rect x="199" y="269.2" width="11" height="0.6" fill="#a8a8a8" opacity="0.24"/>
<rect x="199" y="313.5" width="11" height="0.6" fill="#a8a8a8" opacity="0.34"/>
<rect x="199" y="280.9" width="11" height="1.1" fill="#a8a8a8" opacity="0.40"/>
<rect x="199" y="329.2" width="11" height="1.2" fill="#a8a8a8" opacity="0.39"/>
<rect x="199" y="286.0" width="11" height="1.2" fill="#a8a8a8" opacity="0.25"/>
<rect x="199" y="295.30" width="11" height="1.4" fill="#c6c6c6"/>
<rect x="199" y="299.40" width="11" height="1.2" fill="#c0c0c0"/>
<rect x="214" y="267" width="13" height="69.5" fill="#d3d3d3"/>
<rect x="214" y="313.2" width="13" height="0.6" fill="#a8a8a8" opacity="0.30"/>
<rect x="214" y="292.1" width="13" height="0.6" fill="#a8a8a8" opacity="0.38"/>
<rect x="214" y="324.7" width="13" height="1.0" fill="#a8a8a8" opacity="0.26"/>
<rect x="214" y="331.0" width="13" height="0.9" fill="#a8a8a8" opacity="0.23"/>
<rect x="214" y="318.5" width="13" height="1.1" fill="#a8a8a8" opacity="0.37"/>
<rect x="214" y="315.6" width="13" height="1.1" fill="#a8a8a8" opacity="0.36"/>
<rect x="214" y="282.5" width="13" height="0.6" fill="#a8a8a8" opacity="0.18"/>
<rect x="214" y="320.7" width="13" height="0.9" fill="#a8a8a8" opacity="0.24"/>
<rect x="214" y="292.1" width="13" height="1.2" fill="#a8a8a8" opacity="0.23"/>
<rect x="214" y="328.7" width="13" height="1.1" fill="#a8a8a8" opacity="0.36"/>
<rect x="214" y="316.9" width="13" height="0.6" fill="#a8a8a8" opacity="0.29"/>
<rect x="214" y="285.1" width="13" height="0.7" fill="#a8a8a8" opacity="0.21"/>
<rect x="214" y="305.8" width="13" height="1.1" fill="#a8a8a8" opacity="0.23"/>
<rect x="214" y="304.1" width="13" height="0.6" fill="#a8a8a8" opacity="0.22"/>
<rect x="214" y="291.90" width="13" height="2.2" fill="#8a8a8a"/>
<rect x="214" y="298.90" width="13" height="2.2" fill="#888"/>
<rect x="214" y="279.20" width="13" height="1.6" fill="#ababab"/>
<rect x="214" y="309.20" width="13" height="1.6" fill="#acacac"/>
</g>
<rect x="149.9" y="266.1" width="79" height="71" fill="none" stroke="#3a3a3a" stroke-width="1.2"/>
<text font-size="14.0" fill="#000" transform="translate(268.49 133.50) scale(0.848 1)">C</text>
<line x1="317.00" y1="158.60" x2="317.00" y2="237.40" stroke="#231f20" stroke-width="1.3" />
<line x1="317.00" y1="237.40" x2="364.40" y2="237.40" stroke="#231f20" stroke-width="1.3" />
<line x1="312.40" y1="159.00" x2="317.00" y2="159.00" stroke="#231f20" stroke-width="1.2" />
<text x="309.30" y="162.70" font-size="10.4" text-anchor="end" fill="#231f20" >0.2</text>
<line x1="312.40" y1="198.00" x2="317.00" y2="198.00" stroke="#231f20" stroke-width="1.2" />
<text x="309.30" y="201.70" font-size="10.4" text-anchor="end" fill="#231f20" >0.1</text>
<line x1="312.40" y1="237.40" x2="317.00" y2="237.40" stroke="#231f20" stroke-width="1.2" />
<text x="309.30" y="241.10" font-size="10.4" text-anchor="end" fill="#231f20" >0.0</text>
<line x1="330.60" y1="237.40" x2="330.60" y2="241.50" stroke="#231f20" stroke-width="1.2" />
<line x1="350.00" y1="237.40" x2="350.00" y2="241.50" stroke="#231f20" stroke-width="1.2" />
<rect x="324.6" y="175.4" width="12.4" height="62" fill="#d3d3d3" stroke="#111" stroke-width="1"/>
<rect x="343.6" y="235.4" width="13.4" height="2" fill="#d3d3d3" stroke="#111" stroke-width="1"/>
<line x1="330.60" y1="161.00" x2="330.60" y2="189.00" stroke="#111" stroke-width="0.9" />
<line x1="327.60" y1="161.00" x2="333.60" y2="161.00" stroke="#111" stroke-width="0.9" />
<line x1="327.60" y1="189.00" x2="333.60" y2="189.00" stroke="#111" stroke-width="0.9" />
<circle cx="330.6" cy="159" r="1.1" fill="#111"/>
<circle cx="330.6" cy="179" r="1.1" fill="#111"/>
<circle cx="330.6" cy="186" r="1.1" fill="#111"/>
<line x1="350.00" y1="232.50" x2="350.00" y2="236.00" stroke="#111" stroke-width="0.9" />
<line x1="347.50" y1="233.00" x2="352.50" y2="233.00" stroke="#111" stroke-width="0.9" />
<polyline points="330.6,152 330.6,147.6 350.4,147.6 350.4,232" fill="none" stroke="#111" stroke-width="1"/>
<text x="340.00" y="141.50" font-size="8.5" text-anchor="middle" fill="#231f20" >**</text>
<text x="0" y="0" font-size="10.3" fill="#231f20" text-anchor="middle" transform="translate(287 199) rotate(-90)">Relative protein level</text>
<text x="0" y="0" font-size="10.3" fill="#231f20" text-anchor="end" transform="translate(332.6 247.8) rotate(-45)">Brain</text>
<text x="0" y="0" font-size="10.3" fill="#231f20" text-anchor="end" transform="translate(355.2 248.6) rotate(-45)">Spinal cord</text>
<text font-size="14.3" fill="#000" transform="translate(404.19 9.60) scale(0.947 1)">D</text>
<rect x="438" y="70" width="69" height="81" fill="#fcfcfc"/>
<g transform="translate(434.9 22.6) scale(1.0) translate(-434.9 -22.6)">
<path d="M464,55.8 C470,54.6 476,54.1 482,54.2 C487,54.4 490.5,55.5 492.7,57.2 C494.8,59 495.7,61.5 495.7,65.2" fill="none" stroke="#c99690" stroke-width="1.5" stroke-linecap="round"/>
<path d="M442.5,57 L450,57.2" stroke="#c99690" stroke-width="1.3" stroke-linecap="round"/>
<path d="M434.9,38.4 C435.5,35 437.5,30 440.3,27.2 L442.6,22.6 L444.9,25.8 C448,25.3 452,25.4 456.5,26.4 C461,27.4 465,31 466.8,36 C468,40 468.1,46 467,49.5 C466.3,52.5 465,55.5 463.5,57 L449.5,57 C448.6,55 448.2,53 448.3,51.5 C446,49.6 444,47.2 442.5,45.4 C440.5,44.6 438.6,43.5 437.6,42.3 C436.5,41 435.3,39.8 434.9,38.4 Z" fill="#4b4645"/>
<path d="M449.5,57 C449,53 451,49.5 455,48.5 C459.5,47.8 463.5,50 465.5,54 L463.5,57 Z" fill="#464140"/>
<ellipse cx="447.3" cy="28" rx="2.2" ry="3.1" fill="#c9928d" transform="rotate(-10 447.3 28)"/>
<ellipse cx="439.2" cy="43.8" rx="1.6" ry="1.3" fill="#c9928d"/>
<circle cx="440" cy="33.5" r="0.75" fill="#151515"/>
</g>
<g transform="translate(442 83) scale(0.99) translate(-434.9 -22.6)">
<path d="M464,55.8 C470,54.6 476,54.1 482,54.2 C487,54.4 490.5,55.5 492.7,57.2 C494.8,59 495.7,61.5 495.7,65.2" fill="none" stroke="#959595" stroke-width="1.5" stroke-linecap="round"/>
<path d="M442.5,57 L450,57.2" stroke="#959595" stroke-width="1.3" stroke-linecap="round"/>
<path d="M434.9,38.4 C435.5,35 437.5,30 440.3,27.2 L442.6,22.6 L444.9,25.8 C448,25.3 452,25.4 456.5,26.4 C461,27.4 465,31 466.8,36 C468,40 468.1,46 467,49.5 C466.3,52.5 465,55.5 463.5,57 L449.5,57 C448.6,55 448.2,53 448.3,51.5 C446,49.6 444,47.2 442.5,45.4 C440.5,44.6 438.6,43.5 437.6,42.3 C436.5,41 435.3,39.8 434.9,38.4 Z" fill="#545454"/>
<path d="M449.5,57 C449,53 451,49.5 455,48.5 C459.5,47.8 463.5,50 465.5,54 L463.5,57 Z" fill="#4f4f4f"/>
<ellipse cx="447.3" cy="28" rx="2.2" ry="3.1" fill="#8d8d8d" transform="rotate(-10 447.3 28)"/>
<ellipse cx="439.2" cy="43.8" rx="1.6" ry="1.3" fill="#8d8d8d"/>
<circle cx="440" cy="33.5" r="0.75" fill="#151515"/>
</g>
<line x1="483.00" y1="46.60" x2="495.00" y2="46.60" stroke="#2b2b2b" stroke-width="1.1" />
<rect x="495" y="36" width="54" height="20.4" fill="none" stroke="#2b2b2b" stroke-width="1.1"/>
<line x1="549.00" y1="46.60" x2="555.40" y2="46.60" stroke="#2b2b2b" stroke-width="1.1" />
<rect x="555.4" y="36" width="118.2" height="20.4" fill="none" stroke="#2b2b2b" stroke-width="1.1"/>
<line x1="608.00" y1="36.00" x2="608.00" y2="56.40" stroke="#2b2b2b" stroke-width="1.1" />
<line x1="638.40" y1="36.00" x2="638.40" y2="56.40" stroke="#2b2b2b" stroke-width="1.1" />
<line x1="673.60" y1="46.60" x2="685.00" y2="46.60" stroke="#2b2b2b" stroke-width="1.1" />
<polyline points="555.4,36 555.4,25.8 564,25.8" fill="none" stroke="#2b2b2b" stroke-width="1.1"/>
<polygon points="563.6,21 572.4,25.8 563.6,30.8" fill="#2b2b2b"/>
<text x="520.00" y="50.80" font-size="10.4" text-anchor="middle" fill="#222" >hSYN1</text>
<text x="581.60" y="50.80" font-size="10.4" text-anchor="middle" fill="#222" >mUbL</text>
<text x="623.00" y="50.80" font-size="10.4" text-anchor="middle" fill="#222" >HIS</text>
<text x="655.40" y="50.80" font-size="10.2" text-anchor="middle" fill="#222" >FLAG</text>
<line x1="483.00" y1="97.00" x2="495.00" y2="97.00" stroke="#2b2b2b" stroke-width="1.1" />
<rect x="495" y="86.4" width="53.6" height="20.2" fill="none" stroke="#2b2b2b" stroke-width="1.1"/>
<line x1="548.60" y1="97.00" x2="555.00" y2="97.00" stroke="#2b2b2b" stroke-width="1.1" />
<rect x="555" y="86.4" width="59" height="20.2" fill="none" stroke="#2b2b2b" stroke-width="1.1"/>
<line x1="614.00" y1="97.00" x2="625.00" y2="97.00" stroke="#2b2b2b" stroke-width="1.1" />
<polyline points="555,86.4 555,76.3 564,76.3" fill="none" stroke="#2b2b2b" stroke-width="1.1"/>
<polygon points="563.6,71.3 573,76.3 563.6,81.6" fill="#2b2b2b"/>
<text x="517.30" y="101.60" font-size="10.4" text-anchor="middle" fill="#222" >SOD1</text>
<text x="559.80" y="101.60" font-size="10.4" text-anchor="start" fill="#222" >SOD1</text>
<text x="588.20" y="98.80" font-size="5.6" text-anchor="start" fill="#222" >G93A</text>
<text x="533.00" y="143.40" font-size="10.4" text-anchor="middle" fill="#222" >Offspring 4 genotypes</text>
<g transform="translate(415 161) scale(0.66) translate(-434.9 -22.6)">
<path d="M464,55.8 C470,54.6 476,54.1 482,54.2 C487,54.4 490.5,55.5 492.7,57.2 C494.8,59 495.7,61.5 495.7,65.2" fill="none" stroke="#959595" stroke-width="1.5" stroke-linecap="round"/>
<path d="M442.5,57 L450,57.2" stroke="#959595" stroke-width="1.3" stroke-linecap="round"/>
<path d="M434.9,38.4 C435.5,35 437.5,30 440.3,27.2 L442.6,22.6 L444.9,25.8 C448,25.3 452,25.4 456.5,26.4 C461,27.4 465,31 466.8,36 C468,40 468.1,46 467,49.5 C466.3,52.5 465,55.5 463.5,57 L449.5,57 C448.6,55 448.2,53 448.3,51.5 C446,49.6 444,47.2 442.5,45.4 C440.5,44.6 438.6,43.5 437.6,42.3 C436.5,41 435.3,39.8 434.9,38.4 Z" fill="#545454"/>
<path d="M449.5,57 C449,53 451,49.5 455,48.5 C459.5,47.8 463.5,50 465.5,54 L463.5,57 Z" fill="#4f4f4f"/>
<ellipse cx="447.3" cy="28" rx="2.2" ry="3.1" fill="#8d8d8d" transform="rotate(-10 447.3 28)"/>
<ellipse cx="439.2" cy="43.8" rx="1.6" ry="1.3" fill="#8d8d8d"/>
<circle cx="440" cy="33.5" r="0.75" fill="#151515"/>
</g>
<g transform="translate(468.2 161) scale(0.66) translate(-434.9 -22.6)">
<path d="M464,55.8 C470,54.6 476,54.1 482,54.2 C487,54.4 490.5,55.5 492.7,57.2 C494.8,59 495.7,61.5 495.7,65.2" fill="none" stroke="#c99690" stroke-width="1.5" stroke-linecap="round"/>
<path d="M442.5,57 L450,57.2" stroke="#c99690" stroke-width="1.3" stroke-linecap="round"/>
<path d="M434.9,38.4 C435.5,35 437.5,30 440.3,27.2 L442.6,22.6 L444.9,25.8 C448,25.3 452,25.4 456.5,26.4 C461,27.4 465,31 466.8,36 C468,40 468.1,46 467,49.5 C466.3,52.5 465,55.5 463.5,57 L449.5,57 C448.6,55 448.2,53 448.3,51.5 C446,49.6 444,47.2 442.5,45.4 C440.5,44.6 438.6,43.5 437.6,42.3 C436.5,41 435.3,39.8 434.9,38.4 Z" fill="#4b4645"/>
<path d="M449.5,57 C449,53 451,49.5 455,48.5 C459.5,47.8 463.5,50 465.5,54 L463.5,57 Z" fill="#464140"/>
<ellipse cx="447.3" cy="28" rx="2.2" ry="3.1" fill="#c9928d" transform="rotate(-10 447.3 28)"/>
<ellipse cx="439.2" cy="43.8" rx="1.6" ry="1.3" fill="#c9928d"/>
<circle cx="440" cy="33.5" r="0.75" fill="#151515"/>
</g>
<g transform="translate(533.6 161) scale(0.66) translate(-434.9 -22.6)">
<path d="M464,55.8 C470,54.6 476,54.1 482,54.2 C487,54.4 490.5,55.5 492.7,57.2 C494.8,59 495.7,61.5 495.7,65.2" fill="none" stroke="#959595" stroke-width="1.5" stroke-linecap="round"/>
<path d="M442.5,57 L450,57.2" stroke="#959595" stroke-width="1.3" stroke-linecap="round"/>
<path d="M434.9,38.4 C435.5,35 437.5,30 440.3,27.2 L442.6,22.6 L444.9,25.8 C448,25.3 452,25.4 456.5,26.4 C461,27.4 465,31 466.8,36 C468,40 468.1,46 467,49.5 C466.3,52.5 465,55.5 463.5,57 L449.5,57 C448.6,55 448.2,53 448.3,51.5 C446,49.6 444,47.2 442.5,45.4 C440.5,44.6 438.6,43.5 437.6,42.3 C436.5,41 435.3,39.8 434.9,38.4 Z" fill="#545454"/>
<path d="M449.5,57 C449,53 451,49.5 455,48.5 C459.5,47.8 463.5,50 465.5,54 L463.5,57 Z" fill="#4f4f4f"/>
<ellipse cx="447.3" cy="28" rx="2.2" ry="3.1" fill="#8d8d8d" transform="rotate(-10 447.3 28)"/>
<ellipse cx="439.2" cy="43.8" rx="1.6" ry="1.3" fill="#8d8d8d"/>
<circle cx="440" cy="33.5" r="0.75" fill="#151515"/>
</g>
<g transform="translate(607.6 161) scale(0.66) translate(-434.9 -22.6)">
<path d="M464,55.8 C470,54.6 476,54.1 482,54.2 C487,54.4 490.5,55.5 492.7,57.2 C494.8,59 495.7,61.5 495.7,65.2" fill="none" stroke="#c99690" stroke-width="1.5" stroke-linecap="round"/>
<path d="M442.5,57 L450,57.2" stroke="#c99690" stroke-width="1.3" stroke-linecap="round"/>
<path d="M434.9,38.4 C435.5,35 437.5,30 440.3,27.2 L442.6,22.6 L444.9,25.8 C448,25.3 452,25.4 456.5,26.4 C461,27.4 465,31 466.8,36 C468,40 468.1,46 467,49.5 C466.3,52.5 465,55.5 463.5,57 L449.5,57 C448.6,55 448.2,53 448.3,51.5 C446,49.6 444,47.2 442.5,45.4 C440.5,44.6 438.6,43.5 437.6,42.3 C436.5,41 435.3,39.8 434.9,38.4 Z" fill="#4b4645"/>
<path d="M449.5,57 C449,53 451,49.5 455,48.5 C459.5,47.8 463.5,50 465.5,54 L463.5,57 Z" fill="#464140"/>
<ellipse cx="447.3" cy="28" rx="2.2" ry="3.1" fill="#c9928d" transform="rotate(-10 447.3 28)"/>
<ellipse cx="439.2" cy="43.8" rx="1.6" ry="1.3" fill="#c9928d"/>
<circle cx="440" cy="33.5" r="0.75" fill="#151515"/>
</g>
<text x="430.00" y="213.60" font-size="10.4" text-anchor="middle" fill="#222" >WT/WT</text>
<text x="482.80" y="213.60" font-size="10.4" text-anchor="middle" fill="#222" >WT/mUbL</text>
<text x="520.5" y="213.6" font-size="10.4" fill="#ef5a2a">SOD1<tspan font-size="5.6" dy="-4.2">G93A</tspan><tspan dy="4.2">/WT</tspan></text>
<text x="607.3" y="213.6" font-size="10.4" fill="#3b86c8">SOD1<tspan font-size="5.6" dy="-4.2">G93A</tspan><tspan dy="4.2">/mUbL</tspan></text>
<line x1="412.40" y1="282.40" x2="647.40" y2="282.40" stroke="#333" stroke-width="1.2" />
<line x1="412.40" y1="268.00" x2="412.40" y2="294.40" stroke="#333" stroke-width="1.2" />
<line x1="506.00" y1="268.00" x2="506.00" y2="294.40" stroke="#333" stroke-width="1.2" />
<line x1="647.40" y1="268.00" x2="647.40" y2="294.40" stroke="#333" stroke-width="1.2" />
<text x="504.50" y="253.40" font-size="10.4" text-anchor="middle" fill="#222" >Early-symptomatic</text>
<text x="504.30" y="265.00" font-size="10.4" text-anchor="middle" fill="#222" >post-mortem analysis</text>
<text x="593.60" y="253.40" font-size="10.4" text-anchor="start" fill="#222" >End-stage post-</text>
<text x="593.60" y="265.00" font-size="10.4" text-anchor="start" fill="#222" >mortem analysis</text>
<text x="409.00" y="306.00" font-size="10.4" text-anchor="middle" fill="#222" >Birth</text>
<text x="503.50" y="306.00" font-size="10.4" text-anchor="middle" fill="#222" >PN90</text>
<text x="650.30" y="306.00" font-size="10.4" text-anchor="middle" fill="#222" >Euthanasia</text>
<rect x="423" y="316.6" width="214.4" height="31" fill="#d4d4d4"/>
<text x="534.00" y="328.00" font-size="10.4" text-anchor="middle" fill="#222" >Phenotypic analysis</text>
<text x="534.30" y="340.60" font-size="10.5" text-anchor="middle" fill="#222" >(weight, neurological scoring, rotarod)</text>
<text x="30.60" y="373.60" font-size="11.3" text-anchor="start" fill="#231f20" >Male</text>
<line x1="77.20" y1="369.60" x2="91.50" y2="369.60" stroke="#f7a040" stroke-width="1.3" />
<text x="96.2" y="373.6" font-size="10.4" fill="#231f20">SOD1<tspan font-size="5.8" dy="-4.4">G93A</tspan><tspan dy="4.4">/WT n = 11</tspan></text>
<line x1="202.60" y1="370.20" x2="217.50" y2="370.20" stroke="#7fb1ee" stroke-width="1.3" />
<text x="221.8" y="373.8" font-size="10.4" fill="#231f20">SOD1<tspan font-size="5.8" dy="-4.4">G93A</tspan><tspan dy="4.4">/mUbL n = 11</tspan></text>
<text x="30.60" y="623.60" font-size="11.3" text-anchor="start" fill="#231f20" >Female</text>
<line x1="77.20" y1="619.60" x2="91.50" y2="619.60" stroke="#f7a040" stroke-width="1.3" />
<text x="96.2" y="623.6" font-size="10.4" fill="#231f20">SOD1<tspan font-size="5.8" dy="-4.4">G93A</tspan><tspan dy="4.4">/WT  n = 10</tspan></text>
<line x1="202.60" y1="620.20" x2="217.50" y2="620.20" stroke="#7fb1ee" stroke-width="1.3" />
<text x="221.8" y="623.8000000000001" font-size="10.4" fill="#231f20">SOD1<tspan font-size="5.8" dy="-4.4">G93A</tspan><tspan dy="4.4">/mUbL n = 12</tspan></text>
<text font-size="14.1" fill="#000" transform="translate(5.24 395.70) scale(0.747 1)">E</text>
<polygon points="39.80,511.60 40.43,509.78 41.07,508.06 41.70,506.55 42.33,504.06 42.97,502.44 43.60,500.76 44.40,498.81 45.20,496.96 46.00,495.24 46.80,494.17 47.60,492.43 48.40,490.61 49.20,488.88 50.35,487.15 51.50,486.22 52.65,485.07 53.80,483.80 54.30,482.54 54.80,480.63 55.30,479.39 55.80,477.70 57.20,476.37 58.60,474.80 60.00,473.63 61.40,472.10 62.92,470.70 64.45,470.20 65.97,468.45 67.50,467.50 69.55,467.13 71.60,466.50 73.60,467.50 75.30,466.20 77.00,465.13 78.70,464.40 79.97,463.50 81.25,462.83 82.53,461.06 83.80,460.40 85.30,461.40 86.47,459.67 87.63,458.24 88.80,456.30 90.50,455.72 92.20,454.20 93.90,453.30 95.45,452.76 97.00,451.80 100.00,452.80 102.00,454.29 104.00,455.30 105.55,456.11 107.10,456.96 108.65,457.12 110.20,458.30 111.60,458.95 113.00,460.94 114.40,461.58 115.80,462.82 117.20,463.80 118.28,464.79 119.36,466.31 120.44,467.61 121.52,468.91 122.60,470.00 123.65,471.40 124.70,472.96 125.75,473.68 126.80,475.47 127.85,476.69 128.90,477.80 129.80,479.33 130.70,480.87 131.60,482.00 132.50,483.37 133.40,485.03 134.30,486.30 135.38,487.10 136.46,489.04 137.54,490.24 138.62,491.11 139.70,492.50 141.27,493.39 142.85,493.71 144.43,494.64 146.00,495.20 147.55,495.96 149.10,496.81 150.65,497.31 152.20,498.00 154.05,498.28 155.90,497.98 157.75,497.76 159.60,498.33 161.45,498.15 163.30,498.00 163.30,505.40 161.45,505.55 159.60,505.73 157.75,505.16 155.90,505.38 154.05,505.68 152.20,505.40 150.65,504.71 149.10,504.21 147.55,503.36 146.00,502.60 144.43,502.04 142.85,501.11 141.27,500.79 139.70,499.90 138.62,498.51 137.54,497.64 136.46,496.44 135.38,494.50 134.30,493.70 133.40,492.43 132.50,490.77 131.60,489.40 130.70,488.27 129.80,486.73 128.90,485.20 127.85,484.09 126.80,482.87 125.75,481.08 124.70,480.36 123.65,478.80 122.60,477.40 121.52,476.31 120.44,475.01 119.36,473.71 118.28,472.19 117.20,471.20 115.80,470.22 114.40,468.98 113.00,468.34 111.60,466.35 110.20,465.70 108.65,464.52 107.10,464.36 105.55,463.51 104.00,462.70 102.00,461.69 100.00,460.20 97.00,459.20 95.45,460.16 93.90,460.70 92.20,461.60 90.50,463.12 88.80,463.70 87.63,465.64 86.47,467.07 85.30,468.80 83.80,467.80 82.53,468.46 81.25,470.23 79.97,470.90 78.70,471.80 77.00,472.53 75.30,473.60 73.60,474.90 71.60,473.90 69.55,474.53 67.50,474.90 65.97,475.85 64.45,477.60 62.92,478.10 61.40,479.50 60.00,481.03 58.60,482.20 57.20,483.77 55.80,485.10 55.30,486.79 54.80,488.03 54.30,489.94 53.80,491.20 52.65,492.47 51.50,493.62 50.35,494.08 49.20,495.12 48.40,496.37 47.60,497.71 46.80,498.97 46.00,499.56 45.20,500.80 44.40,502.17 43.60,503.64 42.97,504.94 42.33,506.18 41.70,508.29 41.07,509.42 40.43,510.76 39.80,512.20" fill="#fde0c6" stroke="none" style="mix-blend-mode:multiply"/>
<polygon points="39.80,511.60 40.45,509.48 41.09,507.97 41.74,506.25 42.38,504.90 43.03,503.25 43.68,501.12 44.32,500.17 44.97,498.43 45.62,496.21 46.26,495.02 46.91,492.76 47.55,491.58 48.20,489.68 49.00,487.71 49.80,485.91 50.60,484.13 51.40,482.20 52.20,479.88 52.72,478.20 53.24,476.56 53.76,475.00 54.28,473.90 54.80,472.20 55.67,470.61 56.55,469.26 57.42,467.71 58.30,466.60 59.52,465.40 60.74,463.73 61.96,462.72 63.18,462.10 64.40,460.50 65.43,458.98 66.46,458.25 67.49,457.06 68.51,455.52 69.54,453.97 70.57,452.71 71.60,451.80 73.10,452.80 74.85,451.30 76.60,449.80 77.82,448.81 79.04,447.20 80.26,445.70 81.48,444.87 82.70,443.70 84.50,442.82 86.30,442.32 88.10,441.81 89.90,441.20 90.90,440.02 91.90,438.10 93.93,437.80 95.97,437.33 98.00,437.10 99.85,436.45 101.70,435.70 103.60,436.19 105.50,436.20 106.67,437.78 107.85,438.32 109.03,440.22 110.20,441.30 111.26,442.06 112.33,443.33 113.39,445.09 114.45,445.83 115.51,447.08 116.58,448.09 117.64,449.87 118.70,450.90 119.93,451.99 121.16,453.26 122.39,454.87 123.61,456.14 124.84,457.14 126.07,458.31 127.30,459.50 128.08,460.73 128.87,463.07 129.65,464.22 130.43,466.20 131.22,466.98 132.00,468.90 133.53,469.88 135.07,471.20 136.60,472.70 137.38,474.60 138.16,476.05 138.93,476.97 139.71,478.69 140.49,480.02 141.27,481.33 142.04,483.32 142.82,484.85 143.60,485.90 145.27,486.24 146.94,486.53 148.61,487.75 150.29,488.04 151.96,488.82 153.63,489.07 155.30,489.50 156.90,489.68 158.50,489.03 160.10,489.62 161.70,489.03 163.30,489.30 163.30,497.50 161.70,497.23 160.10,497.82 158.50,497.23 156.90,497.88 155.30,497.70 153.63,497.27 151.96,497.02 150.29,496.24 148.61,495.95 146.94,494.73 145.27,494.44 143.60,494.10 142.82,493.05 142.04,491.52 141.27,489.53 140.49,488.22 139.71,486.89 138.93,485.17 138.16,484.25 137.38,482.80 136.60,480.90 135.07,479.40 133.53,478.08 132.00,477.10 131.22,475.18 130.43,474.40 129.65,472.42 128.87,471.27 128.08,468.93 127.30,467.70 126.07,466.51 124.84,465.34 123.61,464.34 122.39,463.07 121.16,461.46 119.93,460.19 118.70,459.10 117.64,458.07 116.58,456.29 115.51,455.28 114.45,454.03 113.39,453.29 112.33,451.53 111.26,450.26 110.20,449.50 109.03,448.42 107.85,446.52 106.67,445.98 105.50,444.40 103.60,444.39 101.70,443.90 99.85,444.65 98.00,445.30 95.97,445.53 93.93,446.00 91.90,446.30 90.90,448.22 89.90,449.40 88.10,450.01 86.30,450.52 84.50,451.02 82.70,451.90 81.48,453.07 80.26,453.90 79.04,455.40 77.82,457.01 76.60,458.00 74.85,459.50 73.10,461.00 71.60,460.00 70.57,460.91 69.54,462.17 68.51,463.72 67.49,465.26 66.46,466.45 65.43,467.18 64.40,468.70 63.18,470.30 61.96,470.92 60.74,471.93 59.52,473.60 58.30,474.80 57.42,475.91 56.55,477.46 55.67,478.81 54.80,480.40 54.28,482.10 53.76,483.20 53.24,484.76 52.72,486.40 52.20,487.92 51.40,489.76 50.60,491.21 49.80,492.51 49.00,493.83 48.20,495.32 47.55,496.84 46.91,497.63 46.26,499.50 45.62,500.30 44.97,502.14 44.32,503.49 43.68,504.04 43.03,505.79 42.38,507.05 41.74,508.01 41.09,509.35 40.45,510.47 39.80,512.20" fill="#d8e7fb" stroke="none" style="mix-blend-mode:multiply"/>
<polyline points="39.80,511.90 40.43,510.27 41.07,508.74 41.70,507.42 42.33,505.12 42.97,503.69 43.60,502.20 44.40,500.49 45.20,498.88 46.00,497.40 46.80,496.57 47.60,495.07 48.40,493.49 49.20,492.00 50.35,490.61 51.50,489.92 52.65,488.77 53.80,487.50 54.30,486.24 54.80,484.33 55.30,483.09 55.80,481.40 57.20,480.07 58.60,478.50 60.00,477.33 61.40,475.80 62.92,474.40 64.45,473.90 65.97,472.15 67.50,471.20 69.55,470.83 71.60,470.20 73.60,471.20 75.30,469.90 77.00,468.83 78.70,468.10 79.97,467.20 81.25,466.53 82.53,464.76 83.80,464.10 85.30,465.10 86.47,463.37 87.63,461.94 88.80,460.00 90.50,459.42 92.20,457.90 93.90,457.00 95.45,456.46 97.00,455.50 100.00,456.50 102.00,457.99 104.00,459.00 105.55,459.81 107.10,460.66 108.65,460.82 110.20,462.00 111.60,462.65 113.00,464.64 114.40,465.28 115.80,466.52 117.20,467.50 118.28,468.49 119.36,470.01 120.44,471.31 121.52,472.61 122.60,473.70 123.65,475.10 124.70,476.66 125.75,477.38 126.80,479.17 127.85,480.39 128.90,481.50 129.80,483.03 130.70,484.57 131.60,485.70 132.50,487.07 133.40,488.73 134.30,490.00 135.38,490.80 136.46,492.74 137.54,493.94 138.62,494.81 139.70,496.20 141.27,497.09 142.85,497.41 144.43,498.34 146.00,498.90 147.55,499.66 149.10,500.51 150.65,501.01 152.20,501.70 154.05,501.98 155.90,501.68 157.75,501.46 159.60,502.03 161.45,501.85 163.30,501.70" fill="none" stroke="#f7861c" stroke-width="1.1" stroke-linejoin="round" />
<polyline points="39.80,511.90 40.45,509.97 41.09,508.66 41.74,507.13 42.38,505.98 43.03,504.52 43.68,502.58 44.32,501.83 44.97,500.29 45.62,498.26 46.26,497.26 46.91,495.20 47.55,494.21 48.20,492.50 49.00,490.77 49.80,489.21 50.60,487.67 51.40,485.98 52.20,483.90 52.72,482.30 53.24,480.66 53.76,479.10 54.28,478.00 54.80,476.30 55.67,474.71 56.55,473.36 57.42,471.81 58.30,470.70 59.52,469.50 60.74,467.83 61.96,466.82 63.18,466.20 64.40,464.60 65.43,463.08 66.46,462.35 67.49,461.16 68.51,459.62 69.54,458.07 70.57,456.81 71.60,455.90 73.10,456.90 74.85,455.40 76.60,453.90 77.82,452.91 79.04,451.30 80.26,449.80 81.48,448.97 82.70,447.80 84.50,446.92 86.30,446.42 88.10,445.91 89.90,445.30 90.90,444.12 91.90,442.20 93.93,441.90 95.97,441.43 98.00,441.20 99.85,440.55 101.70,439.80 103.60,440.29 105.50,440.30 106.67,441.88 107.85,442.42 109.03,444.32 110.20,445.40 111.26,446.16 112.33,447.43 113.39,449.19 114.45,449.93 115.51,451.18 116.58,452.19 117.64,453.97 118.70,455.00 119.93,456.09 121.16,457.36 122.39,458.97 123.61,460.24 124.84,461.24 126.07,462.41 127.30,463.60 128.08,464.83 128.87,467.17 129.65,468.32 130.43,470.30 131.22,471.08 132.00,473.00 133.53,473.98 135.07,475.30 136.60,476.80 137.38,478.70 138.16,480.15 138.93,481.07 139.71,482.79 140.49,484.12 141.27,485.43 142.04,487.42 142.82,488.95 143.60,490.00 145.27,490.34 146.94,490.63 148.61,491.85 150.29,492.14 151.96,492.92 153.63,493.17 155.30,493.60 156.90,493.78 158.50,493.13 160.10,493.72 161.70,493.13 163.30,493.40" fill="none" stroke="#5a9ff2" stroke-width="1.1" stroke-linejoin="round" />
<line x1="39.60" y1="425.90" x2="39.60" y2="534.10" stroke="#231f20" stroke-width="1.3" />
<line x1="35.30" y1="426.50" x2="39.60" y2="426.50" stroke="#231f20" stroke-width="1.3" />
<text x="33.20" y="429.90" font-size="10.0" text-anchor="end" fill="#231f20" >140</text>
<line x1="35.30" y1="447.90" x2="39.60" y2="447.90" stroke="#231f20" stroke-width="1.3" />
<text x="33.20" y="451.30" font-size="10.0" text-anchor="end" fill="#231f20" >130</text>
<line x1="35.30" y1="469.40" x2="39.60" y2="469.40" stroke="#231f20" stroke-width="1.3" />
<text x="33.20" y="472.80" font-size="10.0" text-anchor="end" fill="#231f20" >120</text>
<line x1="35.30" y1="490.80" x2="39.60" y2="490.80" stroke="#231f20" stroke-width="1.3" />
<text x="33.20" y="494.20" font-size="10.0" text-anchor="end" fill="#231f20" >110</text>
<line x1="35.30" y1="512.30" x2="39.60" y2="512.30" stroke="#231f20" stroke-width="1.3" />
<text x="33.20" y="515.70" font-size="10.0" text-anchor="end" fill="#231f20" >100</text>
<line x1="35.30" y1="533.50" x2="39.60" y2="533.50" stroke="#231f20" stroke-width="1.3" />
<text x="33.20" y="536.90" font-size="10.0" text-anchor="end" fill="#231f20" >90</text>
<line x1="39.60" y1="533.50" x2="168.20" y2="533.50" stroke="#231f20" stroke-width="1.3" />
<line x1="39.60" y1="533.50" x2="39.60" y2="537.80" stroke="#231f20" stroke-width="1.3" />
<line x1="60.80" y1="533.50" x2="60.80" y2="537.80" stroke="#231f20" stroke-width="1.3" />
<line x1="82.10" y1="533.50" x2="82.10" y2="537.80" stroke="#231f20" stroke-width="1.3" />
<line x1="103.40" y1="533.50" x2="103.40" y2="537.80" stroke="#231f20" stroke-width="1.3" />
<line x1="124.80" y1="533.50" x2="124.80" y2="537.80" stroke="#231f20" stroke-width="1.3" />
<line x1="146.10" y1="533.50" x2="146.10" y2="537.80" stroke="#231f20" stroke-width="1.3" />
<line x1="167.40" y1="533.50" x2="167.40" y2="537.80" stroke="#231f20" stroke-width="1.3" />
<text x="34.60" y="555.00" font-size="10.0" text-anchor="middle" fill="#231f20" >50</text>
<text x="58.10" y="555.00" font-size="10.0" text-anchor="middle" fill="#231f20" >75</text>
<text x="79.80" y="555.00" font-size="10.0" text-anchor="middle" fill="#231f20" >100</text>
<text x="101.20" y="555.00" font-size="10.0" text-anchor="middle" fill="#231f20" >125</text>
<text x="123.80" y="555.00" font-size="10.0" text-anchor="middle" fill="#231f20" >150</text>
<text x="145.80" y="555.00" font-size="10.0" text-anchor="middle" fill="#231f20" >175</text>
<text x="168.20" y="555.00" font-size="10.0" text-anchor="middle" fill="#231f20" >200</text>
<text x="102.90" y="575.90" font-size="10.6" text-anchor="middle" fill="#231f20" >Age (days)</text>
<text font-size="10.4" fill="#231f20" text-anchor="middle" transform="translate(7.6 479.9) rotate(-90)">Weight (% of start weight)</text>
<path d="M49.90,518.20 L54.90,518.20 M51.15,516.03 L53.65,520.37 M53.65,516.03 L51.15,520.37 " stroke="#2a2a2a" stroke-width="1.05" fill="none"/>
<path d="M55.60,518.20 L60.60,518.20 M56.85,516.03 L59.35,520.37 M59.35,516.03 L56.85,520.37 " stroke="#2a2a2a" stroke-width="1.05" fill="none"/>
<path d="M61.30,518.20 L66.30,518.20 M62.55,516.03 L65.05,520.37 M65.05,516.03 L62.55,520.37 " stroke="#2a2a2a" stroke-width="1.05" fill="none"/>
<path d="M67.00,518.20 L72.00,518.20 M68.25,516.03 L70.75,520.37 M70.75,516.03 L68.25,520.37 " stroke="#2a2a2a" stroke-width="1.05" fill="none"/>
<text font-size="14.0" fill="#000" transform="translate(197.59 395.60) scale(0.865 1)">G</text>
<polygon points="216.40,427.70 222.70,442.00 229.40,450.00 236.90,458.00 243.60,468.30 250.30,480.00 257.80,483.40 263.80,484.00 271.30,485.20 278.30,482.50 284.70,484.50 291.70,481.00 298.60,490.00 304.90,489.00 312.00,507.00 319.10,513.00 325.80,515.00 332.50,516.50 346.70,516.50 346.70,522.00 332.50,522.00 325.80,521.50 319.10,521.00 312.00,518.00 304.90,509.00 298.60,508.00 291.70,496.00 284.70,498.70 278.30,496.40 271.30,501.70 263.80,495.70 257.80,499.40 250.30,495.00 243.60,489.70 236.90,474.80 229.40,470.30 222.70,465.80 216.40,455.30" fill="#fde0c6" stroke="none" style="mix-blend-mode:multiply"/>
<polygon points="216.40,424.70 220.50,425.00 223.40,439.70 229.40,441.00 236.90,441.60 243.60,447.10 250.30,450.10 257.80,458.30 263.80,457.60 271.30,466.50 278.00,468.00 284.70,468.50 291.40,480.00 298.20,486.00 305.60,497.00 311.60,499.00 319.10,505.00 325.80,512.50 333.30,513.50 346.70,513.50 346.70,519.00 333.30,519.00 325.80,518.50 319.10,514.00 311.60,510.00 305.60,509.00 298.20,500.00 291.40,493.00 284.70,482.20 278.00,481.50 271.30,479.20 263.80,474.00 257.80,470.30 250.30,465.80 243.60,466.50 236.60,466.00 229.40,467.30 223.40,455.00 216.40,437.40" fill="#d8e7fb" stroke="none" style="mix-blend-mode:multiply"/>
<polyline points="216.40,441.10 222.70,452.40 229.40,459.80 236.90,468.80 243.60,482.20 250.30,488.20 257.80,491.50 263.80,490.90 271.30,493.90 278.30,489.00 284.70,492.40 291.70,488.50 298.60,499.40 304.90,499.40 312.00,512.90 319.10,517.30 325.80,518.10 332.50,519.30 346.70,519.30" fill="none" stroke="#f7861c" stroke-width="1.1" stroke-linejoin="round" />
<polyline points="216.40,432.60 223.40,446.40 229.40,454.60 236.60,453.10 243.60,457.60 250.30,457.60 257.80,465.00 263.80,466.50 271.30,473.30 278.00,474.80 284.70,476.00 291.40,486.70 298.20,493.40 305.60,503.20 311.60,504.60 319.10,509.90 325.80,515.90 333.30,516.30 346.70,516.30" fill="none" stroke="#5a9ff2" stroke-width="1.1" stroke-linejoin="round" />
<line x1="216.40" y1="424.40" x2="216.40" y2="534.40" stroke="#231f20" stroke-width="1.3" />
<line x1="211.80" y1="425.20" x2="216.40" y2="425.20" stroke="#231f20" stroke-width="1.3" />
<text x="208.60" y="428.60" font-size="10.0" text-anchor="end" fill="#231f20" >80</text>
<line x1="211.80" y1="452.40" x2="216.40" y2="452.40" stroke="#231f20" stroke-width="1.3" />
<text x="208.60" y="455.80" font-size="10.0" text-anchor="end" fill="#231f20" >60</text>
<line x1="211.80" y1="479.50" x2="216.40" y2="479.50" stroke="#231f20" stroke-width="1.3" />
<text x="208.60" y="482.90" font-size="10.0" text-anchor="end" fill="#231f20" >40</text>
<line x1="211.80" y1="506.90" x2="216.40" y2="506.90" stroke="#231f20" stroke-width="1.3" />
<text x="208.60" y="510.30" font-size="10.0" text-anchor="end" fill="#231f20" >20</text>
<line x1="211.80" y1="533.80" x2="216.40" y2="533.80" stroke="#231f20" stroke-width="1.3" />
<text x="208.60" y="537.20" font-size="10.0" text-anchor="end" fill="#231f20" >0</text>
<line x1="216.40" y1="533.80" x2="347.90" y2="533.80" stroke="#231f20" stroke-width="1.3" />
<line x1="219.30" y1="533.80" x2="219.30" y2="538.10" stroke="#231f20" stroke-width="1.3" />
<line x1="238.70" y1="533.80" x2="238.70" y2="538.10" stroke="#231f20" stroke-width="1.3" />
<line x1="258.10" y1="533.80" x2="258.10" y2="538.10" stroke="#231f20" stroke-width="1.3" />
<line x1="277.80" y1="533.80" x2="277.80" y2="538.10" stroke="#231f20" stroke-width="1.3" />
<line x1="297.60" y1="533.80" x2="297.60" y2="538.10" stroke="#231f20" stroke-width="1.3" />
<line x1="317.40" y1="533.80" x2="317.40" y2="538.10" stroke="#231f20" stroke-width="1.3" />
<line x1="336.80" y1="533.80" x2="336.80" y2="538.10" stroke="#231f20" stroke-width="1.3" />
<text x="217.90" y="552.10" font-size="10.2" text-anchor="middle" fill="#231f20" >60</text>
<text x="257.30" y="552.10" font-size="10.2" text-anchor="middle" fill="#231f20" >100</text>
<text x="296.70" y="552.10" font-size="10.2" text-anchor="middle" fill="#231f20" >140</text>
<text x="336.30" y="552.10" font-size="10.2" text-anchor="middle" fill="#231f20" >180</text>
<text x="289.40" y="575.90" font-size="10.6" text-anchor="middle" fill="#231f20" >Age (days)</text>
<text font-size="10.4" fill="#231f20" text-anchor="middle" transform="translate(188.7 477.7) rotate(-90)">Average latency to fall (s)</text>
<path d="M223.40,518.50 L228.40,518.50 M224.65,516.33 L227.15,520.67 M227.15,516.33 L224.65,520.67 " stroke="#2a2a2a" stroke-width="1.05" fill="none"/>
<path d="M229.10,518.50 L234.10,518.50 M230.35,516.33 L232.85,520.67 M232.85,516.33 L230.35,520.67 " stroke="#2a2a2a" stroke-width="1.05" fill="none"/>
<path d="M234.80,518.50 L239.80,518.50 M236.05,516.33 L238.55,520.67 M238.55,516.33 L236.05,520.67 " stroke="#2a2a2a" stroke-width="1.05" fill="none"/>
<path d="M240.50,518.50 L245.50,518.50 M241.75,516.33 L244.25,520.67 M244.25,516.33 L241.75,520.67 " stroke="#2a2a2a" stroke-width="1.05" fill="none"/>
<rect x="329.9" y="389.2" width="1.3" height="7.4" fill="#231f20"/>
<polygon points="376.30,533.30 383.20,533.30 385.70,523.30 392.40,523.30 392.40,520.70 397.70,520.70 399.90,518.50 406.60,518.50 406.60,514.80 409.60,513.70 414.90,513.70 419.30,509.20 424.60,509.20 424.60,506.50 432.00,506.50 432.00,504.00 445.20,504.30 449.00,499.30 453.50,499.00 458.70,492.20 462.40,483.00 466.90,474.00 468.40,466.50 471.40,465.00 475.90,450.80 478.90,447.80 482.60,446.30 484.80,442.30 497.60,442.30 497.60,453.90 484.80,453.90 482.60,457.90 478.90,459.40 475.90,462.40 471.40,476.60 468.40,478.10 466.90,485.60 462.40,494.60 458.70,503.80 453.50,505.40 449.00,505.70 445.20,510.70 432.00,510.40 432.00,512.90 424.60,512.90 424.60,515.60 419.30,515.60 414.90,520.10 409.60,520.10 406.60,521.20 406.60,524.90 399.90,524.90 397.70,527.10 392.40,527.10 392.40,529.70 385.70,529.70 383.20,533.90 376.30,533.90" fill="#fde0c6" stroke="none" style="mix-blend-mode:multiply"/>
<polygon points="376.30,533.30 386.10,533.30 388.70,521.70 395.00,520.50 400.00,518.00 405.10,514.20 413.40,511.20 418.60,509.00 426.80,509.00 446.70,509.20 449.70,506.70 456.40,499.20 462.40,496.70 470.60,484.80 474.40,474.30 479.60,466.40 497.60,466.40 497.60,477.40 479.60,477.40 474.40,485.30 470.60,495.80 462.40,507.70 456.40,505.20 449.70,512.70 446.70,515.20 426.80,515.00 418.60,515.00 413.40,517.20 405.10,520.20 400.00,524.00 395.00,526.50 388.70,527.70 386.10,533.90 376.30,533.90" fill="#d8e7fb" stroke="none" style="mix-blend-mode:multiply"/>
<polyline points="376.30,533.60 383.20,533.60 385.70,526.50 392.40,526.50 392.40,523.90 397.70,523.90 399.90,521.70 406.60,521.70 406.60,518.00 409.60,516.90 414.90,516.90 419.30,512.40 424.60,512.40 424.60,509.70 432.00,509.70 432.00,507.20 445.20,507.50 449.00,502.50 453.50,502.20 458.70,498.00 462.40,488.80 466.90,479.80 468.40,472.30 471.40,470.80 475.90,456.60 478.90,453.60 482.60,452.10 484.80,448.10 497.60,448.10" fill="none" stroke="#f7861c" stroke-width="1.1" stroke-linejoin="round" />
<polyline points="376.30,533.60 386.10,533.60 388.70,524.70 395.00,523.50 400.00,521.00 405.10,517.20 413.40,514.20 418.60,512.00 426.80,512.00 446.70,512.20 449.70,509.70 456.40,502.20 462.40,502.20 470.60,490.30 474.40,479.80 479.60,471.90 497.60,471.90" fill="none" stroke="#5a9ff2" stroke-width="1.1" stroke-linejoin="round" />
<line x1="376.40" y1="428.50" x2="376.40" y2="534.20" stroke="#231f20" stroke-width="1.3" />
<line x1="372.00" y1="429.10" x2="376.40" y2="429.10" stroke="#231f20" stroke-width="1.3" />
<text x="368.40" y="432.50" font-size="10.0" text-anchor="end" fill="#231f20" >4</text>
<line x1="372.00" y1="455.40" x2="376.40" y2="455.40" stroke="#231f20" stroke-width="1.3" />
<text x="368.40" y="458.80" font-size="10.0" text-anchor="end" fill="#231f20" >3</text>
<line x1="372.00" y1="481.30" x2="376.40" y2="481.30" stroke="#231f20" stroke-width="1.3" />
<text x="368.40" y="484.70" font-size="10.0" text-anchor="end" fill="#231f20" >2</text>
<line x1="372.00" y1="507.50" x2="376.40" y2="507.50" stroke="#231f20" stroke-width="1.3" />
<text x="368.40" y="510.90" font-size="10.0" text-anchor="end" fill="#231f20" >1</text>
<line x1="372.00" y1="533.60" x2="376.40" y2="533.60" stroke="#231f20" stroke-width="1.3" />
<text x="368.40" y="537.00" font-size="10.0" text-anchor="end" fill="#231f20" >0</text>
<line x1="376.40" y1="533.60" x2="502.10" y2="533.60" stroke="#231f20" stroke-width="1.3" />
<line x1="376.40" y1="533.60" x2="376.40" y2="537.90" stroke="#231f20" stroke-width="1.3" />
<line x1="418.20" y1="533.60" x2="418.20" y2="537.90" stroke="#231f20" stroke-width="1.3" />
<line x1="460.00" y1="533.60" x2="460.00" y2="537.90" stroke="#231f20" stroke-width="1.3" />
<line x1="502.00" y1="533.60" x2="502.00" y2="537.90" stroke="#231f20" stroke-width="1.3" />
<text x="377.00" y="549.30" font-size="10.0" text-anchor="middle" fill="#231f20" >50</text>
<text x="420.50" y="549.30" font-size="10.0" text-anchor="middle" fill="#231f20" >100</text>
<text x="462.40" y="549.30" font-size="10.0" text-anchor="middle" fill="#231f20" >150</text>
<text x="504.40" y="549.30" font-size="10.0" text-anchor="middle" fill="#231f20" >200</text>
<text x="449.00" y="575.90" font-size="10.6" text-anchor="middle" fill="#231f20" >Age (days)</text>
<text font-size="10.4" fill="#231f20" text-anchor="middle" transform="translate(356.7 468.9) rotate(-90)">Neurological score</text>
<path d="M473.75,517.40 L478.05,517.40 M474.82,515.54 L476.97,519.26 M476.97,515.54 L474.82,519.26 " stroke="#2a2a2a" stroke-width="1.05" fill="none"/>
<path d="M478.78,517.40 L483.08,517.40 M479.85,515.54 L482.00,519.26 M482.00,515.54 L479.85,519.26 " stroke="#2a2a2a" stroke-width="1.05" fill="none"/>
<path d="M483.81,517.40 L488.11,517.40 M484.88,515.54 L487.03,519.26 M487.03,515.54 L484.88,519.26 " stroke="#2a2a2a" stroke-width="1.05" fill="none"/>
<path d="M488.84,517.40 L493.14,517.40 M489.91,515.54 L492.06,519.26 M492.06,515.54 L489.91,519.26 " stroke="#2a2a2a" stroke-width="1.05" fill="none"/>
<rect x="420.2" y="424.3" width="11.5" height="40.8" fill="#f7a77a" stroke="#6b4a3a" stroke-width="0.9"/>
<rect x="437.3" y="423" width="11.5" height="42.1" fill="#9cc6f5" stroke="#3d4e66" stroke-width="0.9"/>
<line x1="413.90" y1="393.00" x2="413.90" y2="465.70" stroke="#231f20" stroke-width="1.2" />
<line x1="411.00" y1="393.60" x2="413.90" y2="393.60" stroke="#231f20" stroke-width="1.2" />
<line x1="411.00" y1="417.50" x2="413.90" y2="417.50" stroke="#231f20" stroke-width="1.2" />
<line x1="411.00" y1="441.20" x2="413.90" y2="441.20" stroke="#231f20" stroke-width="1.2" />
<line x1="411.00" y1="465.10" x2="413.90" y2="465.10" stroke="#231f20" stroke-width="1.2" />
<text x="401.50" y="397.10" font-size="9.7" text-anchor="middle" fill="#231f20" >150</text>
<text x="401.50" y="421.00" font-size="9.7" text-anchor="middle" fill="#231f20" >100</text>
<text x="402.70" y="444.70" font-size="9.7" text-anchor="middle" fill="#231f20" >50</text>
<text x="402.60" y="468.60" font-size="9.7" text-anchor="middle" fill="#231f20" >0</text>
<line x1="413.90" y1="465.10" x2="455.40" y2="465.10" stroke="#231f20" stroke-width="1.2" />
<polyline points="422.3,390.1 422.3,384.8 443.4,384.8 443.4,390.1" fill="none" stroke="#231f20" stroke-width="1"/>
<text x="433.20" y="382.60" font-size="9.6" text-anchor="middle" fill="#231f20" >ns</text>
<text font-size="9.4" fill="#231f20" text-anchor="middle" transform="translate(391.8 422.3) rotate(-90)">Age (d)</text>
<circle cx="425.9" cy="409" r="1.3" fill="#111"/>
<circle cx="424" cy="413.4" r="1.3" fill="#111"/>
<circle cx="426.7" cy="413.4" r="1.3" fill="#111"/>
<circle cx="424.2" cy="416.3" r="1.3" fill="#111"/>
<circle cx="427.5" cy="416.5" r="1.3" fill="#111"/>
<circle cx="424" cy="422.2" r="1.3" fill="#111"/>
<circle cx="426.9" cy="423" r="1.3" fill="#111"/>
<circle cx="425.2" cy="427.4" r="1.3" fill="#111"/>
<circle cx="425.5" cy="430.3" r="1.3" fill="#111"/>
<circle cx="423.3" cy="436" r="1.3" fill="#111"/>
<circle cx="425.2" cy="434.7" r="1.3" fill="#111"/>
<circle cx="428.4" cy="436" r="1.3" fill="#111"/>
<circle cx="423.3" cy="436.9" r="1.3" fill="#111"/>
<circle cx="426.5" cy="436.5" r="1.3" fill="#111"/>
<circle cx="443.1" cy="398.3" r="1.3" fill="#111"/>
<circle cx="443.1" cy="417.5" r="1.3" fill="#111"/>
<circle cx="443.1" cy="421.3" r="1.3" fill="#111"/>
<circle cx="443.1" cy="425" r="1.3" fill="#111"/>
<circle cx="443.1" cy="428.4" r="1.3" fill="#111"/>
<circle cx="442.6" cy="429.7" r="1.3" fill="#111"/>
<circle cx="438.8" cy="434.1" r="1.3" fill="#111"/>
<circle cx="440.6" cy="434.3" r="1.3" fill="#111"/>
<circle cx="442.4" cy="434.1" r="1.3" fill="#111"/>
<circle cx="444.3" cy="434.2" r="1.3" fill="#111"/>
<circle cx="446.1" cy="434.1" r="1.3" fill="#111"/>
<circle cx="447.8" cy="434.2" r="1.3" fill="#111"/>
<text font-size="14.1" fill="#000" transform="translate(515.01 395.80) scale(0.856 1)">K</text>
<polyline points="547.80,432.10 597.60,432.10 597.60,441.20 602.90,441.20 602.90,450.70 609.90,450.70 609.90,459.80 618.70,459.80 618.70,478.80 627.20,478.80 627.20,497.30 628.90,497.30 628.90,506.80 632.50,506.80 632.50,516.30 639.50,516.30 639.50,525.80 656.80,525.80 656.80,535.40" fill="none" stroke="#53a0f6" stroke-width="1.6" stroke-linejoin="round" stroke-linejoin="miter"/>
<polyline points="547.80,432.10 587.20,432.10 587.20,441.40 597.60,441.40 597.60,450.70 599.30,450.70 599.30,459.80 608.20,459.80 608.20,469.30 620.00,469.30 620.00,497.30 621.50,497.30 621.50,506.80 639.50,506.80 639.50,516.30 642.70,516.30 642.70,525.40 649.70,525.40 649.70,535.40" fill="none" stroke="#fa661e" stroke-width="1.6" stroke-linejoin="round" stroke-linejoin="miter"/>
<line x1="547.60" y1="431.30" x2="547.60" y2="539.40" stroke="#231f20" stroke-width="1.3" />
<line x1="542.40" y1="431.90" x2="547.60" y2="431.90" stroke="#231f20" stroke-width="1.3" />
<text x="542.20" y="435.40" font-size="10.0" text-anchor="end" fill="#231f20" >100</text>
<line x1="542.40" y1="483.60" x2="547.60" y2="483.60" stroke="#231f20" stroke-width="1.3" />
<text x="542.20" y="487.10" font-size="10.0" text-anchor="end" fill="#231f20" >50</text>
<line x1="543.30" y1="535.30" x2="547.60" y2="535.30" stroke="#231f20" stroke-width="1.3" />
<text x="541.60" y="538.80" font-size="10.0" text-anchor="end" fill="#231f20" >0</text>
<line x1="547.60" y1="535.30" x2="562.60" y2="535.30" stroke="#231f20" stroke-width="1.3" />
<line x1="562.60" y1="531.90" x2="562.60" y2="538.90" stroke="#231f20" stroke-width="1.2" />
<line x1="570.20" y1="531.90" x2="570.20" y2="538.90" stroke="#231f20" stroke-width="1.2" />
<line x1="570.20" y1="535.30" x2="674.60" y2="535.30" stroke="#231f20" stroke-width="1.3" />
<line x1="604.10" y1="535.30" x2="604.10" y2="539.60" stroke="#231f20" stroke-width="1.3" />
<line x1="639.10" y1="535.30" x2="639.10" y2="539.60" stroke="#231f20" stroke-width="1.3" />
<line x1="674.40" y1="535.30" x2="674.40" y2="539.60" stroke="#231f20" stroke-width="1.3" />
<text x="572.40" y="550.00" font-size="10.0" text-anchor="middle" fill="#231f20" >140</text>
<text x="606.50" y="550.00" font-size="10.0" text-anchor="middle" fill="#231f20" >160</text>
<text x="641.00" y="550.00" font-size="10.0" text-anchor="middle" fill="#231f20" >180</text>
<text x="675.00" y="550.00" font-size="10.0" text-anchor="middle" fill="#231f20" >200</text>
<text x="598.70" y="575.90" font-size="10.6" text-anchor="middle" fill="#231f20" >Age (days)</text>
<text font-size="10.4" fill="#231f20" text-anchor="middle" transform="translate(527.6 481) rotate(-90)">Probability of survival</text>
<text font-size="12" fill="#231f20" text-anchor="middle" transform="translate(559 525.6) scale(0.82 1)">ns</text>
<text font-size="14.1" fill="#000" transform="translate(4.79 655.00) scale(0.872 1)">F</text>
<polygon points="33.90,766.80 34.53,765.49 35.15,762.93 35.78,761.63 36.41,759.35 37.04,758.31 37.66,756.43 38.29,754.71 38.92,752.88 39.55,750.79 40.17,749.22 40.80,747.10 41.77,745.28 42.73,743.77 43.70,742.44 44.67,741.10 45.63,739.63 46.60,738.00 47.41,736.24 48.23,734.57 49.04,733.21 49.86,731.50 50.67,730.33 51.49,729.01 52.30,727.20 53.75,728.18 55.20,729.40 56.40,727.51 57.60,726.11 58.80,724.30 60.47,723.99 62.13,723.21 63.80,722.90 64.77,721.61 65.73,719.09 66.70,717.90 68.85,717.19 71.00,717.20 72.67,716.53 74.33,715.85 76.00,714.70 77.08,713.69 78.15,712.21 79.22,710.92 80.30,709.20 81.73,707.67 83.17,706.26 84.60,704.70 86.80,703.90 88.95,704.96 91.10,705.70 92.63,704.94 94.17,704.35 95.70,703.50 97.28,704.01 98.86,704.00 100.44,705.10 102.02,704.79 103.60,705.70 104.88,706.96 106.15,708.61 107.42,709.03 108.70,710.70 109.65,711.99 110.60,713.79 111.55,714.74 112.50,715.69 113.45,717.94 114.40,718.86 115.25,719.83 116.10,721.78 116.95,722.88 117.80,723.82 118.65,725.51 119.50,726.95 120.75,728.64 122.00,729.83 123.25,731.37 124.50,732.25 125.22,733.64 125.93,735.48 126.65,737.38 127.37,738.33 128.08,739.99 128.80,741.82 129.94,742.79 131.08,744.60 132.22,745.04 133.36,746.45 134.50,748.00 135.78,749.60 137.05,750.72 138.32,752.19 139.60,753.70 141.03,754.50 142.47,755.07 143.90,755.66 145.33,757.18 146.77,757.31 148.20,758.50 150.17,758.58 152.15,758.25 154.12,758.45 156.10,758.80 156.10,770.80 154.12,770.45 152.15,770.25 150.17,770.58 148.20,770.50 146.77,769.31 145.33,769.18 143.90,767.66 142.47,767.07 141.03,766.50 139.60,765.70 138.32,764.19 137.05,762.72 135.78,761.60 134.50,760.00 133.36,758.45 132.22,757.04 131.08,756.41 129.94,754.38 128.80,753.18 128.08,751.21 127.37,749.40 126.65,748.31 125.93,746.27 125.22,744.28 124.50,742.75 123.25,741.62 122.00,739.83 120.75,738.39 119.50,736.45 118.65,734.84 117.80,732.98 116.95,731.87 116.10,730.60 115.25,728.48 114.40,727.34 113.45,726.23 112.50,723.79 111.55,722.65 110.60,721.51 109.65,719.59 108.70,718.30 107.42,716.63 106.15,716.21 104.88,714.56 103.60,713.30 102.02,712.39 100.44,712.70 98.86,711.60 97.28,711.61 95.70,711.10 94.17,711.95 92.63,712.54 91.10,713.30 88.95,712.56 86.80,711.50 84.60,712.30 83.17,713.86 81.73,715.27 80.30,716.80 79.22,718.52 78.15,719.81 77.08,721.29 76.00,722.30 74.33,723.45 72.67,724.13 71.00,724.80 68.85,724.79 66.70,725.50 65.73,726.69 64.77,729.21 63.80,730.50 62.13,730.81 60.47,731.59 58.80,731.90 57.60,733.71 56.40,735.11 55.20,737.00 53.75,735.78 52.30,734.80 51.49,736.61 50.67,737.93 49.86,739.10 49.04,740.81 48.23,742.17 47.41,743.84 46.60,745.60 45.63,747.23 44.67,748.70 43.70,750.04 42.73,751.37 41.77,752.69 40.80,753.70 40.17,755.28 39.55,756.33 38.92,757.89 38.29,759.20 37.66,760.39 37.04,761.74 36.41,762.26 35.78,764.01 35.15,764.79 34.53,766.81 33.90,767.60" fill="#d8e7fb" stroke="none" style="mix-blend-mode:multiply"/>
<polygon points="33.90,766.80 34.70,765.15 35.50,763.04 36.30,760.94 37.10,758.61 37.90,757.08 38.62,755.12 39.35,752.79 40.07,750.88 40.80,748.78 42.20,749.20 43.10,748.22 44.00,746.33 44.90,744.60 45.80,743.40 46.73,741.94 47.66,740.84 48.59,739.06 49.51,738.38 50.44,736.96 51.37,735.61 52.30,734.10 53.60,732.76 54.90,732.34 56.20,731.10 57.50,729.62 58.80,729.00 60.60,727.37 62.40,726.20 63.26,724.46 64.12,723.26 64.98,721.88 65.84,720.40 66.70,718.60 68.85,718.92 71.00,718.30 72.45,716.94 73.90,716.10 76.00,715.70 76.73,713.74 77.47,712.25 78.20,710.40 80.30,710.80 81.38,709.47 82.45,707.72 83.52,706.26 84.60,704.60 86.75,703.26 88.90,702.70 90.70,702.56 92.50,702.20 93.60,702.20 95.40,702.69 97.20,703.60 98.80,703.56 100.40,704.68 102.00,705.22 103.60,705.30 104.80,706.14 106.00,707.88 107.20,708.90 108.63,709.75 110.07,710.28 111.50,711.40 112.23,713.29 112.97,714.71 113.70,716.63 114.43,717.95 115.17,719.12 115.90,721.10 116.76,722.46 117.62,724.30 118.48,725.51 119.34,726.97 120.20,728.30 122.00,729.00 123.80,730.50 124.88,731.77 125.95,732.90 127.02,734.47 128.10,736.20 128.80,737.77 129.50,740.15 130.20,741.39 130.90,743.40 131.92,745.12 132.94,745.81 133.96,747.56 134.98,749.64 136.00,750.60 137.43,751.01 138.85,752.26 140.27,753.28 141.70,754.20 143.37,754.72 145.03,755.77 146.70,756.60 148.58,756.43 150.46,756.65 152.34,756.73 154.22,756.80 156.10,756.60 156.10,763.40 154.22,763.60 152.34,763.53 150.46,763.45 148.58,763.23 146.70,763.40 145.03,762.57 143.37,761.52 141.70,761.00 140.27,760.08 138.85,759.06 137.43,757.81 136.00,757.40 134.98,756.44 133.96,754.36 132.94,752.61 131.92,751.92 130.90,750.20 130.20,748.19 129.50,746.95 128.80,744.57 128.10,743.00 127.02,741.27 125.95,739.70 124.88,738.57 123.80,737.30 122.00,735.80 120.20,735.10 119.34,733.77 118.48,732.31 117.62,731.10 116.76,729.26 115.90,727.90 115.17,725.92 114.43,724.75 113.70,723.43 112.97,721.51 112.23,720.09 111.50,718.20 110.07,717.08 108.63,716.55 107.20,715.70 106.00,714.68 104.80,712.94 103.60,712.10 102.00,712.02 100.40,711.48 98.80,710.36 97.20,710.40 95.40,709.49 93.60,709.00 92.50,709.00 90.70,709.36 88.90,709.50 86.75,710.06 84.60,711.40 83.52,713.06 82.45,714.52 81.38,716.27 80.30,717.60 78.20,717.20 77.47,719.05 76.73,720.54 76.00,722.50 73.90,722.90 72.45,723.74 71.00,725.10 68.85,725.72 66.70,725.40 65.84,727.20 64.98,728.68 64.12,730.06 63.26,731.26 62.40,733.00 60.60,734.17 58.80,735.80 57.50,736.42 56.20,737.90 54.90,739.14 53.60,739.56 52.30,740.90 51.37,742.41 50.44,743.76 49.51,745.18 48.59,745.86 47.66,747.64 46.73,748.74 45.80,750.20 44.90,751.40 44.00,753.13 43.10,755.02 42.20,756.00 40.80,754.82 40.07,756.37 39.35,757.73 38.62,759.51 37.90,760.92 37.10,761.84 36.30,763.56 35.50,765.06 34.70,766.56 33.90,767.60" fill="#fde0c6" stroke="none" style="mix-blend-mode:multiply"/>
<polyline points="33.90,767.20 34.53,766.15 35.15,763.86 35.78,762.82 36.41,760.81 37.04,760.03 37.66,758.41 38.29,756.96 38.92,755.39 39.55,753.56 40.17,752.25 40.80,750.40 41.77,748.99 42.73,747.57 43.70,746.24 44.67,744.90 45.63,743.43 46.60,741.80 47.41,740.04 48.23,738.37 49.04,737.01 49.86,735.30 50.67,734.13 51.49,732.81 52.30,731.00 53.75,731.98 55.20,733.20 56.40,731.31 57.60,729.91 58.80,728.10 60.47,727.79 62.13,727.01 63.80,726.70 64.77,725.41 65.73,722.89 66.70,721.70 68.85,720.99 71.00,721.00 72.67,720.33 74.33,719.65 76.00,718.50 77.08,717.49 78.15,716.01 79.22,714.72 80.30,713.00 81.73,711.47 83.17,710.06 84.60,708.50 86.80,707.70 88.95,708.76 91.10,709.50 92.63,708.74 94.17,708.15 95.70,707.30 97.28,707.81 98.86,707.80 100.44,708.90 102.02,708.59 103.60,709.50 104.88,710.76 106.15,712.41 107.42,712.83 108.70,714.50 109.65,715.79 110.60,717.65 111.55,718.69 112.50,719.74 113.45,722.08 114.40,723.10 115.25,724.16 116.10,726.19 116.95,727.37 117.80,728.40 118.65,730.17 119.50,731.70 120.75,733.51 122.00,734.83 123.25,736.49 124.50,737.50 125.22,738.96 125.93,740.87 126.65,742.85 127.37,743.87 128.08,745.60 128.80,747.50 129.94,748.59 131.08,750.50 132.22,751.04 133.36,752.45 134.50,754.00 135.78,755.60 137.05,756.72 138.32,758.19 139.60,759.70 141.03,760.50 142.47,761.07 143.90,761.66 145.33,763.18 146.77,763.31 148.20,764.50 150.17,764.58 152.15,764.25 154.12,764.45 156.10,764.80" fill="none" stroke="#5a9ff2" stroke-width="1.0" stroke-linejoin="round" />
<polyline points="33.90,767.20 34.70,765.86 35.50,764.05 36.30,762.25 37.10,760.22 37.90,759.00 38.62,757.31 39.35,755.26 40.07,753.62 40.80,751.80 42.20,752.60 43.10,751.62 44.00,749.73 44.90,748.00 45.80,746.80 46.73,745.34 47.66,744.24 48.59,742.46 49.51,741.78 50.44,740.36 51.37,739.01 52.30,737.50 53.60,736.16 54.90,735.74 56.20,734.50 57.50,733.02 58.80,732.40 60.60,730.77 62.40,729.60 63.26,727.86 64.12,726.66 64.98,725.28 65.84,723.80 66.70,722.00 68.85,722.32 71.00,721.70 72.45,720.34 73.90,719.50 76.00,719.10 76.73,717.14 77.47,715.65 78.20,713.80 80.30,714.20 81.38,712.87 82.45,711.12 83.52,709.66 84.60,708.00 86.75,706.66 88.90,706.10 90.70,705.96 92.50,705.60 93.60,705.60 95.40,706.09 97.20,707.00 98.80,706.96 100.40,708.08 102.00,708.62 103.60,708.70 104.80,709.54 106.00,711.28 107.20,712.30 108.63,713.15 110.07,713.68 111.50,714.80 112.23,716.69 112.97,718.11 113.70,720.03 114.43,721.35 115.17,722.52 115.90,724.50 116.76,725.86 117.62,727.70 118.48,728.91 119.34,730.37 120.20,731.70 122.00,732.40 123.80,733.90 124.88,735.17 125.95,736.30 127.02,737.87 128.10,739.60 128.80,741.17 129.50,743.55 130.20,744.79 130.90,746.80 131.92,748.52 132.94,749.21 133.96,750.96 134.98,753.04 136.00,754.00 137.43,754.41 138.85,755.66 140.27,756.68 141.70,757.60 143.37,758.12 145.03,759.17 146.70,760.00 148.58,759.83 150.46,760.05 152.34,760.13 154.22,760.20 156.10,760.00" fill="none" stroke="#f7861c" stroke-width="1.1" stroke-linejoin="round" />
<line x1="34.00" y1="687.70" x2="34.00" y2="794.50" stroke="#231f20" stroke-width="1.3" />
<line x1="29.40" y1="688.30" x2="34.00" y2="688.30" stroke="#231f20" stroke-width="1.3" />
<text x="28.80" y="691.70" font-size="10.0" text-anchor="end" fill="#231f20" >130</text>
<line x1="29.40" y1="714.80" x2="34.00" y2="714.80" stroke="#231f20" stroke-width="1.3" />
<text x="28.80" y="718.20" font-size="10.0" text-anchor="end" fill="#231f20" >120</text>
<line x1="29.40" y1="741.10" x2="34.00" y2="741.10" stroke="#231f20" stroke-width="1.3" />
<text x="28.80" y="744.50" font-size="10.0" text-anchor="end" fill="#231f20" >110</text>
<line x1="29.40" y1="767.20" x2="34.00" y2="767.20" stroke="#231f20" stroke-width="1.3" />
<text x="28.80" y="770.60" font-size="10.0" text-anchor="end" fill="#231f20" >100</text>
<line x1="29.40" y1="793.90" x2="34.00" y2="793.90" stroke="#231f20" stroke-width="1.3" />
<text x="28.80" y="797.30" font-size="10.0" text-anchor="end" fill="#231f20" >90</text>
<line x1="34.00" y1="793.90" x2="160.40" y2="793.90" stroke="#231f20" stroke-width="1.3" />
<line x1="34.00" y1="793.90" x2="34.00" y2="798.20" stroke="#231f20" stroke-width="1.3" />
<line x1="54.90" y1="793.90" x2="54.90" y2="798.20" stroke="#231f20" stroke-width="1.3" />
<line x1="75.80" y1="793.90" x2="75.80" y2="798.20" stroke="#231f20" stroke-width="1.3" />
<line x1="96.60" y1="793.90" x2="96.60" y2="798.20" stroke="#231f20" stroke-width="1.3" />
<line x1="117.90" y1="793.90" x2="117.90" y2="798.20" stroke="#231f20" stroke-width="1.3" />
<line x1="139.10" y1="793.90" x2="139.10" y2="798.20" stroke="#231f20" stroke-width="1.3" />
<line x1="160.40" y1="793.90" x2="160.40" y2="798.20" stroke="#231f20" stroke-width="1.3" />
<text x="33.10" y="811.00" font-size="10.0" text-anchor="middle" fill="#231f20" >50</text>
<text x="54.30" y="811.00" font-size="10.0" text-anchor="middle" fill="#231f20" >75</text>
<text x="75.60" y="811.00" font-size="10.0" text-anchor="middle" fill="#231f20" >100</text>
<text x="96.10" y="811.00" font-size="10.0" text-anchor="middle" fill="#231f20" >125</text>
<text x="117.40" y="811.00" font-size="10.0" text-anchor="middle" fill="#231f20" >150</text>
<text x="146.30" y="811.00" font-size="10.0" text-anchor="middle" fill="#231f20" >175200</text>
<text x="84.85" y="833.90" font-size="10.6" text-anchor="middle" fill="#231f20" >Age (days)</text>
<text font-size="10.4" fill="#231f20" text-anchor="middle" transform="translate(7.8 744) rotate(-90)">Weight (% of start weight)</text>
<text font-size="12" fill="#231f20" text-anchor="middle" transform="translate(44.85 785) scale(0.82 1)">ns</text>
<text font-size="14.0" fill="#000" transform="translate(197.97 654.70) scale(0.896 1)">H</text>
<polygon points="204.00,713.00 210.00,715.80 216.90,728.00 223.70,733.80 229.40,738.10 236.60,741.70 243.00,743.80 249.50,746.00 256.00,752.40 262.20,748.90 269.30,750.40 275.50,756.80 281.50,759.00 288.40,765.50 294.50,766.20 301.70,774.10 307.40,771.90 313.90,780.50 320.30,785.00 327.50,785.00 327.50,789.00 320.30,789.00 313.90,785.60 307.40,782.70 301.70,784.90 294.50,774.80 288.40,773.40 281.50,771.90 275.50,769.00 269.30,765.50 262.20,762.60 256.00,768.90 249.50,763.20 243.00,756.70 236.60,759.60 229.40,752.40 223.70,751.70 216.90,743.80 210.00,733.80 204.00,733.10" fill="#d8e7fb" stroke="none" style="mix-blend-mode:multiply"/>
<polygon points="204.00,695.30 214.30,695.30 216.90,707.20 223.00,707.20 229.40,724.90 235.90,722.30 243.00,728.30 249.50,730.90 256.00,733.80 262.20,723.80 269.30,732.40 275.50,748.20 281.50,742.50 288.40,761.90 294.50,754.70 301.70,765.50 307.40,773.40 313.90,781.30 320.30,786.30 327.50,786.30 327.50,788.70 320.30,788.70 313.90,787.00 307.40,784.80 301.70,779.80 294.50,771.20 288.40,773.40 281.50,759.70 275.50,762.60 269.30,751.10 262.20,748.20 256.00,756.00 249.50,750.30 243.00,746.70 235.90,743.80 229.40,742.40 223.00,735.20 216.90,739.50 210.00,715.10 204.00,705.10" fill="#fde0c6" stroke="none" style="mix-blend-mode:multiply"/>
<polyline points="204.00,719.40 210.00,722.60 216.90,735.90 223.70,743.10 229.40,745.30 236.60,751.00 243.00,749.60 249.50,755.00 256.00,760.80 262.20,754.70 269.30,756.10 275.50,762.60 281.50,766.20 288.40,767.60 294.50,768.60 301.70,780.50 307.40,777.70 313.90,782.70 320.30,787.30 327.50,787.30" fill="none" stroke="#5a9ff2" stroke-width="1.0" stroke-linejoin="round" />
<polyline points="204.00,697.90 210.00,710.80 216.90,723.50 223.00,721.20 229.40,735.50 235.90,733.10 243.00,739.20 249.50,743.50 256.00,745.30 262.20,736.00 269.30,743.20 275.50,756.10 281.50,750.10 288.40,768.00 294.50,763.30 301.70,772.90 307.40,779.80 313.90,784.80 320.30,787.40 327.50,787.40" fill="none" stroke="#f7861c" stroke-width="1.1" stroke-linejoin="round" />
<line x1="204.00" y1="694.70" x2="204.00" y2="798.90" stroke="#231f20" stroke-width="1.3" />
<line x1="199.40" y1="695.30" x2="204.00" y2="695.30" stroke="#231f20" stroke-width="1.3" />
<text x="196.20" y="698.70" font-size="10.0" text-anchor="end" fill="#231f20" >80</text>
<line x1="199.40" y1="721.20" x2="204.00" y2="721.20" stroke="#231f20" stroke-width="1.3" />
<text x="196.20" y="724.60" font-size="10.0" text-anchor="end" fill="#231f20" >60</text>
<line x1="199.40" y1="747.00" x2="204.00" y2="747.00" stroke="#231f20" stroke-width="1.3" />
<text x="196.20" y="750.40" font-size="10.0" text-anchor="end" fill="#231f20" >40</text>
<line x1="199.40" y1="772.80" x2="204.00" y2="772.80" stroke="#231f20" stroke-width="1.3" />
<text x="196.20" y="776.20" font-size="10.0" text-anchor="end" fill="#231f20" >20</text>
<line x1="199.40" y1="798.30" x2="204.00" y2="798.30" stroke="#231f20" stroke-width="1.3" />
<text x="196.20" y="801.70" font-size="10.0" text-anchor="end" fill="#231f20" >0</text>
<line x1="204.00" y1="798.30" x2="328.70" y2="798.30" stroke="#231f20" stroke-width="1.3" />
<line x1="206.50" y1="798.30" x2="206.50" y2="802.60" stroke="#231f20" stroke-width="1.3" />
<line x1="225.50" y1="798.30" x2="225.50" y2="802.60" stroke="#231f20" stroke-width="1.3" />
<line x1="243.80" y1="798.30" x2="243.80" y2="802.60" stroke="#231f20" stroke-width="1.3" />
<line x1="262.40" y1="798.30" x2="262.40" y2="802.60" stroke="#231f20" stroke-width="1.3" />
<line x1="281.30" y1="798.30" x2="281.30" y2="802.60" stroke="#231f20" stroke-width="1.3" />
<line x1="299.50" y1="798.30" x2="299.50" y2="802.60" stroke="#231f20" stroke-width="1.3" />
<line x1="318.20" y1="798.30" x2="318.20" y2="802.60" stroke="#231f20" stroke-width="1.3" />
<text x="207.20" y="814.70" font-size="10.0" text-anchor="middle" fill="#231f20" >60</text>
<text x="245.00" y="814.70" font-size="10.0" text-anchor="middle" fill="#231f20" >100</text>
<text x="280.60" y="814.70" font-size="10.0" text-anchor="middle" fill="#231f20" >140</text>
<text x="317.50" y="814.70" font-size="10.0" text-anchor="middle" fill="#231f20" >180</text>
<text x="258.50" y="833.90" font-size="10.6" text-anchor="middle" fill="#231f20" >Age (days)</text>
<text font-size="10.4" fill="#231f20" text-anchor="middle" transform="translate(180.6 751.5) rotate(-90)">Average latency to fall (s)</text>
<path d="M209.15,782.40 L213.65,782.40 M210.28,780.45 L212.53,784.35 M212.53,780.45 L210.28,784.35 " stroke="#2a2a2a" stroke-width="1.05" fill="none"/>
<path d="M214.02,782.40 L218.52,782.40 M215.15,780.45 L217.40,784.35 M217.40,780.45 L215.15,784.35 " stroke="#2a2a2a" stroke-width="1.05" fill="none"/>
<path d="M218.89,782.40 L223.39,782.40 M220.02,780.45 L222.27,784.35 M222.27,780.45 L220.02,784.35 " stroke="#2a2a2a" stroke-width="1.05" fill="none"/>
<path d="M223.76,782.40 L228.26,782.40 M224.88,780.45 L227.13,784.35 M227.13,780.45 L224.88,784.35 " stroke="#2a2a2a" stroke-width="1.05" fill="none"/>
<path d="M332.6,645.1 L332.6,652.3 Q332.6,654.5 330.6,654.5 L329.2,654.4" fill="none" stroke="#231f20" stroke-width="1.25"/>
<polygon points="368.80,800.60 380.40,797.50 384.00,793.10 398.50,793.10 400.90,790.50 428.30,790.50 430.70,788.10 435.90,788.00 438.60,783.40 444.50,781.50 447.80,780.20 451.70,778.20 455.00,772.90 459.60,767.70 462.90,761.20 466.80,744.80 470.80,736.90 474.70,729.30 478.00,728.00 480.70,725.70 484.60,725.10 487.90,721.10 490.50,718.20 500.40,718.20 500.40,728.60 490.50,728.60 487.90,731.50 484.60,735.50 480.70,736.10 478.00,738.40 474.70,739.70 470.80,747.30 466.80,755.20 462.90,771.60 459.60,774.50 455.00,779.70 451.70,785.00 447.80,787.00 444.50,788.30 438.60,790.20 435.90,794.80 430.70,794.90 428.30,797.30 400.90,797.30 398.50,799.90 384.00,799.90 380.40,804.30 368.80,801.20" fill="#d8e7fb" stroke="none" style="mix-blend-mode:multiply"/>
<polygon points="368.80,800.60 372.80,797.30 375.80,791.70 382.80,791.70 385.70,785.90 388.00,785.90 390.40,783.20 405.00,783.20 407.30,780.60 428.90,780.60 430.70,777.70 445.80,778.00 448.40,767.20 452.40,763.90 458.30,758.00 461.60,744.20 464.90,743.50 468.20,735.60 470.10,734.90 473.40,727.70 476.70,726.40 479.30,713.10 483.90,708.40 487.20,705.20 500.40,705.20 500.40,721.20 487.20,721.20 483.90,724.40 479.30,729.10 476.70,739.40 473.40,740.70 470.10,747.90 468.20,748.60 464.90,756.50 461.60,757.20 458.30,771.00 452.40,776.90 448.40,780.20 445.80,785.20 430.70,784.90 428.90,787.80 407.30,787.80 405.00,790.40 390.40,790.40 388.00,793.10 385.70,793.10 382.80,798.90 375.80,798.90 372.80,804.50 368.80,801.20" fill="#fde0c6" stroke="none" style="mix-blend-mode:multiply"/>
<polyline points="368.80,800.90 380.40,800.90 384.00,796.50 398.50,796.50 400.90,793.90 428.30,793.90 430.70,791.50 435.90,791.40 438.60,786.80 444.50,784.90 447.80,783.60 451.70,781.60 455.00,776.30 459.60,771.10 462.90,766.40 466.80,750.00 470.80,742.10 474.70,734.50 478.00,733.20 480.70,730.90 484.60,730.30 487.90,726.30 490.50,723.40 500.40,723.40" fill="none" stroke="#5a9ff2" stroke-width="1.0" stroke-linejoin="round" />
<polyline points="368.80,800.90 372.80,800.90 375.80,795.30 382.80,795.30 385.70,789.50 388.00,789.50 390.40,786.80 405.00,786.80 407.30,784.20 428.90,784.20 430.70,781.30 445.80,781.60 448.40,773.70 452.40,770.40 458.30,764.50 461.60,750.70 464.90,750.00 468.20,742.10 470.10,741.40 473.40,734.20 476.70,732.90 479.30,721.10 483.90,716.40 487.20,713.20 500.40,713.20" fill="none" stroke="#f7861c" stroke-width="1.1" stroke-linejoin="round" />
<line x1="368.80" y1="687.20" x2="368.80" y2="801.50" stroke="#231f20" stroke-width="1.3" />
<line x1="364.00" y1="687.80" x2="368.80" y2="687.80" stroke="#231f20" stroke-width="1.3" />
<text x="360.20" y="691.20" font-size="10.0" text-anchor="end" fill="#231f20" >4</text>
<line x1="364.00" y1="716.20" x2="368.80" y2="716.20" stroke="#231f20" stroke-width="1.3" />
<text x="360.20" y="719.60" font-size="10.0" text-anchor="end" fill="#231f20" >3</text>
<line x1="364.00" y1="744.50" x2="368.80" y2="744.50" stroke="#231f20" stroke-width="1.3" />
<text x="360.20" y="747.90" font-size="10.0" text-anchor="end" fill="#231f20" >2</text>
<line x1="364.00" y1="772.80" x2="368.80" y2="772.80" stroke="#231f20" stroke-width="1.3" />
<text x="360.20" y="776.20" font-size="10.0" text-anchor="end" fill="#231f20" >1</text>
<line x1="364.00" y1="800.90" x2="368.80" y2="800.90" stroke="#231f20" stroke-width="1.3" />
<text x="360.20" y="804.30" font-size="10.0" text-anchor="end" fill="#231f20" >0</text>
<line x1="368.80" y1="800.90" x2="504.70" y2="800.90" stroke="#231f20" stroke-width="1.3" />
<line x1="368.80" y1="800.90" x2="368.80" y2="805.20" stroke="#231f20" stroke-width="1.3" />
<line x1="414.00" y1="800.90" x2="414.00" y2="805.20" stroke="#231f20" stroke-width="1.3" />
<line x1="459.20" y1="800.90" x2="459.20" y2="805.20" stroke="#231f20" stroke-width="1.3" />
<line x1="504.70" y1="800.90" x2="504.70" y2="805.20" stroke="#231f20" stroke-width="1.3" />
<text x="368.00" y="817.20" font-size="10.0" text-anchor="middle" fill="#231f20" >50</text>
<text x="413.00" y="817.20" font-size="10.0" text-anchor="middle" fill="#231f20" >100</text>
<text x="458.20" y="817.20" font-size="10.0" text-anchor="middle" fill="#231f20" >150</text>
<text x="503.90" y="817.20" font-size="10.0" text-anchor="middle" fill="#231f20" >200</text>
<text x="437.00" y="833.90" font-size="10.6" text-anchor="middle" fill="#231f20" >Age (days)</text>
<text font-size="10.4" fill="#231f20" text-anchor="middle" transform="translate(349.4 741.9) rotate(-90)">Neurological score</text>
<path d="M478.00,782.60 L482.40,782.60 M479.10,780.69 L481.30,784.51 M481.30,780.69 L479.10,784.51 " stroke="#2a2a2a" stroke-width="1.05" fill="none"/>
<path d="M482.70,782.60 L487.10,782.60 M483.80,780.69 L486.00,784.51 M486.00,780.69 L483.80,784.51 " stroke="#2a2a2a" stroke-width="1.05" fill="none"/>
<path d="M487.40,782.60 L491.80,782.60 M488.50,780.69 L490.70,784.51 M490.70,780.69 L488.50,784.51 " stroke="#2a2a2a" stroke-width="1.05" fill="none"/>
<path d="M492.10,782.60 L496.50,782.60 M493.20,780.69 L495.40,784.51 M495.40,780.69 L493.20,784.51 " stroke="#2a2a2a" stroke-width="1.05" fill="none"/>
<rect x="416.2" y="697.3" width="11.6" height="34.7" fill="#f7a77a" stroke="#6b4a3a" stroke-width="0.9"/>
<rect x="434.1" y="686.4" width="11.6" height="45.6" fill="#9cc6f5" stroke="#3d4e66" stroke-width="0.9"/>
<line x1="409.90" y1="657.50" x2="409.90" y2="732.60" stroke="#231f20" stroke-width="1.2" />
<line x1="406.40" y1="658.10" x2="409.90" y2="658.10" stroke="#231f20" stroke-width="1.2" />
<text x="404.90" y="661.50" font-size="9.8" text-anchor="end" fill="#231f20" >200</text>
<line x1="406.40" y1="676.50" x2="409.90" y2="676.50" stroke="#231f20" stroke-width="1.2" />
<text x="404.90" y="679.90" font-size="9.8" text-anchor="end" fill="#231f20" >150</text>
<line x1="406.40" y1="695.20" x2="409.90" y2="695.20" stroke="#231f20" stroke-width="1.2" />
<text x="404.90" y="698.60" font-size="9.8" text-anchor="end" fill="#231f20" >100</text>
<line x1="406.40" y1="713.50" x2="409.90" y2="713.50" stroke="#231f20" stroke-width="1.2" />
<text x="404.90" y="716.90" font-size="9.8" text-anchor="end" fill="#231f20" >50</text>
<line x1="406.40" y1="731.90" x2="409.90" y2="731.90" stroke="#231f20" stroke-width="1.2" />
<text x="404.90" y="735.30" font-size="9.8" text-anchor="end" fill="#231f20" >0</text>
<line x1="410.10" y1="732.00" x2="452.10" y2="732.00" stroke="#231f20" stroke-width="1.2" />
<polyline points="421.6,677.2 421.6,665.8 439.6,665.8 439.6,670" fill="none" stroke="#231f20" stroke-width="1"/>
<text x="430.20" y="665.20" font-size="10" text-anchor="middle" fill="#231f20" >*</text>
<text font-size="10.3" fill="#231f20" text-anchor="middle" transform="translate(384.9 687.9) rotate(-90)">Age (d)</text>
<circle cx="419.7" cy="680.7" r="1.3" fill="#111"/>
<circle cx="422.3" cy="680.7" r="1.3" fill="#111"/>
<circle cx="424.5" cy="681.5" r="1.3" fill="#111"/>
<circle cx="421.9" cy="688.6" r="1.3" fill="#111"/>
<circle cx="421.9" cy="698.2" r="1.3" fill="#111"/>
<circle cx="422.3" cy="704.8" r="1.3" fill="#111"/>
<circle cx="423.9" cy="706.1" r="1.3" fill="#111"/>
<circle cx="420.6" cy="708.1" r="1.3" fill="#111"/>
<circle cx="422.6" cy="709.4" r="1.3" fill="#111"/>
<circle cx="421" cy="710.7" r="1.3" fill="#111"/>
<circle cx="423.2" cy="710.7" r="1.3" fill="#111"/>
<circle cx="439.6" cy="673.2" r="1.3" fill="#111"/>
<circle cx="438.3" cy="676.5" r="1.3" fill="#111"/>
<circle cx="441.2" cy="676.8" r="1.3" fill="#111"/>
<circle cx="439.6" cy="679.4" r="1.3" fill="#111"/>
<circle cx="439" cy="683.8" r="1.3" fill="#111"/>
<circle cx="441" cy="684.4" r="1.3" fill="#111"/>
<circle cx="439.6" cy="688.4" r="1.3" fill="#111"/>
<circle cx="439.6" cy="700.8" r="1.3" fill="#111"/>
<circle cx="439.6" cy="702.5" r="1.3" fill="#111"/>
<circle cx="439.6" cy="708.5" r="1.3" fill="#111"/>
<text font-size="14.1" fill="#000" transform="translate(515.01 655.00) scale(0.854 1)">L</text>
<polyline points="552.60,699.60 606.90,699.60 606.90,716.20 608.40,716.20 608.40,724.70 611.40,724.70 611.40,733.30 613.10,733.30 613.10,741.70 623.70,741.70 623.70,767.70 644.70,767.70 644.70,775.80 646.20,775.80 646.20,784.40 652.90,784.40 652.90,793.20 656.40,793.20 656.40,801.40" fill="none" stroke="#53a0f6" stroke-width="1.6" stroke-linejoin="round" stroke-linejoin="miter"/>
<polyline points="552.60,699.60 594.70,699.60 594.70,709.40 596.10,709.40 596.10,720.00 606.30,720.00 606.30,729.90 610.00,729.90 610.00,740.10 620.60,740.10 620.60,750.70 632.50,750.70 632.50,760.50 633.90,760.50 633.90,780.90 647.60,780.90 647.60,791.20 649.20,791.20 649.20,801.40" fill="none" stroke="#fa661e" stroke-width="1.6" stroke-linejoin="round" stroke-linejoin="miter"/>
<line x1="552.50" y1="698.80" x2="552.50" y2="805.60" stroke="#231f20" stroke-width="1.3" />
<line x1="547.30" y1="699.60" x2="552.50" y2="699.60" stroke="#231f20" stroke-width="1.3" />
<text x="546.90" y="703.10" font-size="10.0" text-anchor="end" fill="#231f20" >100</text>
<line x1="547.30" y1="750.60" x2="552.50" y2="750.60" stroke="#231f20" stroke-width="1.3" />
<text x="546.90" y="754.10" font-size="10.0" text-anchor="end" fill="#231f20" >50</text>
<line x1="545.80" y1="801.50" x2="552.50" y2="801.50" stroke="#231f20" stroke-width="1.3" />
<text x="543.60" y="805.00" font-size="10.0" text-anchor="end" fill="#231f20" >0</text>
<line x1="552.50" y1="801.50" x2="566.90" y2="801.50" stroke="#231f20" stroke-width="1.3" />
<line x1="566.90" y1="798.10" x2="566.90" y2="805.10" stroke="#231f20" stroke-width="1.2" />
<line x1="574.60" y1="798.10" x2="574.60" y2="805.10" stroke="#231f20" stroke-width="1.2" />
<line x1="574.60" y1="801.50" x2="677.50" y2="801.50" stroke="#231f20" stroke-width="1.3" />
<line x1="608.40" y1="801.50" x2="608.40" y2="805.80" stroke="#231f20" stroke-width="1.3" />
<line x1="642.70" y1="801.50" x2="642.70" y2="805.80" stroke="#231f20" stroke-width="1.3" />
<line x1="677.40" y1="801.50" x2="677.40" y2="805.80" stroke="#231f20" stroke-width="1.3" />
<text x="575.50" y="819.90" font-size="10.0" text-anchor="middle" fill="#231f20" >140</text>
<text x="608.60" y="819.90" font-size="10.0" text-anchor="middle" fill="#231f20" >160</text>
<text x="642.70" y="819.90" font-size="10.0" text-anchor="middle" fill="#231f20" >180</text>
<text x="671.40" y="819.90" font-size="10.0" text-anchor="middle" fill="#231f20" >200</text>
<text x="622.20" y="833.90" font-size="10.6" text-anchor="middle" fill="#231f20" >Age (days)</text>
<text font-size="10.4" fill="#231f20" text-anchor="middle" transform="translate(527.6 751.5) rotate(-90)">Probability of survival</text>
<text font-size="12" fill="#231f20" text-anchor="middle" transform="translate(565 793) scale(0.82 1)">ns</text>
</svg>
</body></html>
